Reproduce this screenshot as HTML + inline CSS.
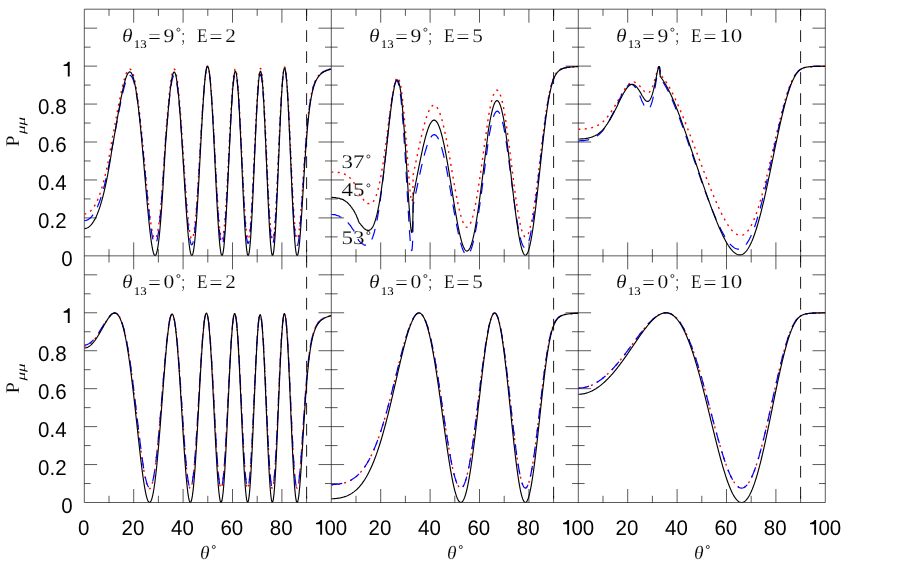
<!DOCTYPE html><html><head><meta charset="utf-8"><title>P</title><style>html,body{margin:0;padding:0;background:#fff}svg{display:block}text{font-family:"Liberation Sans",sans-serif;text-rendering:geometricPrecision}.s text{font-family:"Liberation Serif",serif;fill:#000;stroke:#fff;stroke-width:0.16px;paint-order:fill stroke}.s text.sub{stroke-width:0}.s circle{fill:none;stroke:#222;stroke-width:0.85}</style></head><body>
<svg width="900" height="564" viewBox="0 0 900 564">
<rect width="900" height="564" fill="#fff"/>
<path d="M84.30 9.20V502.50M331.30 9.20V502.50M578.30 9.20V502.50M825.30 9.20V502.50M84.30 9.20H825.30M84.30 255.85H825.30M84.30 502.50H825.30M109.00 9.20v6.7M109.00 255.85v-6.7M133.70 9.20v13.5M133.70 255.85v-13.5M158.40 9.20v6.7M158.40 255.85v-6.7M183.10 9.20v13.5M183.10 255.85v-13.5M207.80 9.20v6.7M207.80 255.85v-6.7M232.50 9.20v13.5M232.50 255.85v-13.5M257.20 9.20v6.7M257.20 255.85v-6.7M281.90 9.20v13.5M281.90 255.85v-13.5M306.60 9.20v6.7M306.60 255.85v-6.7M84.30 236.88h6.3M331.30 236.88h-6.3M84.30 217.90h12.8M331.30 217.90h-12.8M84.30 198.93h6.3M331.30 198.93h-6.3M84.30 179.96h12.8M331.30 179.96h-12.8M84.30 160.98h6.3M331.30 160.98h-6.3M84.30 142.01h12.8M331.30 142.01h-12.8M84.30 123.04h6.3M331.30 123.04h-6.3M84.30 104.07h12.8M331.30 104.07h-12.8M84.30 85.09h6.3M331.30 85.09h-6.3M84.30 66.12h12.8M331.30 66.12h-12.8M84.30 47.15h6.3M331.30 47.15h-6.3M84.30 28.17h12.8M331.30 28.17h-12.8M109.00 255.85v6.7M109.00 502.50v-6.7M133.70 255.85v13.5M133.70 502.50v-13.5M158.40 255.85v6.7M158.40 502.50v-6.7M183.10 255.85v13.5M183.10 502.50v-13.5M207.80 255.85v6.7M207.80 502.50v-6.7M232.50 255.85v13.5M232.50 502.50v-13.5M257.20 255.85v6.7M257.20 502.50v-6.7M281.90 255.85v13.5M281.90 502.50v-13.5M306.60 255.85v6.7M306.60 502.50v-6.7M84.30 483.53h6.3M331.30 483.53h-6.3M84.30 464.55h12.8M331.30 464.55h-12.8M84.30 445.58h6.3M331.30 445.58h-6.3M84.30 426.61h12.8M331.30 426.61h-12.8M84.30 407.63h6.3M331.30 407.63h-6.3M84.30 388.66h12.8M331.30 388.66h-12.8M84.30 369.69h6.3M331.30 369.69h-6.3M84.30 350.72h12.8M331.30 350.72h-12.8M84.30 331.74h6.3M331.30 331.74h-6.3M84.30 312.77h12.8M331.30 312.77h-12.8M84.30 293.80h6.3M331.30 293.80h-6.3M84.30 274.82h12.8M331.30 274.82h-12.8M356.00 9.20v6.7M356.00 255.85v-6.7M380.70 9.20v13.5M380.70 255.85v-13.5M405.40 9.20v6.7M405.40 255.85v-6.7M430.10 9.20v13.5M430.10 255.85v-13.5M454.80 9.20v6.7M454.80 255.85v-6.7M479.50 9.20v13.5M479.50 255.85v-13.5M504.20 9.20v6.7M504.20 255.85v-6.7M528.90 9.20v13.5M528.90 255.85v-13.5M553.60 9.20v6.7M553.60 255.85v-6.7M331.30 236.88h6.3M578.30 236.88h-6.3M331.30 217.90h12.8M578.30 217.90h-12.8M331.30 198.93h6.3M578.30 198.93h-6.3M331.30 179.96h12.8M578.30 179.96h-12.8M331.30 160.98h6.3M578.30 160.98h-6.3M331.30 142.01h12.8M578.30 142.01h-12.8M331.30 123.04h6.3M578.30 123.04h-6.3M331.30 104.07h12.8M578.30 104.07h-12.8M331.30 85.09h6.3M578.30 85.09h-6.3M331.30 66.12h12.8M578.30 66.12h-12.8M331.30 47.15h6.3M578.30 47.15h-6.3M331.30 28.17h12.8M578.30 28.17h-12.8M356.00 255.85v6.7M356.00 502.50v-6.7M380.70 255.85v13.5M380.70 502.50v-13.5M405.40 255.85v6.7M405.40 502.50v-6.7M430.10 255.85v13.5M430.10 502.50v-13.5M454.80 255.85v6.7M454.80 502.50v-6.7M479.50 255.85v13.5M479.50 502.50v-13.5M504.20 255.85v6.7M504.20 502.50v-6.7M528.90 255.85v13.5M528.90 502.50v-13.5M553.60 255.85v6.7M553.60 502.50v-6.7M331.30 483.53h6.3M578.30 483.53h-6.3M331.30 464.55h12.8M578.30 464.55h-12.8M331.30 445.58h6.3M578.30 445.58h-6.3M331.30 426.61h12.8M578.30 426.61h-12.8M331.30 407.63h6.3M578.30 407.63h-6.3M331.30 388.66h12.8M578.30 388.66h-12.8M331.30 369.69h6.3M578.30 369.69h-6.3M331.30 350.72h12.8M578.30 350.72h-12.8M331.30 331.74h6.3M578.30 331.74h-6.3M331.30 312.77h12.8M578.30 312.77h-12.8M331.30 293.80h6.3M578.30 293.80h-6.3M331.30 274.82h12.8M578.30 274.82h-12.8M603.00 9.20v6.7M603.00 255.85v-6.7M627.70 9.20v13.5M627.70 255.85v-13.5M652.40 9.20v6.7M652.40 255.85v-6.7M677.10 9.20v13.5M677.10 255.85v-13.5M701.80 9.20v6.7M701.80 255.85v-6.7M726.50 9.20v13.5M726.50 255.85v-13.5M751.20 9.20v6.7M751.20 255.85v-6.7M775.90 9.20v13.5M775.90 255.85v-13.5M800.60 9.20v6.7M800.60 255.85v-6.7M578.30 236.88h6.3M825.30 236.88h-6.3M578.30 217.90h12.8M825.30 217.90h-12.8M578.30 198.93h6.3M825.30 198.93h-6.3M578.30 179.96h12.8M825.30 179.96h-12.8M578.30 160.98h6.3M825.30 160.98h-6.3M578.30 142.01h12.8M825.30 142.01h-12.8M578.30 123.04h6.3M825.30 123.04h-6.3M578.30 104.07h12.8M825.30 104.07h-12.8M578.30 85.09h6.3M825.30 85.09h-6.3M578.30 66.12h12.8M825.30 66.12h-12.8M578.30 47.15h6.3M825.30 47.15h-6.3M578.30 28.17h12.8M825.30 28.17h-12.8M603.00 255.85v6.7M603.00 502.50v-6.7M627.70 255.85v13.5M627.70 502.50v-13.5M652.40 255.85v6.7M652.40 502.50v-6.7M677.10 255.85v13.5M677.10 502.50v-13.5M701.80 255.85v6.7M701.80 502.50v-6.7M726.50 255.85v13.5M726.50 502.50v-13.5M751.20 255.85v6.7M751.20 502.50v-6.7M775.90 255.85v13.5M775.90 502.50v-13.5M800.60 255.85v6.7M800.60 502.50v-6.7M578.30 483.53h6.3M825.30 483.53h-6.3M578.30 464.55h12.8M825.30 464.55h-12.8M578.30 445.58h6.3M825.30 445.58h-6.3M578.30 426.61h12.8M825.30 426.61h-12.8M578.30 407.63h6.3M825.30 407.63h-6.3M578.30 388.66h12.8M825.30 388.66h-12.8M578.30 369.69h6.3M825.30 369.69h-6.3M578.30 350.72h12.8M825.30 350.72h-12.8M578.30 331.74h6.3M825.30 331.74h-6.3M578.30 312.77h12.8M825.30 312.77h-12.8M578.30 293.80h6.3M825.30 293.80h-6.3M578.30 274.82h12.8M825.30 274.82h-12.8" fill="none" stroke="#000" stroke-width="0.65"/>
<path d="M306.60 9.20V255.85M306.60 255.85V502.50M553.60 9.20V255.85M553.60 255.85V502.50M800.60 9.20V255.85M800.60 255.85V502.50" fill="none" stroke="#000" stroke-width="0.9" stroke-dasharray="11.8 9.2"/>
<defs>
<clipPath id="c00"><rect x="84.30" y="9.20" width="247.0" height="246.65"/></clipPath>
<clipPath id="c01"><rect x="84.30" y="255.85" width="247.0" height="246.65"/></clipPath>
<clipPath id="c10"><rect x="331.30" y="9.20" width="247.0" height="246.65"/></clipPath>
<clipPath id="c11"><rect x="331.30" y="255.85" width="247.0" height="246.65"/></clipPath>
<clipPath id="c20"><rect x="578.30" y="9.20" width="247.0" height="246.65"/></clipPath>
<clipPath id="c21"><rect x="578.30" y="255.85" width="247.0" height="246.65"/></clipPath>
<filter id="gs" x="0" y="0" width="100%" height="100%" filterUnits="userSpaceOnUse" color-interpolation-filters="sRGB"><feColorMatrix type="saturate" values="0"/></filter></defs>
<g clip-path="url(#c00)" fill="none" stroke-linejoin="round">
<path d="M84.30 213.99L84.92 213.96L85.53 213.88L86.15 213.69L86.77 213.51L87.39 213.27L88.00 212.99L88.62 212.64L89.24 212.14L89.86 211.68L90.47 211.11L91.09 210.54L91.71 209.84L92.33 209.16L92.94 208.28L93.56 207.40L94.18 206.45L94.80 205.50L95.41 204.41L96.03 203.25L96.65 201.96L97.27 200.65L97.88 199.19L98.50 197.66L99.12 196.11L99.74 194.41L100.35 192.70L100.97 190.75L101.59 188.88L102.21 186.75L102.82 184.62L103.44 182.40L104.06 180.00L104.68 177.52L105.30 174.94L105.91 172.30L106.53 169.57L107.15 166.65L107.77 163.68L108.38 160.52L109.00 157.42L109.62 154.05L110.23 150.54L110.85 147.05L111.47 142.91L112.09 139.29L112.70 136.07L113.32 132.97L113.94 129.68L114.56 126.36L115.17 123.19L115.79 119.85L116.41 116.50L117.03 113.17L117.64 109.86L118.26 106.75L118.88 103.52L119.50 100.34L120.11 97.41L120.73 94.21L121.35 91.46L121.97 88.64L122.58 85.95L123.20 83.41L123.82 81.02L124.44 78.80L125.06 76.78L125.67 74.96L126.29 73.35L126.91 71.98L127.53 70.86L128.14 69.87L128.76 69.44L129.38 69.03L130.00 69.06L130.61 69.40L131.23 69.96L131.85 71.07L132.47 72.33L133.08 74.03L133.70 76.02L134.32 78.44L134.94 81.17L135.55 84.31L136.17 87.80L136.79 91.61L137.41 95.78L138.02 100.28L138.64 105.11L139.26 110.23L139.88 115.65L140.49 121.33L141.11 127.26L141.73 133.40L142.34 139.72L142.96 146.19L143.58 152.77L144.20 159.41L144.81 166.08L145.43 172.73L146.05 179.31L146.67 185.80L147.28 192.22L147.90 198.43L148.52 204.29L149.14 209.84L149.75 215.12L150.37 219.99L150.99 224.40L151.61 228.30L152.22 231.64L152.84 234.39L153.46 236.51L154.08 237.97L154.69 238.74L155.31 238.77L155.93 238.05L156.55 236.55L157.16 234.30L157.78 231.27L158.40 227.50L158.52 226.63L158.65 225.74L158.77 224.82L158.89 223.87L159.02 222.89L159.02 222.89L159.14 221.88L159.26 220.84L159.39 219.77L159.51 218.68L159.63 217.56L159.64 217.56L159.76 216.41L159.88 215.23L160.01 214.03L160.13 212.80L160.25 211.40L160.25 211.40L160.38 210.27L160.50 208.81L160.62 207.63L160.75 206.13L160.87 204.74L160.87 204.74L160.99 203.34L161.12 201.76L161.24 200.47L161.36 198.84L161.49 197.35L161.49 197.35L161.61 195.84L161.73 194.14L161.86 192.60L161.98 191.04L162.11 189.28L162.11 189.28L162.23 187.68L162.35 186.07L162.48 184.27L162.60 182.45L162.72 180.79L162.72 180.79L162.85 179.12L162.97 177.26L163.09 175.39L163.22 173.51L163.34 171.80L163.34 171.80L163.46 170.08L163.59 168.18L163.71 166.26L163.83 164.36L163.96 162.45L163.96 162.45L164.08 160.54L164.20 158.62L164.33 156.72L164.45 154.82L164.57 152.92L164.58 152.92L164.70 150.76L164.82 148.89L164.95 147.03L165.07 145.06L165.19 143.12L165.19 143.12L165.32 141.12L165.44 139.25L165.56 137.41L165.69 135.48L165.81 133.64L165.81 133.64L165.93 131.86L166.06 130.19L166.18 128.75L166.30 127.24L166.43 125.71L166.43 125.71L166.55 124.21L166.67 122.72L166.80 121.22L166.92 119.74L167.05 118.28L167.05 118.28L167.17 116.83L167.29 115.38L167.42 113.96L167.54 112.54L167.66 111.14L167.66 111.14L167.79 109.75L167.91 108.38L168.03 107.02L168.16 105.67L168.28 104.35L168.28 104.35L168.40 103.03L168.53 101.74L168.65 100.46L168.77 99.21L168.90 97.95L168.90 97.95L169.02 96.73L169.14 95.53L169.27 94.34L169.39 93.18L169.51 92.04L169.52 92.04L169.64 90.93L169.76 89.83L169.89 88.76L170.01 87.72L170.13 86.70L170.13 86.70L170.26 85.70L170.38 84.72L170.50 83.78L170.63 82.86L170.75 81.96L170.75 81.96L170.87 81.10L171.00 80.26L171.12 79.44L171.24 78.64L171.37 77.89L171.37 77.89L171.49 77.15L171.61 76.45L171.74 75.78L171.86 75.14L171.99 74.54L171.99 74.54L172.11 73.96L172.23 73.42L172.36 72.90L172.48 72.42L172.60 71.97L172.60 71.97L172.73 71.55L172.85 71.17L172.97 70.82L173.10 70.50L173.22 70.21L173.84 69.26L174.45 69.21L175.07 70.04L175.69 71.73L176.31 74.33L176.93 77.81L177.54 82.11L178.16 87.25L178.78 93.16L179.39 99.77L180.01 107.05L180.63 114.90L181.25 123.25L181.87 132.00L182.48 141.07L183.10 150.33L183.72 159.69L184.33 169.02L184.95 178.22L185.57 187.16L186.19 195.74L186.81 203.82L187.42 211.30L188.04 218.08L188.66 224.04L189.27 229.12L189.89 233.20L190.51 236.25L191.13 238.18L191.75 238.97L192.36 238.58L192.98 237.00L193.60 234.24L194.22 230.32L194.83 225.28L195.45 219.18L196.07 212.09L196.69 204.11L197.30 195.32L197.92 185.87L198.54 175.89L199.16 165.50L199.77 154.89L200.39 144.19L201.01 133.57L201.62 123.22L202.24 113.28L202.86 103.91L203.48 95.29L204.09 87.56L204.71 80.85L205.33 75.28L205.95 70.96L206.56 67.97L207.18 66.39L207.80 66.24L208.42 67.55L209.03 70.32L209.65 74.51L210.27 80.06L210.89 86.89L211.50 94.89L212.12 103.94L212.74 113.88L213.36 124.55L213.98 135.75L214.59 147.30L215.21 158.98L215.83 170.57L216.44 181.87L217.06 192.67L217.68 202.75L218.30 211.91L218.92 219.99L219.53 226.80L220.15 232.21L220.77 236.11L221.38 238.41L222.00 239.04L222.62 237.98L223.24 235.25L223.86 230.88L224.47 224.95L225.09 217.56L225.71 208.85L226.32 199.00L226.94 188.19L227.56 176.65L228.18 164.61L228.80 152.31L229.41 140.02L230.03 127.99L230.65 116.48L231.26 105.74L231.88 96.01L232.50 87.51L233.12 80.42L233.74 74.91L234.35 71.12L234.97 69.14L235.59 69.02L236.20 70.78L236.82 74.39L237.44 79.79L238.06 86.86L238.68 95.45L239.29 105.39L239.91 116.44L240.53 128.36L241.14 140.88L241.76 153.76L242.38 166.68L243.00 179.33L243.62 191.42L244.23 202.67L244.85 212.80L245.47 221.58L246.08 228.78L246.70 234.23L247.32 237.80L247.94 239.38L248.56 238.92L249.17 236.44L249.79 231.97L250.41 225.61L251.02 217.51L251.64 207.86L252.26 196.88L252.88 184.84L253.50 172.02L254.11 158.74L254.73 145.32L255.35 132.10L255.96 119.41L256.58 107.57L257.20 96.86L257.82 87.56L258.44 79.90L259.05 74.08L259.67 70.25L260.29 68.51L260.90 68.92L261.52 71.47L262.14 76.11L262.76 82.73L263.38 91.15L263.99 101.18L264.61 112.56L265.23 125.01L265.84 138.20L266.46 151.81L267.08 165.47L267.70 178.85L268.31 191.58L268.93 203.34L269.55 213.82L270.17 222.75L270.79 229.90L271.40 235.06L272.02 238.12L272.64 238.98L273.25 237.61L273.87 234.06L274.49 228.40L275.11 220.78L275.73 211.41L276.34 200.52L276.96 188.39L277.58 175.34L278.19 161.72L278.81 147.86L279.43 134.15L280.05 120.92L280.67 108.53L281.28 97.30L281.90 87.51L282.52 79.41L283.13 73.22L283.75 69.08L284.37 67.09L284.99 67.30L285.61 69.69L286.22 74.18L286.84 80.66L287.46 88.94L288.07 98.81L288.69 110.00L289.31 122.21L289.93 135.14L290.55 148.45L291.16 161.82L291.78 174.91L292.40 187.42L293.01 199.04L293.63 209.53L294.25 218.70L294.50 221.91L294.74 224.86L294.87 226.23L294.99 227.54L295.24 229.95L295.48 232.07L295.49 232.07L295.73 233.91L295.98 235.47L296.10 236.14L296.23 236.73L296.47 237.71L296.72 238.39L296.72 238.39L296.97 238.80L297.21 238.90L297.34 238.84L297.46 238.72L297.71 238.26L297.95 237.53L297.95 237.53L298.20 236.54L298.45 235.29L298.57 234.57L298.70 233.80L298.94 232.07L299.19 230.12L299.19 230.12L299.44 227.96L299.68 225.60L299.81 224.35L299.93 223.06L300.18 220.33L300.42 217.45L300.43 217.45L300.67 214.43L300.92 211.27L301.04 209.65L301.17 208.00L301.41 204.62L301.66 201.16L301.66 201.16L301.91 197.62L302.15 194.03L302.28 192.23L302.40 190.39L302.65 186.70L302.89 183.00L302.89 183.00L303.14 179.28L303.39 175.57L303.51 173.72L303.64 171.88L303.88 168.21L304.13 164.58L304.13 164.58L304.38 160.99L304.62 157.46L304.75 155.72L304.87 153.99L305.12 150.59L305.36 147.27L305.37 147.27L305.61 144.02L305.86 140.86L305.98 139.31L306.11 137.79L306.35 134.81L306.60 131.92L306.60 131.92L306.85 129.13L307.09 126.44L307.22 125.13L307.34 123.84L307.59 121.34L307.83 118.94L307.83 118.94L308.08 116.63L308.33 114.42L308.45 113.35L308.58 112.31L308.82 110.28L309.07 108.35L309.07 108.35L309.32 106.50L309.56 104.73L309.69 103.88L309.81 103.05L310.06 101.44L310.30 99.92L310.31 99.92L310.55 98.46L310.80 97.07L310.92 96.41L311.05 95.76L311.29 94.50L311.54 93.31L311.54 93.31L311.79 92.18L312.03 91.10L312.16 90.58L312.28 90.07L312.53 89.10L312.77 88.17L312.77 88.17L313.02 87.29L313.27 86.45L313.39 86.05L313.52 85.66L313.76 84.90L314.01 84.18L314.01 84.18L314.26 83.49L314.50 82.84L314.63 82.53L314.75 82.22L315.00 81.63L315.24 81.07L315.25 81.07L315.49 80.53L315.74 80.02L315.86 79.77L315.99 79.53L316.23 79.06L316.48 78.62L316.48 78.62L316.73 78.20L316.97 77.79L317.10 77.60L317.22 77.40L317.47 77.04L317.71 76.68L317.71 76.68L317.96 76.34L318.21 76.02L318.33 75.87L318.46 75.71L318.70 75.42L318.95 75.13L319.57 74.47L320.19 73.88L320.80 73.35L321.42 72.86L322.04 72.42L322.65 72.02L323.27 71.66L323.89 71.32L324.51 71.02L325.12 70.74L325.74 70.48L326.36 70.24L326.98 70.02L327.59 69.82L328.21 69.63L328.83 69.46L329.45 69.30L330.06 69.15L330.68 69.01L331.30 68.88" stroke="#ff0000" stroke-width="1.4" stroke-dasharray="2 4.5"/>
<path d="M84.30 220.63L84.92 220.60L85.53 220.52L86.15 220.35L86.77 220.16L87.39 219.93L88.00 219.64L88.62 219.29L89.24 218.75L89.86 218.29L90.47 217.73L91.09 217.15L91.71 216.47L92.33 215.77L92.94 214.87L93.56 213.99L94.18 213.05L94.80 212.09L95.41 211.02L96.03 209.87L96.65 208.54L97.27 207.24L97.88 205.81L98.50 204.24L99.12 202.70L99.74 201.03L100.35 199.33L100.97 197.38L101.59 195.51L102.21 193.37L102.82 191.28L103.44 189.10L104.06 186.70L104.68 184.29L105.30 181.71L105.91 179.12L106.53 176.47L107.15 173.59L107.77 170.73L108.38 167.64L109.00 164.65L109.62 161.39L110.23 158.04L110.85 154.80L111.47 151.16L112.09 147.90L112.70 144.62L113.32 141.52L113.94 138.16L114.56 134.78L115.17 131.61L115.79 128.20L116.41 124.79L117.03 121.40L117.64 118.01L118.26 114.90L118.88 111.60L119.50 108.35L120.11 105.42L120.73 102.07L121.35 99.32L121.97 96.42L122.58 93.65L123.20 91.02L123.82 88.53L124.44 86.23L125.06 84.10L125.67 82.19L126.29 80.47L126.91 79.00L127.53 77.78L128.14 76.56L128.76 76.13L129.38 75.49L130.00 75.41L130.61 75.63L131.23 75.93L131.85 77.05L132.47 78.07L133.08 79.64L133.70 81.38L134.32 83.68L134.94 86.16L135.55 89.20L136.17 92.58L136.79 96.17L137.41 100.10L138.02 104.53L138.64 109.15L139.26 114.21L139.88 119.46L140.49 124.99L141.11 130.78L141.73 136.81L142.34 143.03L142.96 149.43L143.58 155.95L144.20 162.57L144.81 169.24L145.43 175.91L146.05 182.55L146.67 189.09L147.28 195.55L147.90 201.85L148.52 207.83L149.14 213.52L149.75 218.95L150.37 223.97L150.99 228.55L151.61 232.63L152.22 236.15L152.84 239.07L153.46 241.35L154.08 242.95L154.69 243.85L155.31 243.98L155.93 243.32L156.55 241.84L157.16 239.55L157.78 236.43L158.40 232.53L158.52 231.62L158.65 230.69L158.77 229.73L158.89 228.74L159.02 227.71L159.02 227.71L159.14 226.65L159.26 225.56L159.39 224.44L159.51 223.29L159.63 222.11L159.64 222.11L159.76 220.90L159.88 219.67L160.01 218.40L160.13 217.11L160.25 215.61L160.25 215.61L160.38 214.44L160.50 212.89L160.62 211.67L160.75 210.06L160.87 208.60L160.87 208.60L160.99 207.13L161.12 205.43L161.24 204.11L161.36 202.37L161.49 200.79L161.49 200.79L161.61 199.21L161.73 197.40L161.86 195.78L161.98 194.14L162.11 192.28L162.11 192.28L162.23 190.60L162.35 188.92L162.48 187.01L162.60 185.09L162.72 183.36L162.72 183.36L162.85 181.62L162.97 179.67L163.09 177.72L163.22 175.76L163.34 173.98L163.34 173.98L163.46 172.21L163.59 170.25L163.71 168.27L163.83 166.31L163.96 164.36L163.96 164.36L164.08 162.41L164.20 160.47L164.33 158.55L164.45 156.64L164.57 154.75L164.58 154.75L164.70 152.64L164.82 150.81L164.95 148.99L165.07 147.12L165.19 145.30L165.19 145.30L165.32 143.48L165.44 141.77L165.56 140.12L165.69 138.54L165.81 137.09L165.81 137.09L165.93 135.83L166.06 135.30L166.18 134.55L166.30 133.04L166.43 131.52L166.43 131.52L166.55 130.02L166.67 128.54L166.80 127.04L166.92 125.57L167.05 124.12L167.05 124.12L167.17 122.67L167.29 121.24L167.42 119.82L167.54 118.42L167.66 117.02L167.66 117.02L167.79 115.64L167.91 114.28L168.03 112.93L168.16 111.59L168.28 110.27L168.28 110.27L168.40 108.97L168.53 107.68L168.65 106.42L168.77 105.17L168.90 103.91L168.90 103.91L169.02 102.70L169.14 101.51L169.27 100.31L169.39 99.16L169.51 98.03L169.52 98.03L169.64 96.93L169.76 95.83L169.89 94.77L170.01 93.74L170.13 92.73L170.13 92.73L170.26 91.74L170.38 90.76L170.50 89.83L170.63 88.92L170.75 88.03L170.75 88.03L170.87 87.17L171.00 86.34L171.12 85.54L171.24 84.73L171.37 83.99L171.37 83.99L171.49 83.24L171.61 82.55L171.74 81.90L171.86 81.27L171.99 80.67L171.99 80.67L172.11 80.10L172.23 79.57L172.36 79.06L172.48 78.59L172.60 78.15L172.60 78.15L172.73 77.74L172.85 77.37L172.97 77.03L173.10 76.72L173.22 76.44L173.84 75.51L174.45 75.51L175.07 76.39L175.69 78.11L176.31 80.77L176.93 84.31L177.54 88.63L178.16 93.83L178.78 99.80L179.39 106.45L180.01 113.78L180.63 121.68L181.25 130.05L181.87 138.85L182.48 147.95L183.10 157.23L183.72 166.61L184.33 175.94L184.95 185.15L185.57 194.09L186.19 202.62L186.81 210.67L187.42 218.10L188.04 224.81L188.66 230.70L189.27 235.66L189.89 239.64L190.51 242.55L191.13 244.33L191.75 244.94L192.36 244.36L192.98 242.58L193.60 239.60L194.22 235.44L194.83 230.15L195.45 223.78L196.07 216.41L196.69 208.13L197.30 199.06L197.92 189.30L198.54 179.01L199.16 168.32L199.77 157.40L200.39 146.40L201.01 135.49L201.62 124.85L202.24 114.64L202.86 105.02L203.48 96.17L204.09 88.23L204.71 81.33L205.33 75.60L205.95 71.15L206.56 68.07L207.18 66.42L207.80 66.24L208.42 67.57L209.03 70.37L209.65 74.64L210.27 80.31L210.89 87.29L211.50 95.48L212.12 104.74L212.74 114.93L213.36 125.87L213.98 137.38L214.59 149.24L215.21 161.26L215.83 173.22L216.44 184.88L217.06 196.05L217.68 206.50L218.30 216.04L218.92 224.47L219.53 231.64L220.15 237.39L220.77 241.61L221.38 244.20L222.00 245.10L222.62 244.29L223.24 241.76L223.86 237.56L224.47 231.76L225.09 224.48L225.71 215.84L226.32 206.02L226.94 195.21L227.56 183.63L228.18 171.50L228.80 159.11L229.41 146.69L230.03 134.51L230.65 122.84L231.26 111.91L231.88 101.99L232.50 93.28L233.12 85.98L233.74 80.27L234.35 76.28L234.97 74.10L235.59 73.81L236.20 75.40L236.82 78.87L237.44 84.14L238.06 91.10L238.68 99.60L239.29 109.45L239.91 120.42L240.53 132.26L241.14 144.58L241.76 157.44L242.38 170.34L243.00 182.99L243.62 195.11L244.23 206.39L244.85 216.56L245.47 225.39L246.08 232.65L246.70 238.17L247.32 241.80L247.94 243.45L248.56 243.06L249.17 240.65L249.79 236.24L250.41 229.95L251.02 221.91L251.64 212.32L252.26 201.40L252.88 189.42L253.50 176.66L254.11 163.44L254.73 150.10L255.35 136.95L255.96 124.36L256.58 112.65L257.20 102.06L257.82 92.89L258.44 85.36L259.05 79.68L259.67 76.00L260.29 74.41L260.90 74.98L261.52 77.69L262.14 82.49L262.76 89.25L263.38 97.81L263.99 107.97L264.61 119.46L265.23 131.99L265.84 145.25L266.46 158.89L267.08 172.57L267.70 185.92L268.31 198.60L268.93 210.30L269.55 220.69L270.17 229.43L270.79 236.35L271.40 241.26L272.02 244.02L272.64 244.56L273.25 242.84L273.87 238.92L274.49 232.89L275.11 224.90L275.73 215.14L276.34 203.88L276.96 191.40L277.58 178.02L278.19 164.09L278.81 149.98L279.43 136.04L280.05 122.64L280.67 110.13L281.28 98.83L281.90 89.03L282.52 80.98L283.13 74.89L283.75 70.91L284.37 69.13L284.99 69.60L285.61 72.29L286.22 77.13L286.84 83.97L287.46 92.64L288.07 102.91L288.69 114.50L289.31 127.11L289.93 140.42L290.55 154.09L291.16 167.78L291.78 181.15L292.40 193.88L293.01 205.68L293.63 216.26L294.25 225.33L294.50 228.59L294.74 231.57L294.87 232.96L294.99 234.28L295.24 236.70L295.48 238.83L295.49 238.83L295.73 240.67L295.98 242.21L296.10 242.87L296.23 243.45L296.47 244.38L296.72 245.01L296.72 245.01L296.97 245.33L297.21 245.39L297.34 245.31L297.46 245.16L297.71 244.64L297.95 243.84L297.95 243.84L298.20 242.77L298.45 241.44L298.57 240.68L298.70 239.86L298.94 238.04L299.19 235.99L299.19 235.99L299.44 233.71L299.68 231.24L299.81 229.93L299.93 228.57L300.18 225.73L300.42 222.72L300.43 222.72L300.67 219.56L300.92 216.27L301.04 214.57L301.17 212.85L301.41 209.33L301.66 205.72L301.66 205.72L301.91 202.04L302.15 198.28L302.28 196.37L302.40 194.48L302.65 190.67L302.89 186.84L302.89 186.84L303.14 183.01L303.39 179.18L303.51 177.27L303.64 175.36L303.88 171.58L304.13 167.83L304.13 167.83L304.38 164.12L304.62 160.48L304.75 158.68L304.87 156.90L305.12 153.39L305.36 149.95L305.37 149.95L305.61 146.60L305.86 143.34L305.98 141.74L306.11 140.17L306.35 137.09L306.60 134.11L306.60 134.11L306.85 131.23L307.09 128.45L307.22 127.09L307.34 125.77L307.59 123.19L307.83 120.71L307.83 120.71L308.08 118.33L308.33 116.04L308.45 114.94L308.58 113.86L308.82 111.77L309.07 109.77L309.07 109.77L309.32 107.86L309.56 106.03L309.69 105.15L309.81 104.29L310.06 102.64L310.30 101.06L310.31 101.06L310.55 99.55L310.80 98.12L310.92 97.43L311.05 96.76L311.29 95.46L311.54 94.23L311.54 94.23L311.79 93.06L312.03 91.94L312.16 91.41L312.28 90.89L312.53 89.88L312.77 88.92L312.77 88.92L313.02 88.01L313.27 87.14L313.39 86.73L313.52 86.32L313.76 85.54L314.01 84.79L314.01 84.79L314.26 84.08L314.50 83.41L314.63 83.08L314.75 82.77L315.00 82.16L315.24 81.57L315.25 81.57L315.49 81.02L315.74 80.49L315.86 80.23L315.99 79.99L316.23 79.50L316.48 79.05L316.48 79.05L316.73 78.61L316.97 78.19L317.10 77.99L317.22 77.79L317.47 77.41L317.71 77.04L317.71 77.04L317.96 76.69L318.21 76.36L318.33 76.20L318.46 76.04L318.70 75.73L318.95 75.44L319.57 74.76L320.19 74.15L320.80 73.59L321.42 73.09L322.04 72.64L322.65 72.22L323.27 71.84L323.89 71.50L324.51 71.18L325.12 70.89L325.74 70.63L326.36 70.38L326.98 70.16L327.59 69.95L328.21 69.75L328.83 69.57L329.45 69.41L330.06 69.25L330.68 69.11L331.30 68.97" stroke="#0000ff" stroke-width="1.2" stroke-dasharray="11 8.5"/>
<path d="M84.30 228.60L84.92 228.57L85.53 228.49L86.15 228.28L86.77 228.09L87.39 227.83L88.00 227.52L88.62 227.15L89.24 226.59L89.86 226.09L90.47 225.47L91.09 224.86L91.71 224.11L92.33 223.36L92.94 222.41L93.56 221.45L94.18 220.42L94.80 219.40L95.41 218.22L96.03 216.97L96.65 215.56L97.27 214.14L97.88 212.57L98.50 210.91L99.12 209.24L99.74 207.40L100.35 205.56L100.97 203.45L101.59 201.42L102.21 199.12L102.82 196.83L103.44 194.44L104.06 191.85L104.68 189.19L105.30 186.40L105.91 183.56L106.53 180.64L107.15 177.50L107.77 174.32L108.38 170.94L109.00 167.62L109.62 164.01L110.23 160.28L110.85 156.59L111.47 152.29L112.09 148.50L112.70 145.01L113.32 141.66L113.94 138.09L114.56 134.49L115.17 131.07L115.79 127.44L116.41 123.81L117.03 120.20L117.64 116.60L118.26 113.25L118.88 109.74L119.50 106.28L120.11 103.12L120.73 99.62L121.35 96.65L121.97 93.59L122.58 90.66L123.20 87.88L123.82 85.26L124.44 82.84L125.06 80.62L125.67 78.62L126.29 76.84L126.91 75.33L127.53 74.08L128.14 72.92L128.76 72.46L129.38 71.93L130.00 71.91L130.61 72.23L131.23 72.73L131.85 73.94L132.47 75.20L133.08 76.98L133.70 79.03L134.32 81.59L134.94 84.43L135.55 87.78L136.17 91.51L136.79 95.53L137.41 99.94L138.02 104.78L138.64 109.91L139.26 115.42L139.88 121.21L140.49 127.30L141.11 133.66L141.73 140.25L142.34 147.06L142.96 154.03L143.58 161.14L144.20 168.33L144.81 175.56L145.43 182.79L146.05 189.95L146.67 197.02L147.28 204.02L147.90 210.81L148.52 217.23L149.14 223.33L149.75 229.15L150.37 234.52L150.99 239.41L151.61 243.74L152.22 247.48L152.84 250.57L153.46 252.97L154.08 254.64L154.69 255.56L155.31 255.67L155.93 254.92L156.55 253.33L157.16 250.87L157.78 247.56L158.40 243.41L158.52 242.45L158.65 241.47L158.77 240.44L158.89 239.39L159.02 238.31L159.02 238.31L159.14 237.19L159.26 236.04L159.39 234.85L159.51 233.64L159.63 232.39L159.64 232.39L159.76 231.12L159.88 229.81L160.01 228.47L160.13 227.11L160.25 225.54L160.25 225.54L160.38 224.29L160.50 222.66L160.62 221.36L160.75 219.67L160.87 218.13L160.87 218.13L160.99 216.58L161.12 214.80L161.24 213.39L161.36 211.56L161.49 209.90L161.49 209.90L161.61 208.23L161.73 206.33L161.86 204.61L161.98 202.88L162.11 200.91L162.11 200.91L162.23 199.14L162.35 197.35L162.48 195.34L162.60 193.31L162.72 191.48L162.72 191.48L162.85 189.63L162.97 187.56L163.09 185.49L163.22 183.41L163.34 181.52L163.34 181.52L163.46 179.63L163.59 177.53L163.71 175.41L163.83 173.32L163.96 171.22L163.96 171.22L164.08 169.13L164.20 167.03L164.33 164.95L164.45 162.88L164.57 160.83L164.58 160.83L164.70 158.50L164.82 156.49L164.95 154.49L165.07 152.39L165.19 150.34L165.19 150.34L165.32 148.25L165.44 146.29L165.56 144.39L165.69 142.46L165.81 140.64L165.81 140.64L165.93 138.95L166.06 137.67L166.18 136.42L166.30 134.78L166.43 133.13L166.43 133.13L166.55 131.51L166.67 129.89L166.80 128.27L166.92 126.67L167.05 125.09L167.05 125.09L167.17 123.52L167.29 121.96L167.42 120.42L167.54 118.89L167.66 117.37L167.66 117.37L167.79 115.87L167.91 114.38L168.03 112.91L168.16 111.46L168.28 110.03L168.28 110.03L168.40 108.61L168.53 107.21L168.65 105.83L168.77 104.47L168.90 103.11L168.90 103.11L169.02 101.79L169.14 100.49L169.27 99.20L169.39 97.94L169.51 96.72L169.52 96.72L169.64 95.51L169.76 94.32L169.89 93.17L170.01 92.04L170.13 90.94L170.13 90.94L170.26 89.86L170.38 88.80L170.50 87.78L170.63 86.78L170.75 85.82L170.75 85.82L170.87 84.88L171.00 83.97L171.12 83.10L171.24 82.23L171.37 81.41L171.37 81.41L171.49 80.60L171.61 79.85L171.74 79.13L171.86 78.44L171.99 77.79L171.99 77.79L172.11 77.17L172.23 76.58L172.36 76.02L172.48 75.50L172.60 75.02L172.60 75.02L172.73 74.57L172.85 74.15L172.97 73.78L173.10 73.43L173.22 73.13L173.84 72.10L174.45 72.05L175.07 72.96L175.69 74.80L176.31 77.63L176.93 81.41L177.54 86.07L178.16 91.65L178.78 98.07L179.39 105.24L180.01 113.14L180.63 121.65L181.25 130.69L181.87 140.19L182.48 150.02L183.10 160.05L183.72 170.19L184.33 180.30L184.95 190.26L185.57 199.94L186.19 209.21L186.81 217.94L187.42 226.03L188.04 233.34L188.66 239.77L189.27 245.22L189.89 249.61L190.51 252.85L191.13 254.89L191.75 255.68L192.36 255.18L192.98 253.40L193.60 250.32L194.22 245.99L194.83 240.43L195.45 233.72L196.07 225.93L196.69 217.18L197.30 207.55L197.92 197.20L198.54 186.27L199.16 174.90L199.77 163.29L200.39 151.58L201.01 139.96L201.62 128.64L202.24 117.76L202.86 107.52L203.48 98.09L204.09 89.63L204.71 82.28L205.33 76.18L205.95 71.45L206.56 68.17L207.18 66.42L207.80 66.24L208.42 67.66L209.03 70.66L209.65 75.22L210.27 81.27L210.89 88.72L211.50 97.45L212.12 107.33L212.74 118.18L213.36 129.83L213.98 142.08L214.59 154.70L215.21 167.48L215.83 180.18L216.44 192.56L217.06 204.39L217.68 215.45L218.30 225.52L218.92 234.41L219.53 241.93L220.15 247.93L220.77 252.28L221.38 254.88L222.00 255.68L222.62 254.64L223.24 251.76L223.86 247.10L224.47 240.74L225.09 232.78L225.71 223.39L226.32 212.74L226.94 201.04L227.56 188.53L228.18 175.47L228.80 162.12L229.41 148.76L230.03 135.69L230.65 123.17L231.26 111.47L231.88 100.87L232.50 91.59L233.12 83.84L233.74 77.81L234.35 73.64L234.97 71.43L235.59 71.24L236.20 73.09L236.82 76.97L237.44 82.78L238.06 90.41L238.68 99.70L239.29 110.44L239.91 122.39L240.53 135.28L241.14 148.75L241.76 162.71L242.38 176.71L243.00 190.42L243.62 203.54L244.23 215.74L244.85 226.74L245.47 236.28L246.08 244.11L246.70 250.05L247.32 253.94L247.94 255.68L248.56 255.21L249.17 252.54L249.79 247.73L250.41 240.86L251.02 232.11L251.64 221.68L252.26 209.80L252.88 196.77L253.50 182.90L254.11 168.53L254.73 154.01L255.35 139.70L255.96 125.98L256.58 113.19L257.20 101.63L257.82 91.59L258.44 83.33L259.05 77.06L259.67 72.96L260.29 71.12L260.90 71.62L261.52 74.44L262.14 79.51L262.76 86.73L263.38 95.90L263.99 106.81L264.61 119.18L265.23 132.69L265.84 147.01L266.46 161.76L267.08 176.57L267.70 191.06L268.31 204.83L268.93 217.56L269.55 228.88L270.17 238.49L270.79 246.15L271.40 251.65L272.02 254.86L272.64 255.67L273.25 254.06L273.87 250.07L274.49 243.80L275.11 235.41L275.73 225.11L276.34 213.17L276.96 199.90L277.58 185.63L278.19 170.75L278.81 155.64L279.43 140.69L280.05 126.29L280.67 112.81L281.28 100.61L281.90 89.99L282.52 81.22L283.13 74.54L283.75 70.10L284.37 68.01L284.99 68.32L285.61 71.01L286.22 75.99L286.84 83.14L287.46 92.25L288.07 103.07L288.69 115.33L289.31 128.70L289.93 142.84L290.55 157.39L291.16 171.98L291.78 186.26L292.40 199.89L293.01 212.54L293.63 223.93L294.25 233.82L294.50 237.31L294.74 240.52L294.87 242.01L294.99 243.43L295.24 246.04L295.48 248.35L295.49 248.35L295.73 250.34L295.98 252.02L296.10 252.74L296.23 253.38L296.47 254.42L296.72 255.15L296.72 255.15L296.97 255.56L297.21 255.65L297.34 255.58L297.46 255.43L297.71 254.91L297.95 254.10L297.95 254.10L298.20 253.00L298.45 251.62L298.57 250.83L298.70 249.97L298.94 248.07L299.19 245.92L299.19 245.92L299.44 243.54L299.68 240.94L299.81 239.56L299.93 238.14L300.18 235.14L300.42 231.98L300.43 231.98L300.67 228.65L300.92 225.18L301.04 223.40L301.17 221.58L301.41 217.87L301.66 214.07L301.66 214.07L301.91 210.18L302.15 206.23L302.28 204.24L302.40 202.23L302.65 198.19L302.89 194.13L302.89 194.13L303.14 190.06L303.39 186.00L303.51 183.98L303.64 181.96L303.88 177.94L304.13 173.96L304.13 173.96L304.38 170.04L304.62 166.17L304.75 164.26L304.87 162.37L305.12 158.65L305.36 155.01L305.37 155.01L305.61 151.45L305.86 147.99L305.98 146.30L306.11 144.63L306.35 141.36L306.60 138.20L306.60 138.20L306.85 135.15L307.09 132.20L307.22 130.76L307.34 129.35L307.59 126.62L307.83 123.99L307.83 123.99L308.08 121.46L308.33 119.04L308.45 117.87L308.58 116.72L308.82 114.51L309.07 112.39L309.07 112.39L309.32 110.36L309.56 108.43L309.69 107.49L309.81 106.58L310.06 104.82L310.30 103.15L310.31 103.15L310.55 101.56L310.80 100.04L310.92 99.31L311.05 98.59L311.29 97.22L311.54 95.91L311.54 95.91L311.79 94.67L312.03 93.49L312.16 92.92L312.28 92.37L312.53 91.30L312.77 90.28L312.77 90.28L313.02 89.32L313.27 88.40L313.39 87.96L313.52 87.53L313.76 86.70L314.01 85.91L314.01 85.91L314.26 85.16L314.50 84.44L314.63 84.10L314.75 83.76L315.00 83.12L315.24 82.50L315.25 82.50L315.49 81.91L315.74 81.35L315.86 81.08L315.99 80.81L316.23 80.30L316.48 79.82L316.48 79.82L316.73 79.35L316.97 78.91L317.10 78.70L317.22 78.49L317.47 78.08L317.71 77.69L317.71 77.69L317.96 77.32L318.21 76.97L318.33 76.80L318.46 76.63L318.70 76.31L318.95 76.00L319.57 75.28L320.19 74.63L320.80 74.04L321.42 73.51L322.04 73.02L322.65 72.59L323.27 72.19L323.89 71.82L324.51 71.49L325.12 71.18L325.74 70.90L326.36 70.64L326.98 70.40L327.59 70.18L328.21 69.97L328.83 69.78L329.45 69.60L330.06 69.44L330.68 69.28L331.30 69.14" stroke="#000" stroke-width="1.15"/>
</g>
<g clip-path="url(#c10)" fill="none" stroke-linejoin="round">
<path d="M331.30 172.09L331.92 172.09L332.54 172.08L333.15 172.13L333.77 172.13L334.39 172.12L335.00 172.12L335.62 172.12L336.24 172.38L336.86 172.39L337.48 172.44L338.09 172.46L338.71 172.52L339.33 172.54L339.94 172.87L340.56 172.96L341.18 173.06L341.80 173.11L342.42 173.22L343.03 173.35L343.65 173.79L344.27 173.96L344.88 174.22L345.50 174.75L346.12 174.96L346.74 175.27L347.36 175.52L347.97 176.25L348.59 176.55L349.21 177.36L349.82 177.79L350.44 178.24L351.06 179.16L351.68 179.75L352.30 180.76L352.91 181.43L353.53 182.09L354.15 183.29L354.76 184.09L355.38 185.44L356.00 186.28L356.62 187.75L357.24 189.33L357.85 190.44L358.47 192.65L359.09 193.84L359.71 194.85L360.32 195.30L360.94 196.30L361.56 197.27L362.18 197.68L362.79 198.60L363.41 199.48L364.03 200.31L364.64 201.08L365.26 201.35L365.88 202.01L366.50 202.60L367.12 202.69L367.73 203.52L368.35 203.45L368.97 203.68L369.59 203.79L370.20 203.78L370.82 203.64L371.44 203.34L372.06 202.90L372.67 202.31L373.29 201.55L373.91 200.62L374.53 199.51L375.14 198.23L375.76 196.76L376.38 195.03L377.00 193.14L377.61 191.07L378.23 188.59L378.85 186.34L379.47 183.42L380.08 180.55L380.70 177.14L381.32 173.90L381.94 170.06L382.55 166.47L383.17 162.74L383.79 158.37L384.41 153.82L385.02 149.72L385.64 144.95L386.26 140.71L386.88 135.82L387.49 130.91L388.11 126.02L388.73 121.17L389.35 116.40L389.96 111.75L390.58 107.25L391.20 102.94L391.81 98.86L392.43 95.04L393.05 91.51L393.67 88.30L394.29 85.20L394.90 82.62L395.52 80.67L396.14 79.13L396.75 78.09L397.37 77.66L397.99 77.86L398.61 78.67L399.23 80.12L399.84 82.15L400.46 84.78L401.08 87.96L401.69 92.43L402.31 97.54L402.93 103.19L403.55 109.32L404.17 115.85L404.78 122.71L405.40 129.75L405.52 131.40L405.65 133.04L405.77 134.68L405.89 136.33L406.02 137.97L406.02 137.97L406.14 139.62L406.26 141.26L406.39 142.90L406.51 144.54L406.63 146.17L406.64 146.17L406.76 147.80L406.88 149.42L407.01 151.03L407.13 152.63L407.25 155.25L407.25 155.25L407.38 155.79L407.50 158.38L407.62 158.91L407.75 161.45L407.87 162.97L407.87 162.97L407.99 164.46L408.12 166.90L408.24 167.38L408.36 169.75L408.49 171.16L408.49 171.16L408.61 172.53L408.73 174.77L408.86 176.07L408.98 177.34L409.11 179.43L409.11 179.43L409.23 180.63L409.35 181.80L409.48 183.72L409.60 185.55L409.72 186.59L409.72 186.59L409.85 187.58L409.97 189.22L410.09 190.77L410.22 192.23L410.34 193.01L410.34 193.01L410.46 193.76L410.59 195.00L410.71 196.13L410.83 197.15L410.96 198.07L410.96 198.07L411.08 198.89L411.20 199.59L411.33 200.18L411.45 200.66L411.58 201.03L411.58 201.03L411.70 201.54L411.82 201.60L411.95 201.54L412.07 201.33L412.19 200.91L412.19 200.91L412.32 200.10L412.44 199.18L412.56 198.04L412.69 195.94L412.81 193.34L412.81 193.34L412.93 189.66L413.06 180.97L413.18 174.68L413.30 174.11L413.43 173.52L413.43 173.52L413.55 172.95L413.67 172.37L413.80 171.78L413.92 171.20L414.05 170.63L414.05 170.63L414.17 170.05L414.29 169.47L414.42 168.89L414.54 168.31L414.66 167.73L414.66 167.73L414.79 167.15L414.91 166.57L415.03 165.99L415.16 165.41L415.28 164.82L415.28 164.82L415.40 164.24L415.53 163.66L415.65 163.07L415.77 162.49L415.90 161.88L415.90 161.88L416.02 161.30L416.14 160.71L416.27 160.11L416.39 159.52L416.51 158.94L416.52 158.94L416.64 158.35L416.76 157.76L416.89 157.18L417.01 156.59L417.13 156.01L417.13 156.01L417.26 155.43L417.38 154.84L417.50 154.26L417.63 153.68L417.75 153.10L417.75 153.10L417.87 152.52L418.00 151.94L418.12 151.36L418.24 150.76L418.37 150.18L418.37 150.18L418.49 149.59L418.61 149.01L418.74 148.44L418.86 147.87L418.99 147.30L418.99 147.30L419.11 146.73L419.23 146.16L419.36 145.60L419.48 145.03L419.60 144.47L419.60 144.47L419.73 143.91L419.85 143.35L419.97 142.79L420.10 142.23L420.22 141.68L420.84 138.89L421.46 136.20L422.07 133.58L422.69 130.99L423.31 128.53L423.93 126.15L424.54 123.81L425.16 121.63L425.78 119.56L426.39 117.56L427.01 115.73L427.63 114.01L428.25 112.40L428.87 110.98L429.48 109.70L430.10 108.53L430.72 107.55L431.34 106.71L431.95 106.07L432.57 105.60L433.19 105.26L433.81 105.13L434.42 105.15L435.04 105.38L435.66 105.78L436.27 106.35L436.89 107.12L437.51 108.05L438.13 109.18L438.75 110.46L439.36 111.95L439.98 113.59L440.60 115.40L441.22 117.38L441.83 119.52L442.45 121.81L443.07 124.25L443.69 126.84L444.30 129.56L444.92 132.41L445.54 135.38L446.16 138.46L446.77 141.63L447.39 144.90L448.01 148.26L448.62 151.67L449.24 155.16L449.86 158.69L450.48 162.25L451.10 165.84L451.71 169.44L452.33 173.04L452.95 176.62L453.56 180.18L454.18 183.70L454.80 187.16L455.42 190.57L456.04 193.89L456.65 197.12L457.27 200.25L457.89 203.26L458.50 206.14L459.12 208.88L459.74 211.47L460.36 213.89L460.98 216.15L461.59 218.21L462.21 220.09L462.83 221.76L463.45 223.21L464.06 224.46L464.68 225.48L465.30 226.26L465.92 226.83L466.53 227.12L467.15 227.19L467.77 227.01L468.38 226.59L469.00 225.89L469.62 224.97L470.24 223.80L470.86 222.37L471.47 220.71L472.09 218.81L472.71 216.67L473.33 214.31L473.94 211.74L474.56 208.94L475.18 205.95L475.80 202.77L476.41 199.40L477.03 195.86L477.65 192.17L478.26 188.33L478.88 184.36L479.50 180.28L480.12 176.09L480.74 171.83L481.35 167.48L481.97 163.09L482.59 158.66L483.21 154.21L483.82 149.74L484.44 145.29L485.06 140.85L485.68 136.45L486.29 132.09L486.91 127.76L487.53 123.37L488.14 118.39L488.76 114.86L489.38 111.53L490.00 108.38L490.62 105.44L491.23 102.72L491.85 100.21L492.47 97.95L493.09 95.95L493.70 94.23L494.32 92.80L494.94 91.67L495.56 90.84L496.17 90.32L496.79 90.11L497.41 90.21L498.02 90.63L498.64 91.36L499.26 92.40L499.88 93.75L500.50 95.40L501.11 97.34L501.73 99.56L502.35 102.04L502.97 104.73L503.58 107.70L504.20 111.14L504.82 114.82L505.44 118.70L506.05 122.79L506.67 127.05L507.29 131.47L507.90 136.04L508.52 140.72L509.14 145.51L509.76 150.38L510.38 155.31L510.99 160.28L511.61 165.26L512.23 170.24L512.85 175.18L513.46 180.07L514.08 184.89L514.70 189.62L515.32 194.22L515.93 198.69L516.55 202.99L517.17 207.12L517.79 211.06L518.40 214.77L519.02 218.24L519.64 221.46L520.25 224.41L520.87 227.08L521.49 229.45L522.11 231.51L522.73 233.25L523.34 234.67L523.96 235.75L524.58 236.49L525.20 236.89L525.81 236.94L526.43 236.64L527.05 236.00L527.66 235.01L528.28 233.68L528.90 232.01L529.52 230.02L530.13 227.70L530.75 225.08L531.37 222.16L531.99 218.95L532.61 215.48L533.22 211.75L533.84 207.78L534.46 203.59L535.08 199.21L535.69 194.65L536.31 189.92L536.93 185.07L537.55 180.09L538.16 175.03L538.78 169.90L539.40 164.73L540.01 159.53L540.63 154.34L541.25 149.19L541.50 147.13L541.74 145.08L541.87 144.06L541.99 143.05L542.24 141.02L542.48 139.01L542.49 139.01L542.73 137.01L542.98 135.03L543.10 134.04L543.23 133.06L543.47 131.12L543.72 129.20L543.72 129.20L543.97 127.30L544.21 125.42L544.34 124.48L544.46 123.56L544.71 121.73L544.95 119.92L544.96 119.92L545.20 118.14L545.45 116.39L545.57 115.53L545.70 114.67L545.94 112.98L546.19 111.32L546.19 111.32L546.44 109.69L546.68 108.10L546.81 107.31L546.93 106.54L547.18 105.01L547.42 103.52L547.42 103.52L547.67 102.06L547.92 100.64L548.04 99.95L548.17 99.26L548.41 97.91L548.66 96.60L548.66 96.60L548.91 95.33L549.15 94.09L549.28 93.49L549.40 92.90L549.65 91.74L549.89 90.61L549.89 90.61L550.14 89.53L550.39 88.48L550.51 87.97L550.64 87.47L550.88 86.49L551.13 85.55L551.13 85.55L551.38 84.65L551.62 83.79L551.75 83.37L551.87 82.95L552.12 82.16L552.36 81.39L552.37 81.39L552.61 80.66L552.86 79.97L552.98 79.63L553.11 79.30L553.35 78.66L553.60 78.06L553.60 78.06L553.85 77.48L554.09 76.93L554.22 76.66L554.34 76.40L554.59 75.90L554.83 75.43L554.84 75.43L555.08 74.98L555.33 74.56L555.45 74.35L555.58 74.15L555.82 73.77L556.07 73.40L556.07 73.40L556.32 73.06L556.56 72.73L556.69 72.58L556.81 72.42L557.06 72.13L557.30 71.86L557.31 71.86L557.55 71.59L557.80 71.35L557.92 71.23L558.05 71.11L558.29 70.89L558.54 70.68L558.54 70.68L558.79 70.48L559.03 70.29L559.16 70.20L559.28 70.11L559.53 69.94L559.77 69.78L559.77 69.78L560.02 69.63L560.27 69.49L560.39 69.42L560.52 69.35L560.76 69.22L561.01 69.10L561.01 69.10L561.26 68.98L561.50 68.87L561.63 68.82L561.75 68.77L562.00 68.67L562.24 68.57L562.25 68.57L562.49 68.48L562.74 68.39L562.86 68.35L562.99 68.31L563.23 68.24L563.48 68.16L563.48 68.16L563.73 68.09L563.97 68.02L564.10 67.99L564.22 67.96L564.47 67.90L564.71 67.84L564.72 67.84L564.96 67.78L565.21 67.73L565.33 67.70L565.46 67.68L565.70 67.63L565.95 67.58L566.57 67.47L567.18 67.38L567.80 67.29L568.42 67.21L569.04 67.14L569.65 67.07L570.27 67.01L570.89 66.96L571.51 66.91L572.12 66.86L572.74 66.82L573.36 66.78L573.98 66.75L574.60 66.71L575.21 66.68L575.83 66.66L576.45 66.63L577.07 66.61L577.68 66.58L578.30 66.56" stroke="#ff0000" stroke-width="1.4" stroke-dasharray="2 4.5"/>
<path d="M331.30 214.48L331.92 214.48L332.54 214.49L333.15 214.60L333.77 214.62L334.39 214.66L335.00 214.70L335.62 214.75L336.24 215.42L336.86 215.49L337.48 215.65L338.09 215.74L338.71 215.92L339.33 216.03L339.94 216.79L340.56 217.01L341.18 217.24L341.80 217.40L342.42 217.66L343.03 217.93L343.65 218.80L344.27 219.10L344.88 219.55L345.50 220.47L346.12 220.83L346.74 221.30L347.36 221.69L347.97 222.81L348.59 223.23L349.21 224.38L349.82 224.94L350.44 225.52L351.06 226.72L351.68 227.42L352.30 228.65L352.91 229.40L353.53 230.12L354.15 231.46L354.76 232.28L355.38 233.69L356.00 234.49L356.62 235.93L357.24 237.39L357.85 238.31L358.47 240.13L359.09 240.97L359.71 241.75L360.32 242.02L360.94 242.74L361.56 243.38L362.18 243.55L362.79 244.09L363.41 244.54L364.03 244.92L364.64 245.19L365.26 245.10L365.88 245.20L366.50 245.18L367.12 244.85L367.73 244.78L368.35 244.25L368.97 243.74L369.59 243.07L370.20 242.24L370.82 241.25L371.44 240.08L372.06 238.72L372.67 237.19L373.29 235.45L373.91 233.52L374.53 231.40L375.14 228.72L375.76 226.53L376.38 223.35L377.00 220.36L377.61 217.17L378.23 213.18L378.85 210.17L379.47 205.73L380.08 201.71L380.70 196.79L381.32 192.41L381.94 187.08L382.55 182.38L383.17 177.57L383.79 171.78L384.41 165.86L385.02 160.75L385.64 154.69L386.26 149.52L386.88 143.47L387.49 137.46L388.11 131.55L388.73 125.77L389.35 120.15L389.96 114.75L390.58 109.61L391.20 104.76L391.81 100.25L392.43 96.11L393.05 92.37L393.67 89.07L394.29 86.02L394.90 83.69L395.52 82.05L396.14 80.95L396.75 80.62L397.37 81.08L397.99 82.34L398.61 84.36L399.23 87.18L399.84 90.73L400.46 94.99L401.08 99.93L401.69 106.65L402.31 114.15L402.93 122.27L403.55 130.95L404.17 140.06L404.78 149.51L405.40 159.12L405.52 161.39L405.65 163.62L405.77 165.85L405.89 168.08L406.02 170.31L406.02 170.31L406.14 172.53L406.26 174.75L406.39 176.96L406.51 179.16L406.63 181.35L406.64 181.35L406.76 183.52L406.88 185.69L407.01 187.84L407.13 189.97L407.25 193.49L407.25 193.49L407.38 194.17L407.50 197.64L407.62 198.30L407.75 201.68L407.87 203.69L407.87 203.69L407.99 205.64L408.12 208.86L408.24 209.46L408.36 212.58L408.49 214.42L408.49 214.42L408.61 216.19L408.73 219.10L408.86 220.78L408.98 222.42L409.11 225.10L409.11 225.10L409.23 226.63L409.35 228.12L409.48 230.55L409.60 232.86L409.72 234.15L409.72 234.15L409.85 235.40L409.97 237.43L410.09 239.32L410.22 241.07L410.34 242.03L410.34 242.03L410.46 242.93L410.59 244.37L410.71 245.67L410.83 246.82L410.96 247.82L410.96 247.82L411.08 248.67L411.20 249.36L411.33 249.90L411.45 250.28L411.58 250.51L411.58 250.51L411.70 250.59L411.82 250.39L411.95 250.02L412.07 249.29L412.19 248.24L412.19 248.24L412.32 246.48L412.44 244.76L412.56 242.76L412.69 239.06L412.81 234.69L412.81 234.69L412.93 228.71L413.06 214.91L413.18 205.42L413.30 204.85L413.43 204.26L413.43 204.26L413.55 203.69L413.67 203.11L413.80 202.52L413.92 201.94L414.05 201.36L414.05 201.36L414.17 200.78L414.29 200.21L414.42 199.63L414.54 199.05L414.66 198.46L414.66 198.46L414.79 197.88L414.91 197.30L415.03 196.72L415.16 196.13L415.28 195.55L415.28 195.55L415.40 194.96L415.53 194.38L415.65 193.79L415.77 193.20L415.90 192.59L415.90 192.59L416.02 192.00L416.14 191.42L416.27 190.80L416.39 190.22L416.51 189.63L416.52 189.63L416.64 189.04L416.76 188.45L416.89 187.86L417.01 187.28L417.13 186.69L417.13 186.69L417.26 186.10L417.38 185.51L417.50 184.93L417.63 184.34L417.75 183.76L417.75 183.76L417.87 183.18L418.00 182.59L418.12 182.01L418.24 181.41L418.37 180.83L418.37 180.83L418.49 180.22L418.61 179.64L418.74 179.06L418.86 178.49L418.99 177.92L418.99 177.92L419.11 177.34L419.23 176.77L419.36 176.20L419.48 175.63L419.60 175.06L419.60 175.06L419.73 174.50L419.85 173.93L419.97 173.37L420.10 172.81L420.22 172.25L420.84 169.43L421.46 166.71L422.07 164.06L422.69 161.43L423.31 158.93L423.93 156.52L424.54 154.13L425.16 151.91L425.78 149.80L426.39 147.75L427.01 145.88L427.63 144.12L428.25 142.45L428.87 140.98L429.48 139.66L430.10 138.44L430.72 137.41L431.34 136.50L431.95 135.81L432.57 135.29L433.19 134.89L433.81 134.71L434.42 134.66L435.04 134.85L435.66 135.19L436.27 135.70L436.89 136.43L437.51 137.29L438.13 138.37L438.75 139.59L439.36 141.03L439.98 142.61L440.60 144.36L441.22 146.29L441.83 148.38L442.45 150.63L443.07 153.01L443.69 155.56L444.30 158.22L444.92 161.03L445.54 163.95L446.16 166.98L446.77 170.13L447.39 173.35L448.01 176.66L448.62 180.05L449.24 183.49L449.86 186.98L450.48 190.52L451.10 194.07L451.71 197.64L452.33 201.21L452.95 204.77L453.56 208.30L454.18 211.79L454.80 215.24L455.42 218.61L456.04 221.91L456.65 225.12L457.27 228.23L457.89 231.22L458.50 234.09L459.12 236.81L459.74 239.38L460.36 241.79L460.98 244.03L461.59 246.08L462.21 247.93L462.83 249.59L463.45 251.04L464.06 252.26L464.68 253.26L465.30 254.03L465.92 254.56L466.53 254.85L467.15 254.89L467.77 254.68L468.38 254.22L469.00 253.52L469.62 252.56L470.24 251.35L470.86 249.90L471.47 248.20L472.09 246.25L472.71 244.07L473.33 241.67L473.94 239.01L474.56 236.17L475.18 233.12L475.80 229.85L476.41 226.42L477.03 222.80L477.65 219.01L478.26 215.10L478.88 211.01L479.50 206.83L480.12 202.53L480.74 198.14L481.35 193.65L481.97 189.12L482.59 184.52L483.21 179.91L483.82 175.24L484.44 170.60L485.06 165.92L485.68 161.28L486.29 156.64L486.91 151.97L487.53 147.14L488.14 141.19L488.76 137.62L489.38 134.23L490.00 131.02L490.62 127.99L491.23 125.17L491.85 122.55L492.47 120.14L493.09 118.01L493.70 116.14L494.32 114.56L494.94 113.28L495.56 112.29L496.17 111.62L496.79 111.25L497.41 111.17L498.02 111.42L498.64 111.98L499.26 112.83L499.88 113.99L500.50 115.43L501.11 117.16L501.73 119.15L502.35 121.38L502.97 123.76L503.58 126.40L504.20 129.72L504.82 133.26L505.44 137.00L506.05 140.94L506.67 145.04L507.29 149.30L507.90 153.70L508.52 158.21L509.14 162.82L509.76 167.51L510.38 172.24L510.99 177.01L511.61 181.79L512.23 186.55L512.85 191.28L513.46 195.94L514.08 200.53L514.70 205.01L515.32 209.37L515.93 213.57L516.55 217.58L517.17 221.49L517.79 225.18L518.40 228.65L519.02 231.86L519.64 234.83L520.25 237.51L520.87 239.91L521.49 242.00L522.11 243.78L522.73 245.24L523.34 246.36L523.96 247.15L524.58 247.60L525.20 247.69L525.81 247.44L526.43 246.83L527.05 245.88L527.66 244.58L528.28 242.93L528.90 240.95L529.52 238.65L530.13 236.02L530.75 233.08L531.37 229.85L531.99 226.33L532.61 222.55L533.22 218.51L533.84 214.24L534.46 209.75L535.08 205.07L535.69 200.21L536.31 195.20L536.93 190.06L537.55 184.80L538.16 179.47L538.78 174.07L539.40 168.63L540.01 163.18L540.63 157.74L541.25 152.34L541.50 150.19L541.74 148.05L541.87 146.99L541.99 145.92L542.24 143.81L542.48 141.71L542.49 141.71L542.73 139.63L542.98 137.57L543.10 136.54L543.23 135.52L543.47 133.50L543.72 131.50L543.72 131.50L543.97 129.52L544.21 127.56L544.34 126.59L544.46 125.63L544.71 123.73L544.95 121.85L544.96 121.85L545.20 120.00L545.45 118.18L545.57 117.29L545.70 116.40L545.94 114.64L546.19 112.92L546.19 112.92L546.44 111.23L546.68 109.58L546.81 108.76L546.93 107.96L547.18 106.37L547.42 104.83L547.42 104.83L547.67 103.32L547.92 101.84L548.04 101.12L548.17 100.41L548.41 99.01L548.66 97.66L548.66 97.66L548.91 96.34L549.15 95.05L549.28 94.43L549.40 93.81L549.65 92.61L549.89 91.45L549.89 91.45L550.14 90.33L550.39 89.24L550.51 88.71L550.64 88.19L550.88 87.19L551.13 86.22L551.13 86.22L551.38 85.28L551.62 84.39L551.75 83.95L551.87 83.53L552.12 82.70L552.36 81.91L552.37 81.91L552.61 81.16L552.86 80.44L552.98 80.09L553.11 79.75L553.35 79.09L553.60 78.46L553.60 78.46L553.85 77.86L554.09 77.29L554.22 77.02L554.34 76.75L554.59 76.24L554.83 75.75L554.84 75.75L555.08 75.28L555.33 74.84L555.45 74.63L555.58 74.43L555.82 74.03L556.07 73.65L556.07 73.65L556.32 73.30L556.56 72.96L556.69 72.80L556.81 72.64L557.06 72.34L557.30 72.05L557.31 72.05L557.55 71.78L557.80 71.52L557.92 71.40L558.05 71.28L558.29 71.05L558.54 70.83L558.54 70.83L558.79 70.63L559.03 70.43L559.16 70.34L559.28 70.25L559.53 70.07L559.77 69.91L559.77 69.91L560.02 69.75L560.27 69.60L560.39 69.53L560.52 69.46L560.76 69.33L561.01 69.20L561.01 69.20L561.26 69.08L561.50 68.96L561.63 68.91L561.75 68.86L562.00 68.75L562.24 68.65L562.25 68.65L562.49 68.56L562.74 68.47L562.86 68.43L562.99 68.39L563.23 68.31L563.48 68.23L563.48 68.23L563.73 68.16L563.97 68.09L564.10 68.05L564.22 68.02L564.47 67.96L564.71 67.90L564.72 67.90L564.96 67.84L565.21 67.78L565.33 67.76L565.46 67.73L565.70 67.68L565.95 67.63L566.57 67.52L567.18 67.42L567.80 67.33L568.42 67.25L569.04 67.17L569.65 67.11L570.27 67.04L570.89 66.99L571.51 66.94L572.12 66.89L572.74 66.85L573.36 66.81L573.98 66.77L574.60 66.74L575.21 66.70L575.83 66.67L576.45 66.65L577.07 66.62L577.68 66.60L578.30 66.58" stroke="#0000ff" stroke-width="1.2" stroke-dasharray="11 8.5"/>
<path d="M331.30 197.40L331.92 197.40L332.54 197.41L333.15 197.48L333.77 197.48L334.39 197.49L335.00 197.51L335.62 197.52L336.24 197.95L336.86 197.98L337.48 198.08L338.09 198.11L338.71 198.23L339.33 198.28L339.94 198.78L340.56 198.92L341.18 199.08L341.80 199.17L342.42 199.34L343.03 199.53L343.65 200.15L344.27 200.38L344.88 200.72L345.50 201.43L346.12 201.71L346.74 202.09L347.36 202.41L347.97 203.33L348.59 203.69L349.21 204.68L349.82 205.19L350.44 205.71L351.06 206.80L351.68 207.47L352.30 208.63L352.91 209.37L353.53 210.11L354.15 211.44L354.76 212.30L355.38 213.77L356.00 214.65L356.62 216.22L357.24 217.87L357.85 218.99L358.47 221.22L359.09 222.37L359.71 223.37L360.32 223.79L360.94 224.75L361.56 225.67L362.18 226.02L362.79 226.87L363.41 227.66L364.03 228.38L364.64 229.03L365.26 229.18L365.88 229.69L366.50 230.10L367.12 230.03L367.73 230.60L368.35 230.35L368.97 230.33L369.59 230.16L370.20 229.84L370.82 229.37L371.44 228.73L372.06 227.92L372.67 226.93L373.29 225.75L373.91 224.38L374.53 222.80L375.14 220.91L375.76 219.05L376.38 216.64L377.00 214.20L377.61 211.54L378.23 208.30L378.85 205.58L379.47 201.86L380.08 198.32L380.70 194.08L381.32 190.14L381.94 185.42L382.55 181.12L383.17 176.68L383.79 171.41L384.41 165.97L385.02 161.15L385.64 155.49L386.26 150.54L386.88 144.80L387.49 139.05L388.11 133.35L388.73 127.74L389.35 122.23L389.96 116.89L390.58 111.75L391.20 106.86L391.81 102.26L392.43 97.97L393.05 94.04L393.67 90.50L394.29 87.14L394.90 84.40L395.52 82.38L396.14 80.87L396.75 79.98L397.37 79.84L397.99 80.44L398.61 81.76L399.23 83.84L399.84 86.62L400.46 90.09L401.08 94.22L401.69 99.93L402.31 106.40L402.93 113.49L403.55 121.15L404.17 129.26L404.78 137.73L405.40 146.40L405.52 148.44L405.65 150.46L405.77 152.48L405.89 154.50L406.02 156.52L406.02 156.52L406.14 158.54L406.26 160.55L406.39 162.56L406.51 164.57L406.63 166.56L406.64 166.56L406.76 168.55L406.88 170.53L407.01 172.50L407.13 174.45L407.25 177.67L407.25 177.67L407.38 178.31L407.50 181.48L407.62 182.11L407.75 185.21L407.87 187.06L407.87 187.06L407.99 188.87L408.12 191.83L408.24 192.41L408.36 195.29L408.49 196.99L408.49 196.99L408.61 198.65L408.73 201.36L408.86 202.93L408.98 204.46L409.11 206.98L409.11 206.98L409.23 208.42L409.35 209.82L409.48 212.12L409.60 214.31L409.72 215.54L409.72 215.54L409.85 216.74L409.97 218.68L410.09 220.51L410.22 222.22L410.34 223.15L410.34 223.15L410.46 224.03L410.59 225.46L410.71 226.76L410.83 227.94L410.96 228.98L410.96 228.98L411.08 229.88L411.20 230.65L411.33 231.28L411.45 231.77L411.58 232.12L411.58 232.12L411.70 232.52L411.82 232.48L411.95 232.31L412.07 231.88L412.19 231.18L412.19 231.18L412.32 229.93L412.44 228.61L412.56 227.04L412.69 224.13L412.81 220.60L412.81 220.60L412.93 215.69L413.06 204.21L413.18 196.10L413.30 195.48L413.43 194.84L413.43 194.84L413.55 194.22L413.67 193.60L413.80 192.96L413.92 192.34L414.05 191.72L414.05 191.72L414.17 191.09L414.29 190.46L414.42 189.84L414.54 189.21L414.66 188.58L414.66 188.58L414.79 187.95L414.91 187.33L415.03 186.69L415.16 186.06L415.28 185.43L415.28 185.43L415.40 184.80L415.53 184.17L415.65 183.53L415.77 182.90L415.90 182.24L415.90 182.24L416.02 181.61L416.14 180.98L416.27 180.32L416.39 179.68L416.51 179.05L416.52 179.05L416.64 178.42L416.76 177.78L416.89 177.14L417.01 176.51L417.13 175.88L417.13 175.88L417.26 175.25L417.38 174.61L417.50 173.98L417.63 173.35L417.75 172.72L417.75 172.72L417.87 172.09L418.00 171.46L418.12 170.83L418.24 170.18L418.37 169.55L418.37 169.55L418.49 168.90L418.61 168.28L418.74 167.66L418.86 167.04L418.99 166.42L418.99 166.42L419.11 165.80L419.23 165.19L419.36 164.57L419.48 163.96L419.60 163.35L419.60 163.35L419.73 162.74L419.85 162.13L419.97 161.52L420.10 160.92L420.22 160.32L420.84 157.28L421.46 154.35L422.07 151.50L422.69 148.68L423.31 145.99L423.93 143.40L424.54 140.84L425.16 138.46L425.78 136.19L426.39 134.00L427.01 131.99L427.63 130.11L428.25 128.33L428.87 126.76L429.48 125.35L430.10 124.05L430.72 122.96L431.34 122.01L431.95 121.28L432.57 120.74L433.19 120.33L433.81 120.16L434.42 120.14L435.04 120.36L435.66 120.75L436.27 121.33L436.89 122.13L437.51 123.10L438.13 124.28L438.75 125.64L439.36 127.21L439.98 128.94L440.60 130.86L441.22 132.97L441.83 135.26L442.45 137.70L443.07 140.30L443.69 143.08L444.30 145.98L444.92 149.03L445.54 152.22L446.16 155.51L446.77 158.93L447.39 162.43L448.01 166.03L448.62 169.71L449.24 173.45L449.86 177.24L450.48 181.07L451.10 184.93L451.71 188.81L452.33 192.68L452.95 196.54L453.56 200.37L454.18 204.16L454.80 207.90L455.42 211.56L456.04 215.14L456.65 218.63L457.27 222.00L457.89 225.25L458.50 228.36L459.12 231.31L459.74 234.10L460.36 236.72L460.98 239.15L461.59 241.38L462.21 243.41L462.83 245.21L463.45 246.78L464.06 248.13L464.68 249.23L465.30 250.07L465.92 250.67L466.53 251.00L467.15 251.06L467.77 250.87L468.38 250.40L469.00 249.66L469.62 248.65L470.24 247.38L470.86 245.83L471.47 244.03L472.09 241.97L472.71 239.65L473.33 237.09L473.94 234.28L474.56 231.25L475.18 228.00L475.80 224.54L476.41 220.88L477.03 217.03L477.65 213.01L478.26 208.85L478.88 204.52L479.50 200.07L480.12 195.51L480.74 190.86L481.35 186.12L481.97 181.33L482.59 176.48L483.21 171.61L483.82 166.71L484.44 161.83L485.06 156.95L485.68 152.11L486.29 147.29L486.91 142.49L487.53 137.58L488.14 131.83L488.76 128.00L489.38 124.37L490.00 120.95L490.62 117.74L491.23 114.76L491.85 112.01L492.47 109.51L493.09 107.29L493.70 105.38L494.32 103.77L494.94 102.49L495.56 101.54L496.17 100.91L496.79 100.63L497.41 100.67L498.02 101.05L498.64 101.78L499.26 102.83L499.88 104.21L500.50 105.91L501.11 107.93L501.73 110.24L502.35 112.83L502.97 115.61L503.58 118.69L504.20 122.37L504.82 126.29L505.44 130.43L506.05 134.79L506.67 139.34L507.29 144.06L507.90 148.93L508.52 153.93L509.14 159.04L509.76 164.23L510.38 169.49L510.99 174.78L511.61 180.09L512.23 185.38L512.85 190.65L513.46 195.85L514.08 200.97L514.70 205.98L515.32 210.86L515.93 215.59L516.55 220.13L517.17 224.50L517.79 228.66L518.40 232.58L519.02 236.24L519.64 239.62L520.25 242.70L520.87 245.48L521.49 247.93L522.11 250.05L522.73 251.82L523.34 253.23L523.96 254.29L524.58 254.97L525.20 255.28L525.81 255.21L526.43 254.76L527.05 253.94L527.66 252.74L528.28 251.17L528.90 249.24L529.52 246.96L530.13 244.33L530.75 241.36L531.37 238.07L531.99 234.48L532.61 230.59L533.22 226.43L533.84 222.02L534.46 217.37L535.08 212.50L535.69 207.45L536.31 202.22L536.93 196.85L537.55 191.35L538.16 185.76L538.78 180.10L539.40 174.40L540.01 168.67L540.63 162.96L541.25 157.28L541.50 155.02L541.74 152.76L541.87 151.64L541.99 150.52L542.24 148.29L542.48 146.08L542.49 146.08L542.73 143.89L542.98 141.71L543.10 140.63L543.23 139.55L543.47 137.42L543.72 135.30L543.72 135.30L543.97 133.22L544.21 131.15L544.34 130.13L544.46 129.11L544.71 127.10L544.95 125.12L544.96 125.12L545.20 123.16L545.45 121.24L545.57 120.29L545.70 119.35L545.94 117.50L546.19 115.68L546.19 115.68L546.44 113.89L546.68 112.14L546.81 111.28L546.93 110.43L547.18 108.75L547.42 107.12L547.42 107.12L547.67 105.52L547.92 103.96L548.04 103.20L548.17 102.44L548.41 100.97L548.66 99.53L548.66 99.53L548.91 98.13L549.15 96.78L549.28 96.12L549.40 95.47L549.65 94.19L549.89 92.96L549.89 92.96L550.14 91.77L550.39 90.62L550.51 90.06L550.64 89.51L550.88 88.45L551.13 87.42L551.13 87.42L551.38 86.43L551.62 85.48L551.75 85.02L551.87 84.57L552.12 83.70L552.36 82.86L552.37 82.86L552.61 82.06L552.86 81.29L552.98 80.92L553.11 80.56L553.35 79.86L553.60 79.20L553.60 79.20L553.85 78.57L554.09 77.96L554.22 77.67L554.34 77.39L554.59 76.84L554.83 76.32L554.84 76.32L555.08 75.83L555.33 75.36L555.45 75.14L555.58 74.92L555.82 74.50L556.07 74.10L556.07 74.10L556.32 73.73L556.56 73.37L556.69 73.20L556.81 73.03L557.06 72.71L557.30 72.41L557.31 72.41L557.55 72.12L557.80 71.85L557.92 71.72L558.05 71.59L558.29 71.35L558.54 71.12L558.54 71.12L558.79 70.90L559.03 70.69L559.16 70.59L559.28 70.49L559.53 70.31L559.77 70.13L559.77 70.13L560.02 69.97L560.27 69.81L560.39 69.73L560.52 69.66L560.76 69.52L561.01 69.38L561.01 69.38L561.26 69.26L561.50 69.13L561.63 69.08L561.75 69.02L562.00 68.91L562.24 68.81L562.25 68.81L562.49 68.71L562.74 68.61L562.86 68.57L562.99 68.52L563.23 68.44L563.48 68.36L563.48 68.36L563.73 68.28L563.97 68.21L564.10 68.17L564.22 68.14L564.47 68.07L564.71 68.00L564.72 68.00L564.96 67.94L565.21 67.88L565.33 67.86L565.46 67.83L565.70 67.77L565.95 67.72L566.57 67.60L567.18 67.50L567.80 67.40L568.42 67.31L569.04 67.24L569.65 67.16L570.27 67.10L570.89 67.04L571.51 66.98L572.12 66.93L572.74 66.89L573.36 66.85L573.98 66.81L574.60 66.77L575.21 66.74L575.83 66.71L576.45 66.68L577.07 66.65L577.68 66.63L578.30 66.60" stroke="#000" stroke-width="1.15"/>
</g>
<g clip-path="url(#c20)" fill="none" stroke-linejoin="round">
<path d="M578.30 129.33L578.92 129.32L579.53 129.31L580.15 129.30L580.77 129.27L581.39 129.24L582.00 129.19L582.62 129.14L583.24 129.21L583.86 129.15L584.47 129.07L585.09 128.99L585.71 128.90L586.33 128.80L586.94 128.81L587.56 128.69L588.18 128.56L588.80 128.42L589.41 128.27L590.03 128.11L590.65 128.04L591.27 127.86L591.88 127.68L592.50 127.56L593.12 127.34L593.74 127.10L594.35 126.86L594.97 126.67L595.59 126.39L596.21 126.15L596.82 125.84L597.44 125.52L598.06 125.21L598.68 124.85L599.29 124.49L599.91 124.08L600.53 123.66L601.15 123.22L601.76 122.74L602.38 122.23L603.00 121.71L603.62 121.12L604.23 120.49L604.85 119.87L605.47 119.10L606.09 118.40L606.70 117.67L607.32 117.01L607.94 116.23L608.56 115.41L609.17 114.69L609.79 113.82L610.41 112.93L611.03 112.01L611.64 111.06L612.26 110.24L612.88 109.25L613.50 108.24L614.12 107.37L614.73 106.16L615.35 105.27L615.97 104.19L616.58 103.11L617.20 102.02L617.82 100.92L618.44 99.82L619.05 98.72L619.67 97.62L620.29 96.53L620.91 95.46L621.52 94.39L622.14 93.21L622.76 92.33L623.38 91.20L624.00 90.24L624.61 89.31L625.23 88.32L625.85 87.56L626.46 86.67L627.08 85.92L627.70 85.17L628.32 84.53L628.93 83.94L629.55 83.41L630.17 82.95L630.79 82.59L631.40 82.33L632.02 82.07L632.64 81.97L633.26 81.84L633.88 81.91L634.49 82.06L635.11 82.30L635.73 82.61L636.34 83.00L636.96 83.45L637.58 83.96L638.20 84.51L638.81 85.10L639.43 85.72L640.05 86.36L640.67 87.02L641.28 87.92L641.90 88.82L642.52 89.42L643.14 89.99L643.75 90.74L644.37 91.40L644.99 91.97L645.61 92.42L646.22 92.75L646.84 92.94L647.46 92.99L648.08 92.88L648.69 92.66L649.31 92.22L649.93 91.56L650.55 90.70L651.16 89.65L651.78 88.42L652.40 87.04L652.52 86.72L652.65 86.38L652.77 86.04L652.89 85.69L653.02 85.34L653.02 85.34L653.14 84.98L653.26 84.61L653.39 84.24L653.51 83.86L653.63 83.49L653.63 83.49L653.76 83.10L653.88 82.72L654.01 82.33L654.13 81.93L654.25 81.30L654.25 81.30L654.38 81.14L654.50 80.50L654.62 80.34L654.75 79.70L654.87 79.30L654.87 79.30L654.99 78.89L655.12 78.24L655.24 78.09L655.36 77.45L655.49 77.05L655.49 77.05L655.61 76.66L655.73 76.02L655.86 75.63L655.98 75.25L656.11 74.63L656.11 74.63L656.23 74.26L656.35 73.90L656.48 73.30L656.60 72.72L656.72 72.39L656.72 72.39L656.85 72.05L656.97 71.52L657.09 71.00L657.22 70.50L657.34 70.21L657.34 70.21L657.46 69.94L657.59 69.50L657.71 69.08L657.83 68.69L657.96 68.32L657.96 68.32L658.08 67.99L658.20 67.69L658.33 67.42L658.45 67.18L658.57 66.98L658.58 66.98L658.70 66.68L658.82 66.58L658.95 66.51L659.07 66.47L659.19 66.50L659.19 66.50L659.32 66.64L659.44 66.84L659.56 67.11L659.69 67.68L659.81 68.43L659.81 68.43L659.93 69.54L660.06 72.34L660.18 74.37L660.30 74.50L660.43 74.64L660.43 74.64L660.55 74.77L660.67 74.90L660.80 75.04L660.92 75.17L661.04 75.31L661.05 75.31L661.17 75.44L661.29 75.58L661.42 75.72L661.54 75.86L661.66 76.00L661.66 76.00L661.79 76.15L661.91 76.29L662.03 76.44L662.16 76.59L662.28 76.73L662.28 76.73L662.40 76.88L662.53 77.04L662.65 77.19L662.77 77.34L662.90 77.50L662.90 77.50L663.02 77.66L663.14 77.82L663.27 77.98L663.39 78.14L663.51 78.30L663.52 78.30L663.64 78.46L663.76 78.63L663.89 78.79L664.01 78.96L664.13 79.13L664.13 79.13L664.26 79.30L664.38 79.47L664.50 79.64L664.63 79.81L664.75 79.99L664.75 79.99L664.87 80.16L665.00 80.34L665.12 80.51L665.24 80.70L665.37 80.88L665.37 80.88L665.49 81.07L665.61 81.25L665.74 81.43L665.86 81.62L665.98 81.80L665.99 81.80L666.11 81.99L666.23 82.18L666.36 82.37L666.48 82.56L666.60 82.75L666.60 82.75L666.73 82.94L666.85 83.14L666.97 83.33L667.10 83.53L667.22 83.73L667.84 84.75L668.45 85.78L669.07 86.84L669.69 87.94L670.31 89.06L670.92 90.20L671.54 91.38L672.16 92.57L672.78 93.79L673.39 95.04L674.01 96.30L674.63 97.59L675.25 98.91L675.87 100.23L676.48 101.57L677.10 102.95L677.72 104.34L678.33 105.76L678.95 107.17L679.57 108.61L680.19 110.07L680.80 111.54L681.42 113.03L682.04 114.52L682.66 116.04L683.27 117.56L683.89 119.09L684.51 120.65L685.13 122.20L685.74 123.77L686.36 125.34L686.98 126.93L687.60 128.53L688.21 130.13L688.83 131.73L689.45 133.34L690.07 134.96L690.68 136.58L691.30 138.21L691.92 139.84L692.54 141.47L693.15 143.11L693.77 144.74L694.39 146.39L695.01 148.03L695.62 149.67L696.24 151.31L696.86 152.96L697.48 154.60L698.09 156.24L698.71 157.88L699.33 159.52L699.95 161.15L700.56 162.79L701.18 164.42L701.80 166.04L702.42 167.67L703.03 169.29L703.65 170.90L704.27 172.51L704.89 174.12L705.50 175.72L706.12 177.31L706.74 178.90L707.36 180.48L707.97 182.05L708.59 183.61L709.21 185.17L709.83 186.72L710.44 188.26L711.06 189.79L711.68 191.30L712.30 192.81L712.91 194.30L713.53 195.79L714.15 197.26L714.77 198.72L715.38 200.16L716.00 201.59L716.62 203.00L717.24 204.39L717.86 205.77L718.47 207.13L719.09 208.48L719.71 209.80L720.32 211.10L720.94 212.37L721.56 213.63L722.18 214.86L722.79 216.06L723.41 217.25L724.03 218.40L724.65 219.53L725.26 220.63L725.88 221.69L726.50 222.73L727.12 223.74L727.73 224.71L728.35 225.64L728.97 226.54L729.59 227.40L730.20 228.22L730.82 229.00L731.44 229.74L732.06 230.44L732.67 231.09L733.29 231.69L733.91 232.25L734.53 232.74L735.14 233.12L735.76 233.60L736.38 234.03L737.00 234.40L737.62 234.71L738.23 234.97L738.85 235.16L739.47 235.30L740.08 235.38L740.70 235.40L741.32 235.35L741.94 235.24L742.55 235.07L743.17 234.84L743.79 234.53L744.41 234.16L745.02 233.73L745.64 233.23L746.26 232.65L746.88 232.01L747.49 231.30L748.11 230.53L748.73 229.68L749.35 228.77L749.96 227.80L750.58 226.76L751.20 225.61L751.82 224.40L752.43 223.12L753.05 221.77L753.67 220.35L754.29 218.86L754.90 217.31L755.52 215.68L756.14 214.00L756.76 212.24L757.38 210.43L757.99 208.56L758.61 206.62L759.23 204.63L759.84 202.58L760.46 200.48L761.08 198.32L761.70 196.11L762.31 193.86L762.93 191.56L763.55 189.22L764.17 186.82L764.78 184.38L765.40 181.91L766.02 179.40L766.64 176.85L767.25 174.28L767.87 171.68L768.49 169.06L769.11 166.42L769.72 163.75L770.34 161.07L770.96 158.38L771.58 155.68L772.19 152.98L772.81 150.27L773.43 147.55L774.05 144.85L774.66 142.14L775.28 139.45L775.90 136.77L776.52 134.10L777.13 131.45L777.75 128.82L778.37 126.22L778.99 123.64L779.61 121.10L780.22 118.58L780.84 116.11L781.46 113.67L782.07 111.28L782.69 108.93L783.31 106.63L783.93 104.38L784.54 102.19L785.16 100.05L785.78 97.97L786.40 95.94L787.01 93.99L787.63 92.10L788.25 90.28L788.50 89.56L788.74 88.86L788.87 88.52L788.99 88.17L789.24 87.50L789.48 86.83L789.48 86.83L789.73 86.18L789.98 85.53L790.10 85.22L790.23 84.90L790.47 84.28L790.72 83.68L790.72 83.68L790.97 83.08L791.21 82.50L791.34 82.21L791.46 81.93L791.71 81.37L791.95 80.82L791.95 80.82L792.20 80.29L792.45 79.77L792.57 79.51L792.70 79.26L792.94 78.76L793.19 78.28L793.19 78.28L793.44 77.80L793.68 77.34L793.81 77.12L793.93 76.90L794.18 76.46L794.42 76.04L794.42 76.04L794.67 75.63L794.92 75.23L795.04 75.04L795.17 74.84L795.41 74.47L795.66 74.11L795.66 74.11L795.91 73.76L796.15 73.42L796.28 73.26L796.40 73.09L796.65 72.78L796.89 72.48L796.89 72.48L797.14 72.18L797.39 71.90L797.51 71.77L797.64 71.63L797.88 71.37L798.13 71.12L798.13 71.12L798.38 70.88L798.62 70.65L798.75 70.54L798.87 70.44L799.12 70.23L799.36 70.03L799.37 70.03L799.61 69.84L799.86 69.65L799.98 69.56L800.11 69.48L800.35 69.31L800.60 69.16L800.60 69.16L800.85 69.01L801.09 68.86L801.22 68.80L801.34 68.73L801.59 68.60L801.83 68.48L801.83 68.48L802.08 68.36L802.33 68.25L802.45 68.20L802.58 68.15L802.82 68.05L803.07 67.96L803.07 67.96L803.32 67.87L803.56 67.79L803.69 67.75L803.81 67.71L804.06 67.64L804.30 67.57L804.30 67.57L804.55 67.50L804.80 67.44L804.92 67.41L805.05 67.38L805.29 67.32L805.54 67.27L805.54 67.27L805.79 67.22L806.03 67.17L806.16 67.15L806.28 67.12L806.53 67.08L806.77 67.04L806.77 67.04L807.02 67.00L807.27 66.97L807.39 66.95L807.52 66.93L807.76 66.90L808.01 66.87L808.01 66.87L808.26 66.84L808.50 66.81L808.63 66.80L808.75 66.78L809.00 66.76L809.24 66.73L809.24 66.73L809.49 66.71L809.74 66.69L809.86 66.68L809.99 66.67L810.23 66.65L810.48 66.63L810.48 66.63L810.73 66.61L810.97 66.60L811.10 66.59L811.22 66.58L811.47 66.56L811.71 66.55L811.71 66.55L811.96 66.54L812.21 66.52L812.33 66.52L812.46 66.51L812.70 66.50L812.95 66.49L813.57 66.46L814.18 66.43L814.80 66.41L815.42 66.39L816.04 66.37L816.65 66.36L817.27 66.34L817.89 66.33L818.51 66.32L819.12 66.31L819.74 66.30L820.36 66.29L820.98 66.28L821.59 66.27L822.21 66.26L822.83 66.25L823.45 66.25L824.06 66.24L824.68 66.24L825.30 66.23" stroke="#ff0000" stroke-width="1.4" stroke-dasharray="2 4.5"/>
<path d="M578.30 140.80L578.92 140.79L579.53 140.78L580.15 140.76L580.77 140.72L581.39 140.68L582.00 140.63L582.62 140.57L583.24 140.66L583.86 140.58L584.47 140.48L585.09 140.38L585.71 140.27L586.33 140.15L586.94 140.14L587.56 139.99L588.18 139.83L588.80 139.66L589.41 139.47L590.03 139.27L590.65 139.16L591.27 138.92L591.88 138.68L592.50 138.49L593.12 138.21L593.74 137.90L594.35 137.58L594.97 137.29L595.59 136.93L596.21 136.57L596.82 136.16L597.44 135.72L598.06 135.27L598.68 134.77L599.29 134.24L599.91 133.69L600.53 133.11L601.15 132.46L601.76 131.81L602.38 131.05L603.00 130.35L603.62 129.49L604.23 128.56L604.85 127.70L605.47 126.52L606.09 125.55L606.70 124.55L607.32 123.71L607.94 122.65L608.56 121.55L609.17 120.63L609.79 119.48L610.41 118.29L611.03 117.07L611.64 115.83L612.26 114.81L612.88 113.52L613.50 112.21L614.12 111.15L614.73 109.55L615.35 108.47L615.97 107.12L616.58 105.76L617.20 104.41L617.82 103.06L618.44 101.72L619.05 100.40L619.67 99.09L620.29 97.80L620.91 96.55L621.52 95.33L622.14 93.96L622.76 93.00L623.38 91.75L624.00 90.71L624.61 89.74L625.23 88.73L625.85 87.97L626.46 87.14L627.08 86.45L627.70 85.84L628.32 85.32L628.93 84.95L629.55 84.61L630.17 84.36L630.79 84.33L631.40 84.45L632.02 84.49L632.64 84.85L633.26 85.07L633.88 85.65L634.49 86.35L635.11 87.16L635.73 88.07L636.34 89.08L636.96 90.17L637.58 91.33L638.20 92.54L638.81 93.79L639.43 95.07L640.05 96.36L640.67 97.66L641.28 99.36L641.90 101.02L642.52 102.18L643.14 103.27L643.75 104.65L644.37 105.88L644.99 106.95L645.61 107.82L646.22 108.49L646.84 108.93L647.46 109.14L648.08 109.11L648.69 108.89L649.31 108.32L649.93 107.40L650.55 106.15L651.16 104.60L651.78 102.76L652.40 100.67L652.52 100.16L652.65 99.65L652.77 99.12L652.89 98.58L653.02 98.04L653.02 98.04L653.14 97.48L653.26 96.91L653.39 96.34L653.51 95.75L653.63 95.16L653.63 95.16L653.76 94.56L653.88 93.96L654.01 93.35L654.13 92.73L654.25 91.72L654.25 91.72L654.38 91.49L654.50 90.46L654.62 90.23L654.75 89.19L654.87 88.55L654.87 88.55L654.99 87.91L655.12 86.86L655.24 86.64L655.36 85.59L655.49 84.95L655.49 84.95L655.61 84.32L655.73 83.28L655.86 82.65L655.98 82.04L656.11 81.02L656.11 81.02L656.23 80.41L656.35 79.82L656.48 78.84L656.60 77.87L656.72 77.31L656.72 77.31L656.85 76.76L656.97 75.86L657.09 74.98L657.22 74.13L657.34 73.65L657.34 73.65L657.46 73.18L657.59 72.41L657.71 71.68L657.83 70.99L657.96 70.35L657.96 70.35L658.08 69.75L658.20 69.19L658.33 68.69L658.45 68.23L658.57 67.83L658.58 67.83L658.70 67.21L658.82 66.96L658.95 66.77L659.07 66.59L659.19 66.52L659.19 66.52L659.32 66.60L659.44 66.80L659.56 67.12L659.69 67.87L659.81 68.92L659.81 68.92L659.93 70.55L660.06 74.81L660.18 77.98L660.30 78.14L660.43 78.31L660.43 78.31L660.55 78.48L660.67 78.64L660.80 78.82L660.92 78.98L661.04 79.15L661.05 79.15L661.17 79.32L661.29 79.49L661.42 79.67L661.54 79.84L661.66 80.02L661.66 80.02L661.79 80.20L661.91 80.38L662.03 80.56L662.16 80.74L662.28 80.92L662.28 80.92L662.40 81.10L662.53 81.29L662.65 81.48L662.77 81.67L662.90 81.87L662.90 81.87L663.02 82.06L663.14 82.25L663.27 82.45L663.39 82.65L663.51 82.84L663.52 82.84L663.64 83.04L663.76 83.24L663.89 83.45L664.01 83.65L664.13 83.85L664.13 83.85L664.26 84.06L664.38 84.26L664.50 84.47L664.63 84.68L664.75 84.89L664.75 84.89L664.87 85.10L665.00 85.32L665.12 85.53L665.24 85.75L665.37 85.97L665.37 85.97L665.49 86.20L665.61 86.42L665.74 86.64L665.86 86.86L665.98 87.08L665.99 87.08L666.11 87.31L666.23 87.53L666.36 87.76L666.48 87.99L666.60 88.22L666.60 88.22L666.73 88.45L666.85 88.68L666.97 88.91L667.10 89.15L667.22 89.38L667.84 90.60L668.45 91.83L669.07 93.09L669.69 94.40L670.31 95.71L670.92 97.05L671.54 98.44L672.16 99.83L672.78 101.25L673.39 102.72L674.01 104.18L674.63 105.67L675.25 107.21L675.87 108.74L676.48 110.29L677.10 111.88L677.72 113.47L678.33 115.10L678.95 116.72L679.57 118.36L680.19 120.04L680.80 121.71L681.42 123.42L682.04 125.11L682.66 126.83L683.27 128.56L683.89 130.29L684.51 132.05L685.13 133.80L685.74 135.58L686.36 137.34L686.98 139.13L687.60 140.92L688.21 142.70L688.83 144.50L689.45 146.29L690.07 148.11L690.68 149.89L691.30 151.71L691.92 153.51L692.54 155.31L693.15 157.13L693.77 158.92L694.39 160.73L695.01 162.54L695.62 164.32L696.24 166.12L696.86 167.92L697.48 169.70L698.09 171.48L698.71 173.26L699.33 175.04L699.95 176.80L700.56 178.56L701.18 180.30L701.80 182.05L702.42 183.78L703.03 185.51L703.65 187.23L704.27 188.94L704.89 190.63L705.50 192.32L706.12 194.00L706.74 195.66L707.36 197.31L707.97 198.95L708.59 200.58L709.21 202.20L709.83 203.79L710.44 205.38L711.06 206.95L711.68 208.50L712.30 210.04L712.91 211.57L713.53 213.07L714.15 214.55L714.77 216.02L715.38 217.47L716.00 218.89L716.62 220.30L717.24 221.69L717.86 223.05L718.47 224.39L719.09 225.70L719.71 226.99L720.32 228.25L720.94 229.49L721.56 230.70L722.18 231.88L722.79 233.03L723.41 234.15L724.03 235.24L724.65 236.30L725.26 237.32L725.88 238.31L726.50 239.26L727.12 240.17L727.73 241.05L728.35 241.89L728.97 242.69L729.59 243.45L730.20 244.16L730.82 244.83L731.44 245.46L732.06 246.04L732.67 246.58L733.29 247.06L733.91 247.50L734.53 247.90L735.14 248.25L735.76 248.54L736.38 248.77L737.00 248.95L737.62 249.07L738.23 249.13L738.85 249.13L739.47 249.07L740.08 248.95L740.70 248.77L741.32 248.53L741.94 248.22L742.55 247.84L743.17 247.40L743.79 246.90L744.41 246.32L745.02 245.68L745.64 244.97L746.26 244.19L746.88 243.34L747.49 242.42L748.11 241.44L748.73 240.38L749.35 239.26L749.96 238.08L750.58 236.83L751.20 235.48L751.82 234.06L752.43 232.57L753.05 231.01L753.67 229.38L754.29 227.69L754.90 225.93L755.52 224.10L756.14 222.21L756.76 220.26L757.38 218.25L757.99 216.18L758.61 214.05L759.23 211.86L759.84 209.62L760.46 207.32L761.08 204.98L761.70 202.59L762.31 200.15L762.93 197.66L763.55 195.15L764.17 192.57L764.78 189.96L765.40 187.31L766.02 184.63L766.64 181.91L767.25 179.18L767.87 176.41L768.49 173.63L769.11 170.83L769.72 168.01L770.34 165.17L770.96 162.33L771.58 159.48L772.19 156.63L772.81 153.78L773.43 150.92L774.05 148.08L774.66 145.24L775.28 142.41L775.90 139.60L776.52 136.81L777.13 134.03L777.75 131.28L778.37 128.56L778.99 125.87L779.61 123.21L780.22 120.59L780.84 118.01L781.46 115.47L782.07 112.98L782.69 110.53L783.31 108.14L783.93 105.80L784.54 103.51L785.16 101.29L785.78 99.12L786.40 97.03L787.01 94.99L787.63 93.03L788.25 91.14L788.50 90.40L788.74 89.67L788.87 89.31L788.99 88.96L789.24 88.26L789.48 87.56L789.48 87.56L789.73 86.89L789.98 86.22L790.10 85.89L790.23 85.57L790.47 84.92L790.72 84.29L790.72 84.29L790.97 83.68L791.21 83.07L791.34 82.78L791.46 82.48L791.71 81.90L791.95 81.34L791.95 81.34L792.20 80.78L792.45 80.24L792.57 79.98L792.70 79.71L792.94 79.20L793.19 78.70L793.19 78.70L793.44 78.21L793.68 77.73L793.81 77.50L793.93 77.27L794.18 76.82L794.42 76.38L794.42 76.38L794.67 75.96L794.92 75.54L795.04 75.34L795.17 75.15L795.41 74.76L795.66 74.38L795.66 74.38L795.91 74.02L796.15 73.67L796.28 73.50L796.40 73.33L796.65 73.01L796.89 72.69L796.89 72.69L797.14 72.39L797.39 72.10L797.51 71.96L797.64 71.82L797.88 71.55L798.13 71.29L798.13 71.29L798.38 71.05L798.62 70.81L798.75 70.70L798.87 70.58L799.12 70.37L799.36 70.16L799.37 70.16L799.61 69.96L799.86 69.77L799.98 69.68L800.11 69.59L800.35 69.42L800.60 69.26L800.60 69.26L800.85 69.11L801.09 68.96L801.22 68.89L801.34 68.82L801.59 68.69L801.83 68.56L801.83 68.56L802.08 68.44L802.33 68.33L802.45 68.27L802.58 68.22L802.82 68.12L803.07 68.02L803.07 68.02L803.32 67.93L803.56 67.85L803.69 67.80L803.81 67.76L804.06 67.69L804.30 67.61L804.30 67.61L804.55 67.55L804.80 67.48L804.92 67.45L805.05 67.42L805.29 67.36L805.54 67.31L805.54 67.31L805.79 67.25L806.03 67.20L806.16 67.18L806.28 67.16L806.53 67.11L806.77 67.07L806.77 67.07L807.02 67.03L807.27 66.99L807.39 66.98L807.52 66.96L807.76 66.92L808.01 66.89L808.01 66.89L808.26 66.86L808.50 66.83L808.63 66.82L808.75 66.81L809.00 66.78L809.24 66.76L809.24 66.76L809.49 66.73L809.74 66.71L809.86 66.70L809.99 66.69L810.23 66.67L810.48 66.65L810.48 66.65L810.73 66.63L810.97 66.61L811.10 66.60L811.22 66.60L811.47 66.58L811.71 66.57L811.71 66.57L811.96 66.55L812.21 66.54L812.33 66.53L812.46 66.52L812.70 66.51L812.95 66.50L813.57 66.47L814.18 66.45L814.80 66.42L815.42 66.40L816.04 66.38L816.65 66.37L817.27 66.35L817.89 66.34L818.51 66.32L819.12 66.31L819.74 66.30L820.36 66.29L820.98 66.28L821.59 66.27L822.21 66.27L822.83 66.26L823.45 66.25L824.06 66.25L824.68 66.24L825.30 66.23" stroke="#0000ff" stroke-width="1.2" stroke-dasharray="11 8.5"/>
<path d="M578.30 139.00L578.92 138.99L579.53 138.98L580.15 138.96L580.77 138.93L581.39 138.89L582.00 138.84L582.62 138.78L583.24 138.86L583.86 138.78L584.47 138.70L585.09 138.60L585.71 138.49L586.33 138.37L586.94 138.37L587.56 138.23L588.18 138.08L588.80 137.92L589.41 137.74L590.03 137.55L590.65 137.46L591.27 137.24L591.88 137.01L592.50 136.86L593.12 136.59L593.74 136.31L594.35 136.02L594.97 135.77L595.59 135.44L596.21 135.13L596.82 134.76L597.44 134.36L598.06 133.97L598.68 133.52L599.29 133.07L599.91 132.57L600.53 132.06L601.15 131.49L601.76 130.91L602.38 130.26L603.00 129.63L603.62 128.89L604.23 128.09L604.85 127.33L605.47 126.34L606.09 125.48L606.70 124.59L607.32 123.80L607.94 122.85L608.56 121.86L609.17 121.00L609.79 119.95L610.41 118.87L611.03 117.76L611.64 116.62L612.26 115.66L612.88 114.48L613.50 113.27L614.12 112.26L614.73 110.80L615.35 109.76L615.97 108.50L616.58 107.22L617.20 105.94L617.82 104.66L618.44 103.37L619.05 102.10L619.67 100.83L620.29 99.58L620.91 98.35L621.52 97.14L622.14 95.78L622.76 94.80L623.38 93.53L624.00 92.47L624.61 91.44L625.23 90.37L625.85 89.54L626.46 88.61L627.08 87.81L627.70 87.06L628.32 86.41L628.93 85.85L629.55 85.35L630.17 84.93L630.79 84.66L631.40 84.52L632.02 84.35L632.64 84.42L633.26 84.41L633.88 84.68L634.49 85.05L635.11 85.52L635.73 86.08L636.34 86.74L636.96 87.47L637.58 88.27L638.20 89.12L638.81 90.00L639.43 90.93L640.05 91.87L640.67 92.82L641.28 94.11L641.90 95.37L642.52 96.24L643.14 97.05L643.75 98.11L644.37 99.05L644.99 99.86L645.61 100.51L646.22 101.00L646.84 101.31L647.46 101.43L648.08 101.35L648.69 101.12L649.31 100.60L649.93 99.79L650.55 98.72L651.16 97.39L651.78 95.84L652.40 94.07L652.52 93.65L652.65 93.22L652.77 92.78L652.89 92.33L653.02 91.87L653.02 91.87L653.14 91.41L653.26 90.94L653.39 90.46L653.51 89.97L653.63 89.48L653.63 89.48L653.76 88.98L653.88 88.48L654.01 87.97L654.13 87.46L654.25 86.63L654.25 86.63L654.38 86.43L654.50 85.59L654.62 85.39L654.75 84.54L654.87 84.02L654.87 84.02L654.99 83.49L655.12 82.63L655.24 82.44L655.36 81.58L655.49 81.06L655.49 81.06L655.61 80.54L655.73 79.69L655.86 79.18L655.98 78.68L656.11 77.85L656.11 77.85L656.23 77.36L656.35 76.88L656.48 76.08L656.60 75.31L656.72 74.86L656.72 74.86L656.85 74.41L656.97 73.68L657.09 72.98L657.22 72.30L657.34 71.92L657.34 71.92L657.46 71.55L657.59 70.94L657.71 70.36L657.83 69.82L657.96 69.32L657.96 69.32L658.08 68.85L658.20 68.42L658.33 68.04L658.45 67.69L658.57 67.40L658.58 67.40L658.70 66.94L658.82 66.77L658.95 66.65L659.07 66.54L659.19 66.53L659.19 66.53L659.32 66.66L659.44 66.87L659.56 67.18L659.69 67.86L659.81 68.79L659.81 68.79L659.93 70.19L660.06 73.77L660.18 76.42L660.30 76.57L660.43 76.73L660.43 76.73L660.55 76.88L660.67 77.04L660.80 77.20L660.92 77.36L661.04 77.52L661.05 77.52L661.17 77.68L661.29 77.84L661.42 78.01L661.54 78.17L661.66 78.34L661.66 78.34L661.79 78.51L661.91 78.68L662.03 78.85L662.16 79.02L662.28 79.20L662.28 79.20L662.40 79.37L662.53 79.55L662.65 79.73L662.77 79.91L662.90 80.09L662.90 80.09L663.02 80.28L663.14 80.46L663.27 80.65L663.39 80.84L663.51 81.03L663.52 81.03L663.64 81.22L663.76 81.41L663.89 81.60L664.01 81.80L664.13 81.99L664.13 81.99L664.26 82.19L664.38 82.39L664.50 82.59L664.63 82.79L664.75 82.99L664.75 82.99L664.87 83.20L665.00 83.40L665.12 83.61L665.24 83.82L665.37 84.03L665.37 84.03L665.49 84.25L665.61 84.46L665.74 84.67L665.86 84.89L665.98 85.10L665.99 85.10L666.11 85.32L666.23 85.54L666.36 85.76L666.48 85.98L666.60 86.20L666.60 86.20L666.73 86.42L666.85 86.65L666.97 86.87L667.10 87.10L667.22 87.33L667.84 88.51L668.45 89.71L669.07 90.93L669.69 92.21L670.31 93.49L670.92 94.80L671.54 96.17L672.16 97.53L672.78 98.93L673.39 100.37L674.01 101.81L674.63 103.29L675.25 104.80L675.87 106.31L676.48 107.85L677.10 109.43L677.72 111.01L678.33 112.63L678.95 114.25L679.57 115.88L680.19 117.55L680.80 119.23L681.42 120.93L682.04 122.62L682.66 124.35L683.27 126.08L683.89 127.82L684.51 129.59L685.13 131.35L685.74 133.14L686.36 134.91L686.98 136.72L687.60 138.52L688.21 140.33L688.83 142.15L689.45 143.97L690.07 145.81L690.68 147.63L691.30 149.47L691.92 151.31L692.54 153.15L693.15 155.00L693.77 156.84L694.39 158.69L695.01 160.54L695.62 162.37L696.24 164.22L696.86 166.07L697.48 167.91L698.09 169.74L698.71 171.58L699.33 173.42L699.95 175.24L700.56 177.07L701.18 178.88L701.80 180.70L702.42 182.51L703.03 184.31L703.65 186.11L704.27 187.90L704.89 189.68L705.50 191.45L706.12 193.21L706.74 194.97L707.36 196.71L707.97 198.45L708.59 200.17L709.21 201.89L709.83 203.59L710.44 205.28L711.06 206.96L711.68 208.62L712.30 210.27L712.91 211.90L713.53 213.52L714.15 215.12L714.77 216.71L715.38 218.28L716.00 219.83L716.62 221.36L717.24 222.87L717.86 224.36L718.47 225.83L719.09 227.27L719.71 228.69L720.32 230.09L720.94 231.45L721.56 232.80L722.18 234.12L722.79 235.40L723.41 236.66L724.03 237.88L724.65 239.08L725.26 240.24L725.88 241.36L726.50 242.45L727.12 243.50L727.73 244.51L728.35 245.49L728.97 246.42L729.59 247.31L730.20 248.15L730.82 248.95L731.44 249.71L732.06 250.41L732.67 251.07L733.29 251.68L733.91 252.23L734.53 252.72L735.14 253.11L735.76 253.55L736.38 253.93L737.00 254.25L737.62 254.51L738.23 254.71L738.85 254.84L739.47 254.91L740.08 254.91L740.70 254.84L741.32 254.71L741.94 254.51L742.55 254.24L743.17 253.90L743.79 253.49L744.41 253.00L745.02 252.44L745.64 251.81L746.26 251.10L746.88 250.32L747.49 249.47L748.11 248.54L748.73 247.54L749.35 246.46L749.96 245.32L750.58 244.11L751.20 242.78L751.82 241.38L752.43 239.91L753.05 238.36L753.67 236.74L754.29 235.04L754.90 233.27L755.52 231.43L756.14 229.52L756.76 227.54L757.38 225.50L757.99 223.39L758.61 221.21L759.23 218.97L759.84 216.68L760.46 214.32L761.08 211.91L761.70 209.44L762.31 206.93L762.93 204.36L763.55 201.76L764.17 199.09L764.78 196.38L765.40 193.63L766.02 190.84L766.64 188.02L767.25 185.17L767.87 182.29L768.49 179.38L769.11 176.45L769.72 173.51L770.34 170.55L770.96 167.57L771.58 164.59L772.19 161.60L772.81 158.61L773.43 155.61L774.05 152.63L774.66 149.65L775.28 146.68L775.90 143.72L776.52 140.78L777.13 137.86L777.75 134.97L778.37 132.11L778.99 129.27L779.61 126.47L780.22 123.71L780.84 120.99L781.46 118.31L782.07 115.68L782.69 113.10L783.31 110.57L783.93 108.10L784.54 105.69L785.16 103.34L785.78 101.05L786.40 98.83L787.01 96.68L787.63 94.61L788.25 92.61L788.50 91.83L788.74 91.06L788.87 90.68L788.99 90.30L789.24 89.56L789.48 88.83L789.48 88.83L789.73 88.11L789.98 87.40L790.10 87.06L790.23 86.71L790.47 86.03L790.72 85.37L790.72 85.37L790.97 84.72L791.21 84.08L791.34 83.76L791.46 83.45L791.71 82.84L791.95 82.24L791.95 82.24L792.20 81.65L792.45 81.08L792.57 80.80L792.70 80.52L792.94 79.98L793.19 79.44L793.19 79.44L793.44 78.93L793.68 78.42L793.81 78.18L793.93 77.93L794.18 77.46L794.42 76.99L794.42 76.99L794.67 76.54L794.92 76.11L795.04 75.89L795.17 75.68L795.41 75.27L795.66 74.88L795.66 74.88L795.91 74.49L796.15 74.12L796.28 73.94L796.40 73.76L796.65 73.42L796.89 73.09L796.89 73.09L797.14 72.77L797.39 72.46L797.51 72.31L797.64 72.16L797.88 71.88L798.13 71.60L798.13 71.60L798.38 71.34L798.62 71.09L798.75 70.97L798.87 70.85L799.12 70.62L799.36 70.40L799.37 70.40L799.61 70.19L799.86 69.99L799.98 69.90L800.11 69.80L800.35 69.62L800.60 69.45L800.60 69.45L800.85 69.28L801.09 69.13L801.22 69.05L801.34 68.98L801.59 68.84L801.83 68.71L801.83 68.71L802.08 68.58L802.33 68.46L802.45 68.40L802.58 68.35L802.82 68.24L803.07 68.14L803.07 68.14L803.32 68.04L803.56 67.95L803.69 67.91L803.81 67.86L804.06 67.78L804.30 67.70L804.30 67.70L804.55 67.63L804.80 67.56L804.92 67.53L805.05 67.50L805.29 67.43L805.54 67.38L805.54 67.38L805.79 67.32L806.03 67.27L806.16 67.24L806.28 67.22L806.53 67.17L806.77 67.13L806.77 67.13L807.02 67.09L807.27 67.05L807.39 67.03L807.52 67.01L807.76 66.97L808.01 66.94L808.01 66.94L808.26 66.91L808.50 66.88L808.63 66.86L808.75 66.85L809.00 66.82L809.24 66.79L809.24 66.79L809.49 66.77L809.74 66.74L809.86 66.73L809.99 66.72L810.23 66.70L810.48 66.68L810.48 66.68L810.73 66.66L810.97 66.64L811.10 66.63L811.22 66.62L811.47 66.61L811.71 66.59L811.71 66.59L811.96 66.58L812.21 66.56L812.33 66.55L812.46 66.55L812.70 66.53L812.95 66.52L813.57 66.49L814.18 66.46L814.80 66.44L815.42 66.42L816.04 66.40L816.65 66.38L817.27 66.36L817.89 66.35L818.51 66.34L819.12 66.32L819.74 66.31L820.36 66.30L820.98 66.29L821.59 66.28L822.21 66.27L822.83 66.27L823.45 66.26L824.06 66.25L824.68 66.25L825.30 66.24" stroke="#000" stroke-width="1.15"/>
</g>
<g clip-path="url(#c01)" fill="none" stroke-linejoin="round">
<path d="M84.30 345.98L84.92 345.96L85.53 345.89L86.15 345.76L86.77 345.59L87.39 345.37L88.00 345.10L88.62 344.78L89.24 344.38L89.86 343.97L90.47 343.51L91.09 343.01L91.71 342.46L92.33 341.87L92.94 341.21L93.56 340.54L94.18 339.82L94.80 339.08L95.41 338.29L96.03 337.47L96.65 336.59L97.27 335.71L97.88 334.80L98.50 333.84L99.12 332.89L99.74 331.92L100.35 330.93L100.97 329.89L101.59 328.88L102.21 327.83L102.82 326.81L103.44 325.79L104.06 324.75L104.68 323.74L105.30 322.72L105.91 321.75L106.53 320.81L107.15 319.86L107.77 318.97L108.38 318.10L109.00 317.30L109.62 316.52L110.23 315.79L110.85 315.16L111.47 314.54L112.09 314.05L112.70 313.66L113.32 313.38L113.94 313.17L114.56 313.07L115.17 313.11L115.79 313.24L116.41 313.50L117.03 313.89L117.64 314.42L118.26 315.12L118.88 315.94L119.50 316.93L120.11 318.09L120.73 319.40L121.35 320.91L121.97 322.58L122.58 324.44L123.20 326.48L123.82 328.72L124.44 331.14L125.06 333.76L125.67 336.58L126.29 339.59L126.91 342.79L127.53 346.19L128.14 349.78L128.76 353.54L129.38 357.51L130.00 361.64L130.61 365.93L131.23 370.40L131.85 374.98L132.47 379.74L133.08 384.61L133.70 389.61L134.32 394.68L134.94 399.86L135.55 405.08L136.17 410.34L136.79 415.65L137.41 420.96L138.02 426.24L138.64 431.48L139.26 436.65L139.88 441.73L140.49 446.70L141.11 451.52L141.73 456.17L142.34 460.61L142.96 464.83L143.58 468.79L144.20 472.46L144.81 475.83L145.43 478.85L146.05 481.52L146.67 483.80L147.28 485.66L147.90 487.10L148.52 488.09L149.14 488.61L149.75 488.64L150.37 488.18L150.99 487.21L151.61 485.73L152.22 483.75L152.84 481.24L153.46 478.24L154.08 474.73L154.69 470.73L155.31 466.26L155.93 461.34L156.55 455.99L157.16 450.25L157.78 444.14L158.40 437.69L158.52 436.37L158.65 435.04L158.77 433.69L158.89 432.34L159.02 430.97L159.02 430.97L159.14 429.59L159.26 428.21L159.39 426.81L159.51 425.41L159.63 424.00L159.64 424.00L159.76 422.58L159.88 421.15L160.01 419.71L160.13 418.27L160.25 416.84L160.25 416.84L160.38 415.37L160.50 413.92L160.62 412.44L160.75 410.99L160.87 409.51L160.87 409.51L160.99 408.03L161.12 406.57L161.24 405.06L161.36 403.59L161.49 402.09L161.49 402.09L161.61 400.60L161.73 399.12L161.86 397.62L161.98 396.12L162.11 394.64L162.11 394.64L162.23 393.14L162.35 391.64L162.48 390.16L162.60 388.69L162.72 387.19L162.72 387.19L162.85 385.69L162.97 384.22L163.09 382.75L163.22 381.28L163.34 379.80L163.34 379.80L163.46 378.33L163.59 376.87L163.71 375.42L163.83 373.97L163.96 372.53L163.96 372.53L164.08 371.10L164.20 369.67L164.33 368.25L164.45 366.83L164.57 365.42L164.58 365.42L164.70 364.03L164.82 362.64L164.95 361.25L165.07 359.88L165.19 358.51L165.19 358.51L165.32 357.16L165.44 355.81L165.56 354.46L165.69 353.12L165.81 351.78L165.81 351.78L165.93 350.44L166.06 349.04L166.18 347.69L166.30 346.44L166.43 345.21L166.43 345.21L166.55 344.00L166.67 342.80L166.80 341.62L166.92 340.46L167.05 339.32L167.05 339.32L167.17 338.20L167.29 337.10L167.42 336.03L167.54 334.97L167.66 333.93L167.66 333.93L167.79 332.92L167.91 331.93L168.03 330.96L168.16 330.02L168.28 329.10L168.28 329.10L168.40 328.20L168.53 327.33L168.65 326.48L168.77 325.66L168.90 324.87L168.90 324.87L169.02 324.10L169.14 323.36L169.27 322.65L169.39 321.96L169.51 321.30L169.52 321.30L169.64 320.67L169.76 320.07L169.89 319.49L170.01 318.95L170.13 318.44L170.13 318.44L170.26 317.95L170.38 317.50L170.50 317.07L170.63 316.68L170.75 316.31L170.75 316.31L170.87 315.98L171.00 315.68L171.12 315.41L171.24 315.18L171.37 314.97L171.37 314.97L171.49 314.80L171.61 314.66L171.74 314.55L171.86 314.48L171.99 314.44L171.99 314.44L172.11 314.43L172.23 314.45L172.36 314.51L172.48 314.60L172.60 314.73L172.60 314.73L172.73 314.89L172.85 315.08L172.97 315.30L173.10 315.56L173.22 315.86L173.84 317.83L174.45 320.64L175.07 324.27L175.69 328.71L176.31 333.92L176.93 339.85L177.54 346.47L178.16 353.70L178.78 361.49L179.39 369.75L180.01 378.40L180.63 387.36L181.25 396.52L181.87 405.79L182.48 415.05L183.10 424.21L183.72 433.15L184.33 441.76L184.95 449.93L185.57 457.57L186.19 464.55L186.81 470.80L187.42 476.22L188.04 480.72L188.66 484.25L189.27 486.73L189.89 488.12L190.51 488.39L191.13 487.52L191.75 485.50L192.36 482.34L192.98 478.07L193.60 472.74L194.22 466.40L194.83 459.12L195.45 451.00L196.07 442.14L196.69 432.65L197.30 422.67L197.92 412.32L198.54 401.77L199.16 391.16L199.77 380.64L200.39 370.38L201.01 360.54L201.62 351.27L202.24 342.71L202.86 335.01L203.48 328.31L204.09 322.71L204.71 318.31L205.33 315.21L205.95 313.47L206.56 313.12L207.18 314.19L207.80 316.69L208.42 320.57L209.03 325.80L209.65 332.30L210.27 339.97L210.89 348.70L211.50 358.34L212.12 368.74L212.74 379.73L213.36 391.12L213.98 402.72L214.59 414.31L215.21 425.70L215.83 436.67L216.44 447.03L217.06 456.58L217.68 465.14L218.30 472.54L218.92 478.63L219.53 483.29L220.15 486.42L220.77 487.94L221.38 487.82L222.00 486.03L222.62 482.60L223.24 477.59L223.86 471.07L224.47 463.16L225.09 454.00L225.71 443.77L226.32 432.66L226.94 420.88L227.56 408.67L228.18 396.26L228.80 383.92L229.41 371.89L230.03 360.42L230.65 349.76L231.26 340.12L231.88 331.72L232.50 324.75L233.12 319.36L233.74 315.67L234.35 313.78L234.97 313.75L235.59 315.58L236.20 319.24L236.82 324.69L237.44 331.79L238.06 340.42L238.68 350.40L239.29 361.51L239.91 373.52L240.53 386.17L241.14 399.21L241.76 412.26L242.38 425.08L243.00 437.40L243.62 448.92L244.23 459.38L244.85 468.54L245.47 476.18L246.08 482.11L246.70 486.19L247.32 488.32L247.94 488.43L248.56 486.51L249.17 482.60L249.79 476.78L250.41 469.17L251.02 459.96L251.64 449.35L252.26 437.59L252.88 424.95L253.50 411.75L254.11 398.28L254.73 384.88L255.35 371.88L255.96 359.59L256.58 348.32L257.20 338.31L257.82 329.85L258.44 323.15L259.05 318.38L259.67 315.67L260.29 315.08L260.90 316.64L261.52 320.33L262.14 326.05L262.76 333.68L263.38 343.01L263.99 353.84L264.61 365.88L265.23 378.84L265.84 392.39L266.46 406.19L267.08 419.89L267.70 433.14L268.31 445.61L268.93 456.97L269.55 466.93L270.17 475.23L270.79 481.66L271.40 486.04L272.02 488.27L272.64 488.27L273.25 486.06L273.87 481.67L274.49 475.21L275.11 466.87L275.73 456.83L276.34 445.37L276.96 432.77L277.58 419.36L278.19 405.49L278.81 391.51L279.43 377.77L280.05 364.64L280.67 352.44L281.28 341.50L281.90 332.08L282.52 324.42L283.13 318.72L283.75 315.12L284.37 313.69L284.99 314.47L285.61 317.43L286.22 322.47L286.84 329.47L287.46 338.23L288.07 348.52L288.69 360.07L289.31 372.59L289.93 385.75L290.55 399.23L291.16 412.70L291.78 425.82L292.40 438.29L293.01 449.82L293.63 460.15L294.25 469.07L294.50 472.21L294.74 475.07L294.87 476.41L294.99 477.67L295.24 479.99L295.48 482.02L295.49 482.02L295.73 483.77L295.98 485.22L296.10 485.84L296.23 486.38L296.47 487.25L296.72 487.83L296.72 487.83L296.97 488.12L297.21 488.12L297.34 488.01L297.46 487.84L297.71 487.28L297.95 486.46L297.95 486.46L298.20 485.37L298.45 484.03L298.57 483.27L298.70 482.44L298.94 480.63L299.19 478.59L299.19 478.59L299.44 476.34L299.68 473.89L299.81 472.60L299.93 471.26L300.18 468.46L300.42 465.50L300.43 465.50L300.67 462.39L300.92 459.16L301.04 457.50L301.17 455.82L301.41 452.37L301.66 448.84L301.66 448.84L301.91 445.24L302.15 441.58L302.28 439.73L302.40 437.87L302.65 434.14L302.89 430.39L302.89 430.39L303.14 426.63L303.39 422.89L303.51 421.02L303.64 419.15L303.88 415.45L304.13 411.79L304.13 411.79L304.38 408.17L304.62 404.61L304.75 402.85L304.87 401.11L305.12 397.69L305.36 394.34L305.37 394.34L305.61 391.07L305.86 387.89L305.98 386.33L306.11 384.79L306.35 381.79L306.60 378.89L306.60 378.89L306.85 376.08L307.09 373.37L307.22 372.05L307.34 370.76L307.59 368.25L307.83 365.83L307.83 365.83L308.08 363.51L308.33 361.29L308.45 360.22L308.58 359.16L308.82 357.13L309.07 355.18L309.07 355.18L309.32 353.32L309.56 351.55L309.69 350.69L309.81 349.86L310.06 348.24L310.30 346.71L310.31 346.71L310.55 345.25L310.80 343.85L310.92 343.18L311.05 342.53L311.29 341.27L311.54 340.07L311.54 340.07L311.79 338.93L312.03 337.85L312.16 337.33L312.28 336.82L312.53 335.84L312.77 334.91L312.77 334.91L313.02 334.03L313.27 333.19L313.39 332.78L313.52 332.39L313.76 331.63L314.01 330.90L314.01 330.90L314.26 330.21L314.50 329.56L314.63 329.24L314.75 328.93L315.00 328.34L315.24 327.77L315.25 327.77L315.49 327.24L315.74 326.72L315.86 326.47L315.99 326.23L316.23 325.76L316.48 325.32L316.48 325.32L316.73 324.89L316.97 324.49L317.10 324.29L317.22 324.10L317.47 323.73L317.71 323.37L317.71 323.37L317.96 323.03L318.21 322.71L318.33 322.55L318.46 322.40L318.70 322.10L318.95 321.82L319.57 321.16L320.19 320.56L320.80 320.02L321.42 319.54L322.04 319.09L322.65 318.69L323.27 318.33L323.89 317.99L324.51 317.69L325.12 317.40L325.74 317.15L326.36 316.91L326.98 316.69L327.59 316.48L328.21 316.30L328.83 316.12L329.45 315.96L330.06 315.81L330.68 315.67L331.30 315.54" stroke="#ff0000" stroke-width="1.4" stroke-dasharray="2 4.5"/>
<path d="M84.30 345.01L84.92 344.98L85.53 344.91L86.15 344.78L86.77 344.61L87.39 344.39L88.00 344.12L88.62 343.81L89.24 343.43L89.86 343.02L90.47 342.56L91.09 342.06L91.71 341.52L92.33 340.93L92.94 340.29L93.56 339.62L94.18 338.92L94.80 338.18L95.41 337.40L96.03 336.59L96.65 335.73L97.27 334.86L97.88 333.96L98.50 333.03L99.12 332.08L99.74 331.12L100.35 330.15L100.97 329.14L101.59 328.15L102.21 327.13L102.82 326.12L103.44 325.12L104.06 324.11L104.68 323.12L105.30 322.13L105.91 321.18L106.53 320.26L107.15 319.35L107.77 318.48L108.38 317.65L109.00 316.87L109.62 316.14L110.23 315.45L110.85 314.85L111.47 314.29L112.09 313.83L112.70 313.46L113.32 313.20L113.94 313.02L114.56 312.94L115.17 312.99L115.79 313.14L116.41 313.42L117.03 313.83L117.64 314.38L118.26 315.08L118.88 315.92L119.50 316.92L120.11 318.09L120.73 319.40L121.35 320.91L121.97 322.58L122.58 324.44L123.20 326.47L123.82 328.70L124.44 331.11L125.06 333.72L125.67 336.52L126.29 339.50L126.91 342.68L127.53 346.05L128.14 349.61L128.76 353.35L129.38 357.27L130.00 361.35L130.61 365.61L131.23 370.02L131.85 374.58L132.47 379.28L133.08 384.09L133.70 389.03L134.32 394.06L134.94 399.17L135.55 404.34L136.17 409.56L136.79 414.81L137.41 420.06L138.02 425.29L138.64 430.48L139.26 435.61L139.88 440.65L140.49 445.57L141.11 450.36L141.73 454.98L142.34 459.40L142.96 463.60L143.58 467.55L144.20 471.22L144.81 474.59L145.43 477.63L146.05 480.32L146.67 482.62L147.28 484.53L147.90 486.01L148.52 487.05L149.14 487.62L149.75 487.72L150.37 487.33L150.99 486.44L151.61 485.04L152.22 483.13L152.84 480.71L153.46 477.78L154.08 474.35L154.69 470.43L155.31 466.04L155.93 461.18L156.55 455.89L157.16 450.19L157.78 444.11L158.40 437.69L158.52 436.37L158.65 435.04L158.77 433.69L158.89 432.34L159.02 430.97L159.02 430.97L159.14 429.59L159.26 428.21L159.39 426.81L159.51 425.40L159.63 423.99L159.64 423.99L159.76 422.56L159.88 421.13L160.01 419.69L160.13 418.24L160.25 416.80L160.25 416.80L160.38 415.33L160.50 413.87L160.62 412.38L160.75 410.92L160.87 409.43L160.87 409.43L160.99 407.94L161.12 406.46L161.24 404.95L161.36 403.46L161.49 401.96L161.49 401.96L161.61 400.45L161.73 398.95L161.86 397.44L161.98 395.93L162.11 394.43L162.11 394.43L162.23 392.91L162.35 391.40L162.48 389.90L162.60 388.40L162.72 386.89L162.72 386.89L162.85 385.38L162.97 383.88L163.09 382.39L163.22 380.90L163.34 379.40L163.34 379.40L163.46 377.91L163.59 376.44L163.71 374.96L163.83 373.49L163.96 372.03L163.96 372.03L164.08 370.58L164.20 369.13L164.33 367.68L164.45 366.25L164.57 364.82L164.58 364.82L164.70 363.41L164.82 362.00L164.95 360.60L165.07 359.21L165.19 357.83L165.19 357.83L165.32 356.45L165.44 355.09L165.56 353.74L165.69 352.40L165.81 351.06L165.81 351.06L165.93 349.73L166.06 348.36L166.18 347.04L166.30 345.79L166.43 344.56L166.43 344.56L166.55 343.34L166.67 342.14L166.80 340.96L166.92 339.80L167.05 338.66L167.05 338.66L167.17 337.54L167.29 336.44L167.42 335.36L167.54 334.30L167.66 333.26L167.66 333.26L167.79 332.25L167.91 331.25L168.03 330.28L168.16 329.34L168.28 328.42L168.28 328.42L168.40 327.52L168.53 326.65L168.65 325.80L168.77 324.98L168.90 324.18L168.90 324.18L169.02 323.41L169.14 322.67L169.27 321.95L169.39 321.27L169.51 320.61L169.52 320.61L169.64 319.97L169.76 319.37L169.89 318.80L170.01 318.25L170.13 317.73L170.13 317.73L170.26 317.25L170.38 316.79L170.50 316.37L170.63 315.97L170.75 315.61L170.75 315.61L170.87 315.28L171.00 314.97L171.12 314.70L171.24 314.47L171.37 314.26L171.37 314.26L171.49 314.09L171.61 313.95L171.74 313.84L171.86 313.76L171.99 313.72L171.99 313.72L172.11 313.71L172.23 313.74L172.36 313.79L172.48 313.88L172.60 314.01L172.60 314.01L172.73 314.17L172.85 314.36L172.97 314.58L173.10 314.84L173.22 315.13L173.84 317.10L174.45 319.91L175.07 323.54L175.69 327.98L176.31 333.19L176.93 339.12L177.54 345.74L178.16 352.98L178.78 360.77L179.39 369.03L180.01 377.69L180.63 386.65L181.25 395.82L181.87 405.09L182.48 414.37L183.10 423.53L183.72 432.48L184.33 441.10L184.95 449.28L185.57 456.92L186.19 463.92L186.81 470.18L187.42 475.61L188.04 480.13L188.66 483.66L189.27 486.16L189.89 487.57L190.51 487.85L191.13 486.99L191.75 484.99L192.36 481.85L192.98 477.60L193.60 472.28L194.22 465.95L194.83 458.69L195.45 450.59L196.07 441.74L196.69 432.27L197.30 422.30L197.92 411.98L198.54 401.44L199.16 390.84L199.77 380.35L200.39 370.10L201.01 360.28L201.62 351.02L202.24 342.48L202.86 334.80L203.48 328.11L204.09 322.52L204.71 318.14L205.33 315.06L205.95 313.32L206.56 312.99L207.18 314.08L207.80 316.58L208.42 320.48L209.03 325.72L209.65 332.23L210.27 339.91L210.89 348.65L211.50 358.30L212.12 368.71L212.74 379.71L213.36 391.10L213.98 402.70L214.59 414.30L215.21 425.69L215.83 436.67L216.44 447.03L217.06 456.58L217.68 465.14L218.30 472.54L218.92 478.63L219.53 483.29L220.15 486.41L220.77 487.93L221.38 487.80L222.00 486.01L222.62 482.57L223.24 477.55L223.86 471.02L224.47 463.10L225.09 453.93L225.71 443.69L226.32 432.57L226.94 420.78L227.56 408.55L228.18 396.13L228.80 383.78L229.41 371.73L230.03 360.24L230.65 349.56L231.26 339.91L231.88 331.49L232.50 324.50L233.12 319.08L233.74 315.38L234.35 313.47L234.97 313.41L235.59 315.21L236.20 318.86L236.82 324.27L237.44 331.35L238.06 339.95L238.68 349.90L239.29 360.98L239.91 372.95L240.53 385.56L241.14 398.53L241.76 411.56L242.38 424.37L243.00 436.67L243.62 448.17L244.23 458.62L244.85 467.76L245.47 475.38L246.08 481.30L246.70 485.36L247.32 487.47L247.94 487.56L248.56 485.63L249.17 481.71L249.79 475.87L250.41 468.26L251.02 459.04L251.64 448.42L252.26 436.65L252.88 424.00L253.50 410.79L254.11 397.31L254.73 383.91L255.35 370.89L255.96 358.60L256.58 347.31L257.20 337.32L257.82 328.86L258.44 322.16L259.05 317.40L259.67 314.69L260.29 314.11L260.90 315.68L261.52 319.38L262.14 325.11L262.76 332.74L263.38 342.09L263.99 352.92L264.61 364.97L265.23 377.94L265.84 391.50L266.46 405.32L267.08 419.03L267.70 432.30L268.31 444.78L268.93 456.15L269.55 466.12L270.17 474.44L270.79 480.88L271.40 485.28L272.02 487.53L272.64 487.55L273.25 485.35L273.87 480.98L274.49 474.54L275.11 466.21L275.73 456.19L276.34 444.75L276.96 432.17L277.58 418.78L278.19 404.92L278.81 390.96L279.43 377.24L280.05 364.13L280.67 351.95L281.28 341.02L281.90 331.62L282.52 323.98L283.13 318.30L283.75 314.71L284.37 313.30L284.99 314.10L285.61 317.07L286.22 322.13L286.84 329.14L287.46 337.92L288.07 348.23L288.69 359.79L289.31 372.33L289.93 385.50L290.55 399.00L291.16 412.48L291.78 425.61L292.40 438.09L293.01 449.64L293.63 459.98L294.25 468.92L294.50 472.05L294.74 474.92L294.87 476.26L294.99 477.52L295.24 479.85L295.48 481.88L295.49 481.88L295.73 483.63L295.98 485.09L296.10 485.71L296.23 486.26L296.47 487.13L296.72 487.72L296.72 487.72L296.97 488.01L297.21 488.01L297.34 487.91L297.46 487.74L297.71 487.18L297.95 486.36L297.95 486.36L298.20 485.28L298.45 483.94L298.57 483.18L298.70 482.36L298.94 480.54L299.19 478.51L299.19 478.51L299.44 476.26L299.68 473.82L299.81 472.53L299.93 471.19L300.18 468.39L300.42 465.43L300.43 465.43L300.67 462.33L300.92 459.10L301.04 457.45L301.17 455.76L301.41 452.32L301.66 448.79L301.66 448.79L301.91 445.19L302.15 441.53L302.28 439.68L302.40 437.83L302.65 434.10L302.89 430.35L302.89 430.35L303.14 426.59L303.39 422.85L303.51 420.98L303.64 419.12L303.88 415.42L304.13 411.76L304.13 411.76L304.38 408.14L304.62 404.58L304.75 402.83L304.87 401.09L305.12 397.66L305.36 394.31L305.37 394.31L305.61 391.04L305.86 387.86L305.98 386.31L306.11 384.77L306.35 381.77L306.60 378.87L306.60 378.87L306.85 376.06L307.09 373.35L307.22 372.03L307.34 370.74L307.59 368.23L307.83 365.82L307.83 365.82L308.08 363.50L308.33 361.28L308.45 360.20L308.58 359.15L308.82 357.11L309.07 355.17L309.07 355.17L309.32 353.31L309.56 351.54L309.69 350.68L309.81 349.85L310.06 348.24L310.30 346.70L310.31 346.70L310.55 345.24L310.80 343.85L310.92 343.18L311.05 342.52L311.29 341.26L311.54 340.07L311.54 340.07L311.79 338.93L312.03 337.84L312.16 337.32L312.28 336.81L312.53 335.84L312.77 334.91L312.77 334.91L313.02 334.02L313.27 333.18L313.39 332.78L313.52 332.38L313.76 331.62L314.01 330.90L314.01 330.90L314.26 330.21L314.50 329.55L314.63 329.24L314.75 328.93L315.00 328.34L315.24 327.77L315.25 327.77L315.49 327.23L315.74 326.72L315.86 326.47L315.99 326.23L316.23 325.76L316.48 325.32L316.48 325.32L316.73 324.89L316.97 324.48L317.10 324.29L317.22 324.10L317.47 323.72L317.71 323.37L317.71 323.37L317.96 323.03L318.21 322.71L318.33 322.55L318.46 322.40L318.70 322.10L318.95 321.82L319.57 321.15L320.19 320.56L320.80 320.02L321.42 319.53L322.04 319.09L322.65 318.69L323.27 318.32L323.89 317.99L324.51 317.68L325.12 317.40L325.74 317.14L326.36 316.91L326.98 316.69L327.59 316.48L328.21 316.30L328.83 316.12L329.45 315.96L330.06 315.81L330.68 315.67L331.30 315.54" stroke="#0000ff" stroke-width="1.2" stroke-dasharray="11 8.5"/>
<path d="M84.30 348.04L84.92 348.01L85.53 347.93L86.15 347.80L86.77 347.61L87.39 347.37L88.00 347.08L88.62 346.74L89.24 346.32L89.86 345.88L90.47 345.38L91.09 344.84L91.71 344.25L92.33 343.62L92.94 342.91L93.56 342.19L94.18 341.42L94.80 340.62L95.41 339.77L96.03 338.89L96.65 337.96L97.27 337.01L97.88 336.04L98.50 335.01L99.12 333.99L99.74 332.94L100.35 331.88L100.97 330.78L101.59 329.70L102.21 328.58L102.82 327.49L103.44 326.40L104.06 325.29L104.68 324.22L105.30 323.14L105.91 322.10L106.53 321.09L107.15 320.09L107.77 319.15L108.38 318.22L109.00 317.38L109.62 316.56L110.23 315.81L110.85 315.14L111.47 314.51L112.09 314.01L112.70 313.60L113.32 313.31L113.94 313.10L114.56 313.01L115.17 313.06L115.79 313.21L116.41 313.51L117.03 313.94L117.64 314.53L118.26 315.28L118.88 316.19L119.50 317.26L120.11 318.53L120.73 319.95L121.35 321.58L121.97 323.39L122.58 325.40L123.20 327.60L123.82 330.02L124.44 332.63L125.06 335.46L125.67 338.49L126.29 341.74L126.91 345.19L127.53 348.84L128.14 352.71L128.76 356.76L129.38 361.02L130.00 365.46L130.61 370.08L131.23 374.88L131.85 379.82L132.47 384.93L133.08 390.16L133.70 395.53L134.32 400.99L134.94 406.54L135.55 412.16L136.17 417.82L136.79 423.53L137.41 429.23L138.02 434.91L138.64 440.55L139.26 446.11L139.88 451.59L140.49 456.94L141.11 462.13L141.73 467.14L142.34 471.93L142.96 476.48L143.58 480.76L144.20 484.74L144.81 488.38L145.43 491.67L146.05 494.56L146.67 497.05L147.28 499.10L147.90 500.68L148.52 501.78L149.14 502.38L149.75 502.46L150.37 502.01L150.99 501.02L151.61 499.48L152.22 497.38L152.84 494.73L153.46 491.53L154.08 487.78L154.69 483.51L155.31 478.72L155.93 473.45L156.55 467.70L157.16 461.51L157.78 454.92L158.40 447.96L158.52 446.53L158.65 445.09L158.77 443.63L158.89 442.17L159.02 440.69L159.02 440.69L159.14 439.20L159.26 437.70L159.39 436.19L159.51 434.67L159.63 433.14L159.64 433.14L159.76 431.60L159.88 430.05L160.01 428.49L160.13 426.93L160.25 425.37L160.25 425.37L160.38 423.77L160.50 422.21L160.62 420.60L160.75 419.01L160.87 417.41L160.87 417.41L160.99 415.80L161.12 414.21L161.24 412.57L161.36 410.97L161.49 409.34L161.49 409.34L161.61 407.72L161.73 406.11L161.86 404.47L161.98 402.84L162.11 401.23L162.11 401.23L162.23 399.59L162.35 397.96L162.48 396.35L162.60 394.73L162.72 393.10L162.72 393.10L162.85 391.47L162.97 389.86L163.09 388.26L163.22 386.65L163.34 385.04L163.34 385.04L163.46 383.43L163.59 381.84L163.71 380.26L163.83 378.68L163.96 377.10L163.96 377.10L164.08 375.53L164.20 373.97L164.33 372.42L164.45 370.87L164.57 369.34L164.58 369.34L164.70 367.82L164.82 366.30L164.95 364.79L165.07 363.29L165.19 361.80L165.19 361.80L165.32 360.32L165.44 358.85L165.56 357.39L165.69 355.94L165.81 354.49L165.81 354.49L165.93 353.05L166.06 351.55L166.18 350.11L166.30 348.76L166.43 347.43L166.43 347.43L166.55 346.11L166.67 344.81L166.80 343.54L166.92 342.28L167.05 341.05L167.05 341.05L167.17 339.84L167.29 338.65L167.42 337.48L167.54 336.33L167.66 335.21L167.66 335.21L167.79 334.11L167.91 333.04L168.03 331.99L168.16 330.97L168.28 329.97L168.28 329.97L168.40 329.00L168.53 328.05L168.65 327.14L168.77 326.25L168.90 325.39L168.90 325.39L169.02 324.56L169.14 323.75L169.27 322.98L169.39 322.24L169.51 321.52L169.52 321.52L169.64 320.84L169.76 320.19L169.89 319.57L170.01 318.98L170.13 318.42L170.13 318.42L170.26 317.89L170.38 317.40L170.50 316.94L170.63 316.51L170.75 316.12L170.75 316.12L170.87 315.76L171.00 315.43L171.12 315.14L171.24 314.89L171.37 314.66L171.37 314.66L171.49 314.48L171.61 314.33L171.74 314.21L171.86 314.13L171.99 314.08L171.99 314.08L172.11 314.07L172.23 314.10L172.36 314.16L172.48 314.26L172.60 314.39L172.60 314.39L172.73 314.56L172.85 314.77L172.97 315.01L173.10 315.29L173.22 315.61L173.84 317.74L174.45 320.78L175.07 324.72L175.69 329.52L176.31 335.15L176.93 341.58L177.54 348.74L178.16 356.57L178.78 364.99L179.39 373.94L180.01 383.31L180.63 393.00L181.25 402.92L181.87 412.96L182.48 422.99L183.10 432.90L183.72 442.58L184.33 451.91L184.95 460.76L185.57 469.03L186.19 476.60L186.81 483.37L187.42 489.24L188.04 494.12L188.66 497.94L189.27 500.64L189.89 502.16L190.51 502.46L191.13 501.52L191.75 499.35L192.36 495.94L192.98 491.34L193.60 485.57L194.22 478.72L194.83 470.86L195.45 462.08L196.07 452.50L196.69 442.24L197.30 431.45L197.92 420.27L198.54 408.86L199.16 397.39L199.77 386.02L200.39 374.93L201.01 364.29L201.62 354.26L202.24 345.01L202.86 336.70L203.48 329.45L204.09 323.40L204.71 318.65L205.33 315.31L205.95 313.43L206.56 313.06L207.18 314.23L207.80 316.94L208.42 321.15L209.03 326.82L209.65 333.86L210.27 342.17L210.89 351.62L211.50 362.06L212.12 373.32L212.74 385.22L213.36 397.55L213.98 410.10L214.59 422.65L215.21 434.98L215.83 446.86L216.44 458.07L217.06 468.41L217.68 477.67L218.30 485.68L218.92 492.27L219.53 497.31L220.15 500.70L220.77 502.34L221.38 502.20L222.00 500.26L222.62 496.55L223.24 491.11L223.86 484.05L224.47 475.48L225.09 465.57L225.71 454.49L226.32 442.45L226.94 429.70L227.56 416.47L228.18 403.04L228.80 389.67L229.41 376.64L230.03 364.22L230.65 352.66L231.26 342.22L231.88 333.12L232.50 325.56L233.12 319.71L233.74 315.71L234.35 313.65L234.97 313.59L235.59 315.56L236.20 319.51L236.82 325.38L237.44 333.05L238.06 342.37L238.68 353.15L239.29 365.15L239.91 378.12L240.53 391.79L241.14 405.85L241.76 419.96L242.38 433.82L243.00 447.14L243.62 459.60L244.23 470.91L244.85 480.81L245.47 489.06L246.08 495.47L246.70 499.88L247.32 502.17L247.94 502.27L248.56 500.19L249.17 495.95L249.79 489.64L250.41 481.40L251.02 471.43L251.64 459.94L252.26 447.20L252.88 433.52L253.50 419.22L254.11 404.64L254.73 390.14L255.35 376.06L255.96 362.75L256.58 350.55L257.20 339.72L257.82 330.57L258.44 323.32L259.05 318.16L259.67 315.23L260.29 314.60L260.90 316.30L261.52 320.29L262.14 326.49L262.76 334.75L263.38 344.86L263.99 356.58L264.61 369.62L265.23 383.65L265.84 398.32L266.46 413.27L267.08 428.10L267.70 442.45L268.31 455.96L268.93 468.26L269.55 479.05L270.17 488.04L270.79 495.01L271.40 499.77L272.02 502.19L272.64 502.20L273.25 499.81L273.87 495.08L274.49 488.11L275.11 479.08L275.73 468.24L276.34 455.84L276.96 442.22L277.58 427.73L278.19 412.72L278.81 397.60L279.43 382.75L280.05 368.55L280.67 355.36L281.28 343.53L281.90 333.35L282.52 325.08L283.13 318.92L283.75 315.03L284.37 313.50L284.99 314.35L285.61 317.56L286.22 323.04L286.84 330.62L287.46 340.11L288.07 351.26L288.69 363.77L289.31 377.33L289.93 391.58L290.55 406.18L291.16 420.76L291.78 434.97L292.40 448.47L293.01 460.96L293.63 472.15L294.25 481.82L294.50 485.21L294.74 488.32L294.87 489.76L294.99 491.13L295.24 493.64L295.48 495.84L295.49 495.84L295.73 497.74L295.98 499.31L296.10 499.98L296.23 500.57L296.47 501.52L296.72 502.15L296.72 502.15L296.97 502.46L297.21 502.46L297.34 502.35L297.46 502.16L297.71 501.56L297.95 500.67L297.95 500.67L298.20 499.50L298.45 498.05L298.57 497.22L298.70 496.34L298.94 494.37L299.19 492.17L299.19 492.17L299.44 489.73L299.68 487.09L299.81 485.69L299.93 484.24L300.18 481.21L300.42 478.01L300.43 478.01L300.67 474.65L300.92 471.16L301.04 469.36L301.17 467.54L301.41 463.81L301.66 459.99L301.66 459.99L301.91 456.10L302.15 452.14L302.28 450.14L302.40 448.13L302.65 444.09L302.89 440.03L302.89 440.03L303.14 435.97L303.39 431.91L303.51 429.89L303.64 427.88L303.88 423.87L304.13 419.91L304.13 419.91L304.38 415.99L304.62 412.14L304.75 410.24L304.87 408.36L305.12 404.65L305.36 401.03L305.37 401.03L305.61 397.49L305.86 394.05L305.98 392.36L306.11 390.70L306.35 387.45L306.60 384.31L306.60 384.31L306.85 381.27L307.09 378.34L307.22 376.91L307.34 375.52L307.59 372.80L307.83 370.18L307.83 370.18L308.08 367.68L308.33 365.27L308.45 364.11L308.58 362.97L308.82 360.77L309.07 358.66L309.07 358.66L309.32 356.65L309.56 354.73L309.69 353.80L309.81 352.90L310.06 351.15L310.30 349.49L310.31 349.49L310.55 347.91L310.80 346.40L310.92 345.68L311.05 344.97L311.29 343.61L311.54 342.31L311.54 342.31L311.79 341.08L312.03 339.91L312.16 339.34L312.28 338.79L312.53 337.74L312.77 336.73L312.77 336.73L313.02 335.77L313.27 334.86L313.39 334.42L313.52 334.00L313.76 333.17L314.01 332.39L314.01 332.39L314.26 331.64L314.50 330.94L314.63 330.59L314.75 330.26L315.00 329.62L315.24 329.01L315.25 329.01L315.49 328.42L315.74 327.87L315.86 327.60L315.99 327.34L316.23 326.83L316.48 326.35L316.48 326.35L316.73 325.89L316.97 325.45L317.10 325.24L317.22 325.03L317.47 324.63L317.71 324.24L317.71 324.24L317.96 323.88L318.21 323.53L318.33 323.36L318.46 323.19L318.70 322.87L318.95 322.56L319.57 321.85L320.19 321.20L320.80 320.62L321.42 320.09L322.04 319.61L322.65 319.18L323.27 318.78L323.89 318.42L324.51 318.09L325.12 317.78L325.74 317.50L326.36 317.25L326.98 317.01L327.59 316.79L328.21 316.59L328.83 316.40L329.45 316.22L330.06 316.06L330.68 315.91L331.30 315.76" stroke="#000" stroke-width="1.15"/>
</g>
<g clip-path="url(#c11)" fill="none" stroke-linejoin="round">
<path d="M331.30 484.72L331.92 484.71L332.54 484.70L333.15 484.68L333.77 484.66L334.39 484.63L335.00 484.59L335.62 484.54L336.24 484.48L336.86 484.42L337.48 484.35L338.09 484.27L338.71 484.18L339.33 484.08L339.94 483.97L340.56 483.86L341.18 483.73L341.80 483.60L342.42 483.45L343.03 483.30L343.65 483.13L344.27 482.95L344.88 482.76L345.50 482.55L346.12 482.34L346.74 482.11L347.36 481.87L347.97 481.61L348.59 481.34L349.21 481.05L349.82 480.75L350.44 480.43L351.06 480.09L351.68 479.73L352.30 479.36L352.91 478.97L353.53 478.56L354.15 478.12L354.76 477.67L355.38 477.20L356.00 476.70L356.62 476.18L357.24 475.64L357.85 475.07L358.47 474.47L359.09 473.86L359.71 473.21L360.32 472.55L360.94 471.85L361.56 471.12L362.18 470.37L362.79 469.58L363.41 468.77L364.03 467.92L364.64 467.05L365.26 466.14L365.88 465.19L366.50 464.22L367.12 463.21L367.73 462.17L368.35 461.09L368.97 459.97L369.59 458.82L370.20 457.63L370.82 456.41L371.44 455.15L372.06 453.85L372.67 452.51L373.29 451.13L373.91 449.72L374.53 448.26L375.14 446.77L375.76 445.23L376.38 443.66L377.00 442.05L377.61 440.39L378.23 438.70L378.85 436.97L379.47 435.20L380.08 433.39L380.70 431.54L381.32 429.65L381.94 427.72L382.55 425.76L383.17 423.75L383.79 421.72L384.41 419.64L385.02 417.53L385.64 415.39L386.26 413.21L386.88 411.00L387.49 408.76L388.11 406.48L388.73 404.18L389.35 401.85L389.96 399.50L390.58 397.12L391.20 394.72L391.81 392.30L392.43 389.86L393.05 387.40L393.67 384.93L394.29 382.45L394.90 379.95L395.52 377.46L396.14 374.96L396.75 372.45L397.37 369.95L397.99 367.46L398.61 364.97L399.23 362.50L399.84 360.04L400.46 357.60L401.08 355.19L401.69 352.80L402.31 350.44L402.93 348.12L403.55 345.84L404.17 343.61L404.78 341.42L405.40 339.28L405.52 338.86L405.65 338.45L405.77 338.03L405.89 337.62L406.02 337.21L406.02 337.21L406.14 336.80L406.26 336.39L406.39 335.99L406.51 335.59L406.63 335.19L406.64 335.19L406.76 334.79L406.88 334.40L407.01 334.01L407.13 333.62L407.25 333.24L407.25 333.24L407.38 332.86L407.50 332.48L407.62 332.10L407.75 331.73L407.87 331.36L407.87 331.36L407.99 330.99L408.12 330.63L408.24 330.26L408.36 329.91L408.49 329.55L408.49 329.55L408.61 329.20L408.73 328.85L408.86 328.50L408.98 328.16L409.11 327.82L409.11 327.82L409.23 327.48L409.35 327.15L409.48 326.82L409.60 326.50L409.72 326.17L409.72 326.17L409.85 325.85L409.97 325.53L410.09 325.22L410.22 324.91L410.34 324.61L410.34 324.61L410.46 324.30L410.59 324.00L410.71 323.71L410.83 323.41L410.96 323.13L410.96 323.13L411.08 322.84L411.20 322.56L411.33 322.28L411.45 322.01L411.58 321.73L411.58 321.73L411.70 321.47L411.82 321.20L411.95 320.94L412.07 320.69L412.19 320.43L412.19 320.43L412.32 320.18L412.44 319.94L412.56 319.69L412.69 319.45L412.81 319.21L412.81 319.21L412.93 318.98L413.06 318.73L413.18 318.50L413.30 318.28L413.43 318.06L413.43 318.06L413.55 317.85L413.67 317.64L413.80 317.43L413.92 317.23L414.05 317.03L414.05 317.03L414.17 316.84L414.29 316.65L414.42 316.47L414.54 316.29L414.66 316.12L414.66 316.12L414.79 315.95L414.91 315.78L415.03 315.62L415.16 315.47L415.28 315.31L415.28 315.31L415.40 315.17L415.53 315.02L415.65 314.89L415.77 314.75L415.90 314.62L415.90 314.62L416.02 314.50L416.14 314.38L416.27 314.27L416.39 314.16L416.51 314.05L416.52 314.05L416.64 313.95L416.76 313.86L416.89 313.77L417.01 313.68L417.13 313.60L417.13 313.60L417.26 313.53L417.38 313.46L417.50 313.39L417.63 313.33L417.75 313.28L417.75 313.28L417.87 313.23L418.00 313.18L418.12 313.15L418.24 313.11L418.37 313.08L418.37 313.08L418.49 313.06L418.61 313.04L418.74 313.03L418.86 313.02L418.99 313.02L418.99 313.02L419.11 313.02L419.23 313.03L419.36 313.04L419.48 313.06L419.60 313.08L419.60 313.08L419.73 313.11L419.85 313.15L419.97 313.19L420.10 313.23L420.22 313.28L420.84 313.62L421.46 314.10L422.07 314.72L422.69 315.48L423.31 316.39L423.93 317.43L424.54 318.63L425.16 319.97L425.78 321.45L426.39 323.08L427.01 324.86L427.63 326.78L428.25 328.84L428.87 331.04L429.48 333.38L430.10 335.85L430.72 338.46L431.34 341.20L431.95 344.07L432.57 347.06L433.19 350.16L433.81 353.39L434.42 356.72L435.04 360.15L435.66 363.69L436.27 367.31L436.89 371.02L437.51 374.82L438.13 378.68L438.75 382.60L439.36 386.59L439.98 390.62L440.60 394.69L441.22 398.79L441.83 402.91L442.45 407.05L443.07 411.19L443.69 415.33L444.30 419.44L444.92 423.53L445.54 427.59L446.16 431.60L446.77 435.55L447.39 439.43L448.01 443.24L448.62 446.96L449.24 450.57L449.86 454.08L450.48 457.47L451.10 460.73L451.71 463.86L452.33 466.83L452.95 469.64L453.56 472.28L454.18 474.75L454.80 477.03L455.42 479.12L456.04 481.01L456.65 482.69L457.27 484.15L457.89 485.39L458.50 486.40L459.12 487.18L459.74 487.72L460.36 488.02L460.98 488.08L461.59 487.89L462.21 487.44L462.83 486.75L463.45 485.81L464.06 484.61L464.68 483.17L465.30 481.47L465.92 479.54L466.53 477.36L467.15 474.94L467.77 472.30L468.38 469.43L469.00 466.33L469.62 463.03L470.24 459.53L470.86 455.83L471.47 451.95L472.09 447.90L472.71 443.68L473.33 439.32L473.94 434.82L474.56 430.20L475.18 425.47L475.80 420.65L476.41 415.75L477.03 410.79L477.65 405.78L478.26 400.74L478.88 395.69L479.50 390.64L480.12 385.62L480.74 380.63L481.35 375.70L481.97 370.84L482.59 366.07L483.21 361.41L483.82 356.87L484.44 352.48L485.06 348.24L485.68 344.18L486.29 340.31L486.91 336.65L487.53 333.21L488.14 330.01L488.76 327.04L489.38 324.32L490.00 321.88L490.62 319.72L491.23 317.84L491.85 316.27L492.47 315.00L493.09 314.05L493.70 313.41L494.32 313.10L494.94 313.11L495.56 313.45L496.17 314.11L496.79 315.11L497.41 316.42L498.02 318.06L498.64 320.01L499.26 322.28L499.88 324.85L500.50 327.71L501.11 330.86L501.73 334.28L502.35 337.96L502.97 341.90L503.58 346.07L504.20 350.45L504.82 355.03L505.44 359.81L506.05 364.74L506.67 369.83L507.29 375.04L507.90 380.36L508.52 385.77L509.14 391.25L509.76 396.77L510.38 402.30L510.99 407.84L511.61 413.36L512.23 418.83L512.85 424.23L513.46 429.54L514.08 434.73L514.70 439.80L515.32 444.70L515.93 449.44L516.55 453.97L517.17 458.29L517.79 462.38L518.40 466.22L519.02 469.79L519.64 473.08L520.25 476.08L520.87 478.76L521.49 481.13L522.11 483.16L522.73 484.86L523.34 486.20L523.96 487.20L524.58 487.84L525.20 488.13L525.81 488.05L526.43 487.61L527.05 486.82L527.66 485.68L528.28 484.18L528.90 482.35L529.52 480.18L530.13 477.69L530.75 474.89L531.37 471.79L531.99 468.41L532.61 464.76L533.22 460.86L533.84 456.72L534.46 452.38L535.08 447.83L535.69 443.11L536.31 438.24L536.93 433.24L537.55 428.13L538.16 422.94L538.78 417.69L539.40 412.40L540.01 407.09L540.63 401.80L541.25 396.54L541.50 394.45L541.74 392.37L541.87 391.33L541.99 390.30L542.24 388.24L542.48 386.20L542.49 386.20L542.73 384.18L542.98 382.17L543.10 381.18L543.23 380.19L543.47 378.22L543.72 376.27L543.72 376.27L543.97 374.35L544.21 372.44L544.34 371.50L544.46 370.57L544.71 368.72L544.95 366.89L544.96 366.89L545.20 365.10L545.45 363.33L545.57 362.46L545.70 361.60L545.94 359.89L546.19 358.22L546.19 358.22L546.44 356.58L546.68 354.97L546.81 354.18L546.93 353.40L547.18 351.86L547.42 350.36L547.42 350.36L547.67 348.89L547.92 347.46L548.04 346.76L548.17 346.07L548.41 344.71L548.66 343.39L548.66 343.39L548.91 342.11L549.15 340.87L549.28 340.26L549.40 339.66L549.65 338.49L549.89 337.37L549.89 337.37L550.14 336.27L550.39 335.22L550.51 334.71L550.64 334.20L550.88 333.23L551.13 332.28L551.13 332.28L551.38 331.38L551.62 330.51L551.75 330.09L551.87 329.67L552.12 328.87L552.36 328.10L552.37 328.10L552.61 327.37L552.86 326.67L552.98 326.33L553.11 326.00L553.35 325.36L553.60 324.75L553.60 324.75L553.85 324.17L554.09 323.62L554.22 323.35L554.34 323.09L554.59 322.59L554.83 322.12L554.84 322.12L555.08 321.67L555.33 321.24L555.45 321.03L555.58 320.83L555.82 320.45L556.07 320.08L556.07 320.08L556.32 319.74L556.56 319.41L556.69 319.25L556.81 319.10L557.06 318.81L557.30 318.53L557.31 318.53L557.55 318.26L557.80 318.02L557.92 317.90L558.05 317.78L558.29 317.56L558.54 317.35L558.54 317.35L558.79 317.15L559.03 316.96L559.16 316.87L559.28 316.78L559.53 316.61L559.77 316.45L559.77 316.45L560.02 316.29L560.27 316.15L560.39 316.08L560.52 316.01L560.76 315.88L561.01 315.76L561.01 315.76L561.26 315.64L561.50 315.53L561.63 315.48L561.75 315.43L562.00 315.33L562.24 315.23L562.25 315.23L562.49 315.14L562.74 315.05L562.86 315.01L562.99 314.97L563.23 314.89L563.48 314.82L563.48 314.82L563.73 314.75L563.97 314.68L564.10 314.65L564.22 314.62L564.47 314.55L564.71 314.50L564.72 314.50L564.96 314.44L565.21 314.39L565.33 314.36L565.46 314.33L565.70 314.29L565.95 314.24L566.57 314.13L567.18 314.03L567.80 313.94L568.42 313.86L569.04 313.79L569.65 313.73L570.27 313.67L570.89 313.61L571.51 313.56L572.12 313.52L572.74 313.47L573.36 313.44L573.98 313.40L574.60 313.37L575.21 313.34L575.83 313.31L576.45 313.28L577.07 313.26L577.68 313.24L578.30 313.21" stroke="#ff0000" stroke-width="1.4" stroke-dasharray="2 4.5"/>
<path d="M331.30 484.55L331.92 484.55L332.54 484.54L333.15 484.52L333.77 484.49L334.39 484.46L335.00 484.42L335.62 484.37L336.24 484.32L336.86 484.26L337.48 484.18L338.09 484.10L338.71 484.02L339.33 483.92L339.94 483.82L340.56 483.70L341.18 483.58L341.80 483.44L342.42 483.30L343.03 483.14L343.65 482.98L344.27 482.80L344.88 482.61L345.50 482.41L346.12 482.20L346.74 481.97L347.36 481.73L347.97 481.47L348.59 481.20L349.21 480.92L349.82 480.62L350.44 480.30L351.06 479.97L351.68 479.62L352.30 479.25L352.91 478.86L353.53 478.45L354.15 478.02L354.76 477.58L355.38 477.11L356.00 476.61L356.62 476.10L357.24 475.56L357.85 475.00L358.47 474.42L359.09 473.81L359.71 473.17L360.32 472.50L360.94 471.81L361.56 471.09L362.18 470.34L362.79 469.56L363.41 468.75L364.03 467.90L364.64 467.03L365.26 466.12L365.88 465.18L366.50 464.21L367.12 463.20L367.73 462.16L368.35 461.08L368.97 459.97L369.59 458.82L370.20 457.63L370.82 456.41L371.44 455.15L372.06 453.85L372.67 452.51L373.29 451.13L373.91 449.71L374.53 448.25L375.14 446.75L375.76 445.21L376.38 443.64L377.00 442.02L377.61 440.36L378.23 438.66L378.85 436.92L379.47 435.14L380.08 433.33L380.70 431.47L381.32 429.57L381.94 427.64L382.55 425.66L383.17 423.65L383.79 421.60L384.41 419.52L385.02 417.40L385.64 415.25L386.26 413.06L386.88 410.84L387.49 408.60L388.11 406.32L388.73 404.01L389.35 401.68L389.96 399.32L390.58 396.93L391.20 394.53L391.81 392.11L392.43 389.67L393.05 387.21L393.67 384.75L394.29 382.27L394.90 379.78L395.52 377.29L396.14 374.79L396.75 372.30L397.37 369.81L397.99 367.32L398.61 364.85L399.23 362.39L399.84 359.94L400.46 357.52L401.08 355.11L401.69 352.74L402.31 350.39L402.93 348.09L403.55 345.82L404.17 343.59L404.78 341.41L405.40 339.28L405.52 338.86L405.65 338.44L405.77 338.03L405.89 337.62L406.02 337.21L406.02 337.21L406.14 336.80L406.26 336.39L406.39 335.99L406.51 335.59L406.63 335.19L406.64 335.19L406.76 334.79L406.88 334.40L407.01 334.01L407.13 333.62L407.25 333.24L407.25 333.24L407.38 332.85L407.50 332.48L407.62 332.10L407.75 331.72L407.87 331.35L407.87 331.35L407.99 330.98L408.12 330.62L408.24 330.25L408.36 329.89L408.49 329.54L408.49 329.54L408.61 329.18L408.73 328.83L408.86 328.48L408.98 328.14L409.11 327.80L409.11 327.80L409.23 327.46L409.35 327.12L409.48 326.79L409.60 326.46L409.72 326.14L409.72 326.14L409.85 325.81L409.97 325.50L410.09 325.18L410.22 324.87L410.34 324.56L410.34 324.56L410.46 324.25L410.59 323.95L410.71 323.65L410.83 323.36L410.96 323.06L410.96 323.06L411.08 322.78L411.20 322.49L411.33 322.21L411.45 321.93L411.58 321.66L411.58 321.66L411.70 321.39L411.82 321.12L411.95 320.86L412.07 320.60L412.19 320.34L412.19 320.34L412.32 320.09L412.44 319.84L412.56 319.59L412.69 319.35L412.81 319.11L412.81 319.11L412.93 318.88L413.06 318.64L413.18 318.41L413.30 318.18L413.43 317.97L413.43 317.97L413.55 317.75L413.67 317.54L413.80 317.34L413.92 317.14L414.05 316.94L414.05 316.94L414.17 316.75L414.29 316.56L414.42 316.38L414.54 316.20L414.66 316.02L414.66 316.02L414.79 315.85L414.91 315.69L415.03 315.52L415.16 315.37L415.28 315.21L415.28 315.21L415.40 315.07L415.53 314.92L415.65 314.79L415.77 314.65L415.90 314.52L415.90 314.52L416.02 314.40L416.14 314.28L416.27 314.17L416.39 314.06L416.51 313.95L416.52 313.95L416.64 313.85L416.76 313.76L416.89 313.67L417.01 313.58L417.13 313.50L417.13 313.50L417.26 313.43L417.38 313.36L417.50 313.29L417.63 313.23L417.75 313.17L417.75 313.17L417.87 313.12L418.00 313.08L418.12 313.04L418.24 313.01L418.37 312.98L418.37 312.98L418.49 312.95L418.61 312.93L418.74 312.92L418.86 312.91L418.99 312.91L418.99 312.91L419.11 312.91L419.23 312.92L419.36 312.93L419.48 312.95L419.60 312.97L419.60 312.97L419.73 313.00L419.85 313.04L419.97 313.08L420.10 313.12L420.22 313.17L420.84 313.51L421.46 313.99L422.07 314.61L422.69 315.37L423.31 316.27L423.93 317.32L424.54 318.52L425.16 319.86L425.78 321.34L426.39 322.97L427.01 324.75L427.63 326.66L428.25 328.73L428.87 330.93L429.48 333.27L430.10 335.74L430.72 338.35L431.34 341.09L431.95 343.96L432.57 346.95L433.19 350.06L433.81 353.28L434.42 356.62L435.04 360.05L435.66 363.59L436.27 367.22L436.89 370.93L437.51 374.72L438.13 378.59L438.75 382.52L439.36 386.50L439.98 390.54L440.60 394.61L441.22 398.71L441.83 402.84L442.45 406.98L443.07 411.12L443.69 415.26L444.30 419.38L444.92 423.47L445.54 427.53L446.16 431.54L446.77 435.49L447.39 439.38L448.01 443.19L448.62 446.91L449.24 450.53L449.86 454.04L450.48 457.44L451.10 460.70L451.71 463.82L452.33 466.80L452.95 469.61L453.56 472.26L454.18 474.73L454.80 477.01L455.42 479.10L456.04 480.99L456.65 482.67L457.27 484.14L457.89 485.38L458.50 486.39L459.12 487.17L459.74 487.72L460.36 488.02L460.98 488.07L461.59 487.88L462.21 487.44L462.83 486.75L463.45 485.81L464.06 484.61L464.68 483.17L465.30 481.47L465.92 479.54L466.53 477.36L467.15 474.94L467.77 472.30L468.38 469.42L469.00 466.33L469.62 463.03L470.24 459.53L470.86 455.83L471.47 451.94L472.09 447.89L472.71 443.67L473.33 439.31L473.94 434.81L474.56 430.19L475.18 425.46L475.80 420.63L476.41 415.73L477.03 410.77L477.65 405.76L478.26 400.72L478.88 395.66L479.50 390.61L480.12 385.58L480.74 380.59L481.35 375.65L481.97 370.79L482.59 366.02L483.21 361.35L483.82 356.82L484.44 352.42L485.06 348.18L485.68 344.11L486.29 340.24L486.91 336.57L487.53 333.12L488.14 329.91L488.76 326.94L489.38 324.22L490.00 321.77L490.62 319.61L491.23 317.73L491.85 316.16L492.47 314.89L493.09 313.93L493.70 313.29L494.32 312.97L494.94 312.98L495.56 313.32L496.17 313.98L496.79 314.97L497.41 316.28L498.02 317.92L498.64 319.87L499.26 322.14L499.88 324.70L500.50 327.56L501.11 330.71L501.73 334.13L502.35 337.81L502.97 341.75L503.58 345.91L504.20 350.30L504.82 354.88L505.44 359.65L506.05 364.59L506.67 369.68L507.29 374.89L507.90 380.22L508.52 385.63L509.14 391.10L509.76 396.62L510.38 402.16L510.99 407.70L511.61 413.22L512.23 418.69L512.85 424.09L513.46 429.40L514.08 434.60L514.70 439.66L515.32 444.57L515.93 449.31L516.55 453.85L517.17 458.17L517.79 462.26L518.40 466.10L519.02 469.68L519.64 472.97L520.25 475.96L520.87 478.65L521.49 481.02L522.11 483.06L522.73 484.75L523.34 486.11L523.96 487.11L524.58 487.75L525.20 488.04L525.81 487.96L526.43 487.53L527.05 486.74L527.66 485.60L528.28 484.11L528.90 482.27L529.52 480.11L530.13 477.62L530.75 474.83L531.37 471.73L531.99 468.35L532.61 464.70L533.22 460.81L533.84 456.67L534.46 452.33L535.08 447.78L535.69 443.07L536.31 438.20L536.93 433.20L537.55 428.10L538.16 422.91L538.78 417.65L539.40 412.37L540.01 407.06L540.63 401.77L541.25 396.51L541.50 394.42L541.74 392.34L541.87 391.31L541.99 390.28L542.24 388.22L542.48 386.18L542.49 386.18L542.73 384.16L542.98 382.15L543.10 381.16L543.23 380.17L543.47 378.20L543.72 376.25L543.72 376.25L543.97 374.33L544.21 372.43L544.34 371.49L544.46 370.55L544.71 368.70L544.95 366.88L544.96 366.88L545.20 365.08L545.45 363.32L545.57 362.45L545.70 361.58L545.94 359.88L546.19 358.21L546.19 358.21L546.44 356.57L546.68 354.96L546.81 354.17L546.93 353.39L547.18 351.85L547.42 350.35L547.42 350.35L547.67 348.88L547.92 347.45L548.04 346.75L548.17 346.06L548.41 344.70L548.66 343.38L548.66 343.38L548.91 342.10L549.15 340.86L549.28 340.25L549.40 339.65L549.65 338.49L549.89 337.36L549.89 337.36L550.14 336.27L550.39 335.21L550.51 334.70L550.64 334.20L550.88 333.22L551.13 332.28L551.13 332.28L551.38 331.37L551.62 330.50L551.75 330.08L551.87 329.67L552.12 328.87L552.36 328.10L552.37 328.10L552.61 327.37L552.86 326.67L552.98 326.33L553.11 326.00L553.35 325.36L553.60 324.75L553.60 324.75L553.85 324.17L554.09 323.62L554.22 323.35L554.34 323.09L554.59 322.59L554.83 322.11L554.84 322.11L555.08 321.66L555.33 321.24L555.45 321.03L555.58 320.83L555.82 320.45L556.07 320.08L556.07 320.08L556.32 319.73L556.56 319.41L556.69 319.25L556.81 319.10L557.06 318.80L557.30 318.53L557.31 318.53L557.55 318.26L557.80 318.01L557.92 317.89L558.05 317.78L558.29 317.56L558.54 317.34L558.54 317.34L558.79 317.14L559.03 316.95L559.16 316.86L559.28 316.78L559.53 316.61L559.77 316.45L559.77 316.45L560.02 316.29L560.27 316.15L560.39 316.08L560.52 316.01L560.76 315.88L561.01 315.76L561.01 315.76L561.26 315.64L561.50 315.53L561.63 315.48L561.75 315.43L562.00 315.32L562.24 315.23L562.25 315.23L562.49 315.14L562.74 315.05L562.86 315.01L562.99 314.97L563.23 314.89L563.48 314.82L563.48 314.82L563.73 314.75L563.97 314.68L564.10 314.65L564.22 314.62L564.47 314.55L564.71 314.50L564.72 314.50L564.96 314.44L565.21 314.39L565.33 314.36L565.46 314.33L565.70 314.29L565.95 314.24L566.57 314.13L567.18 314.03L567.80 313.94L568.42 313.86L569.04 313.79L569.65 313.73L570.27 313.67L570.89 313.61L571.51 313.56L572.12 313.52L572.74 313.47L573.36 313.44L573.98 313.40L574.60 313.37L575.21 313.34L575.83 313.31L576.45 313.28L577.07 313.26L577.68 313.24L578.30 313.21" stroke="#0000ff" stroke-width="1.2" stroke-dasharray="11 8.5"/>
<path d="M331.30 498.74L331.92 498.74L332.54 498.72L333.15 498.70L333.77 498.68L334.39 498.64L335.00 498.60L335.62 498.55L336.24 498.49L336.86 498.42L337.48 498.34L338.09 498.26L338.71 498.16L339.33 498.06L339.94 497.94L340.56 497.82L341.18 497.68L341.80 497.54L342.42 497.38L343.03 497.21L343.65 497.03L344.27 496.84L344.88 496.63L345.50 496.42L346.12 496.18L346.74 495.94L347.36 495.68L347.97 495.40L348.59 495.11L349.21 494.80L349.82 494.47L350.44 494.13L351.06 493.76L351.68 493.38L352.30 492.98L352.91 492.56L353.53 492.12L354.15 491.65L354.76 491.16L355.38 490.65L356.00 490.12L356.62 489.56L357.24 488.98L357.85 488.37L358.47 487.73L359.09 487.07L359.71 486.37L360.32 485.65L360.94 484.90L361.56 484.12L362.18 483.30L362.79 482.46L363.41 481.58L364.03 480.67L364.64 479.72L365.26 478.74L365.88 477.72L366.50 476.67L367.12 475.57L367.73 474.45L368.35 473.28L368.97 472.07L369.59 470.83L370.20 469.54L370.82 468.22L371.44 466.85L372.06 465.45L372.67 464.00L373.29 462.50L373.91 460.97L374.53 459.39L375.14 457.78L375.76 456.11L376.38 454.41L377.00 452.66L377.61 450.86L378.23 449.03L378.85 447.15L379.47 445.23L380.08 443.26L380.70 441.26L381.32 439.21L381.94 437.12L382.55 434.98L383.17 432.81L383.79 430.60L384.41 428.35L385.02 426.06L385.64 423.73L386.26 421.37L386.88 418.97L387.49 416.54L388.11 414.07L388.73 411.58L389.35 409.06L389.96 406.50L390.58 403.93L391.20 401.33L391.81 398.71L392.43 396.07L393.05 393.41L393.67 390.74L394.29 388.05L394.90 385.36L395.52 382.66L396.14 379.96L396.75 377.25L397.37 374.55L397.99 371.86L398.61 369.18L399.23 366.51L399.84 363.86L400.46 361.23L401.08 358.62L401.69 356.05L402.31 353.51L402.93 351.00L403.55 348.54L404.17 346.13L404.78 343.77L405.40 341.46L405.52 341.01L405.65 340.55L405.77 340.11L405.89 339.66L406.02 339.21L406.02 339.21L406.14 338.77L406.26 338.33L406.39 337.90L406.51 337.46L406.63 337.03L406.64 337.03L406.76 336.60L406.88 336.18L407.01 335.76L407.13 335.34L407.25 334.92L407.25 334.92L407.38 334.51L407.50 334.10L407.62 333.69L407.75 333.28L407.87 332.88L407.87 332.88L407.99 332.48L408.12 332.09L408.24 331.69L408.36 331.31L408.49 330.92L408.49 330.92L408.61 330.54L408.73 330.16L408.86 329.78L408.98 329.41L409.11 329.04L409.11 329.04L409.23 328.68L409.35 328.31L409.48 327.96L409.60 327.60L409.72 327.25L409.72 327.25L409.85 326.90L409.97 326.56L410.09 326.22L410.22 325.88L410.34 325.55L410.34 325.55L410.46 325.21L410.59 324.89L410.71 324.57L410.83 324.25L410.96 323.93L410.96 323.93L411.08 323.62L411.20 323.32L411.33 323.01L411.45 322.71L411.58 322.42L411.58 322.42L411.70 322.13L411.82 321.84L411.95 321.56L412.07 321.28L412.19 321.00L412.19 321.00L412.32 320.73L412.44 320.46L412.56 320.19L412.69 319.93L412.81 319.67L412.81 319.67L412.93 319.42L413.06 319.16L413.18 318.91L413.30 318.67L413.43 318.43L413.43 318.43L413.55 318.20L413.67 317.97L413.80 317.75L413.92 317.53L414.05 317.32L414.05 317.32L414.17 317.11L414.29 316.91L414.42 316.71L414.54 316.52L414.66 316.33L414.66 316.33L414.79 316.14L414.91 315.96L415.03 315.79L415.16 315.62L415.28 315.45L415.28 315.45L415.40 315.29L415.53 315.14L415.65 314.99L415.77 314.85L415.90 314.71L415.90 314.71L416.02 314.57L416.14 314.44L416.27 314.32L416.39 314.20L416.51 314.09L416.52 314.09L416.64 313.98L416.76 313.88L416.89 313.78L417.01 313.69L417.13 313.60L417.13 313.60L417.26 313.52L417.38 313.44L417.50 313.37L417.63 313.31L417.75 313.25L417.75 313.25L417.87 313.20L418.00 313.15L418.12 313.10L418.24 313.07L418.37 313.04L418.37 313.04L418.49 313.01L418.61 312.99L418.74 312.97L418.86 312.97L418.99 312.96L418.99 312.96L419.11 312.96L419.23 312.97L419.36 312.99L419.48 313.01L419.60 313.03L419.60 313.03L419.73 313.07L419.85 313.10L419.97 313.15L420.10 313.20L420.22 313.25L420.84 313.62L421.46 314.13L422.07 314.80L422.69 315.63L423.31 316.61L423.93 317.74L424.54 319.03L425.16 320.48L425.78 322.09L426.39 323.85L427.01 325.78L427.63 327.85L428.25 330.08L428.87 332.46L429.48 334.99L430.10 337.67L430.72 340.50L431.34 343.46L431.95 346.57L432.57 349.80L433.19 353.17L433.81 356.66L434.42 360.26L435.04 363.98L435.66 367.81L436.27 371.73L436.89 375.75L437.51 379.85L438.13 384.04L438.75 388.29L439.36 392.60L439.98 396.96L440.60 401.37L441.22 405.81L441.83 410.27L442.45 414.75L443.07 419.24L443.69 423.71L444.30 428.17L444.92 432.60L445.54 436.99L446.16 441.33L446.77 445.61L447.39 449.81L448.01 453.93L448.62 457.96L449.24 461.87L449.86 465.67L450.48 469.35L451.10 472.88L451.71 476.25L452.33 479.47L452.95 482.52L453.56 485.38L454.18 488.05L454.80 490.53L455.42 492.79L456.04 494.83L456.65 496.65L457.27 498.23L457.89 499.58L458.50 500.67L459.12 501.52L459.74 502.10L460.36 502.43L460.98 502.49L461.59 502.28L462.21 501.80L462.83 501.05L463.45 500.03L464.06 498.74L464.68 497.18L465.30 495.35L465.92 493.25L466.53 490.89L467.15 488.28L467.77 485.41L468.38 482.31L469.00 478.96L469.62 475.39L470.24 471.59L470.86 467.59L471.47 463.39L472.09 459.00L472.71 454.44L473.33 449.72L473.94 444.85L474.56 439.85L475.18 434.73L475.80 429.51L476.41 424.21L477.03 418.83L477.65 413.41L478.26 407.96L478.88 402.49L479.50 397.02L480.12 391.58L480.74 386.18L481.35 380.84L481.97 375.58L482.59 370.42L483.21 365.37L483.82 360.46L484.44 355.70L485.06 351.11L485.68 346.72L486.29 342.53L486.91 338.56L487.53 334.83L488.14 331.36L488.76 328.14L489.38 325.20L490.00 322.56L490.62 320.21L491.23 318.18L491.85 316.48L492.47 315.11L493.09 314.07L493.70 313.38L494.32 313.04L494.94 313.05L495.56 313.41L496.17 314.13L496.79 315.20L497.41 316.63L498.02 318.40L498.64 320.51L499.26 322.96L499.88 325.74L500.50 328.84L501.11 332.24L501.73 335.94L502.35 339.93L502.97 344.19L503.58 348.70L504.20 353.44L504.82 358.40L505.44 363.57L506.05 368.91L506.67 374.42L507.29 380.06L507.90 385.82L508.52 391.67L509.14 397.60L509.76 403.57L510.38 409.57L510.99 415.56L511.61 421.53L512.23 427.45L512.85 433.29L513.46 439.04L514.08 444.67L514.70 450.15L515.32 455.46L515.93 460.58L516.55 465.50L517.17 470.17L517.79 474.60L518.40 478.76L519.02 482.62L519.64 486.18L520.25 489.43L520.87 492.33L521.49 494.89L522.11 497.10L522.73 498.94L523.34 500.40L523.96 501.48L524.58 502.18L525.20 502.48L525.81 502.40L526.43 501.93L527.05 501.08L527.66 499.84L528.28 498.22L528.90 496.24L529.52 493.90L530.13 491.20L530.75 488.18L531.37 484.83L531.99 481.17L532.61 477.22L533.22 473.00L533.84 468.53L534.46 463.82L535.08 458.90L535.69 453.80L536.31 448.53L536.93 443.12L537.55 437.59L538.16 431.98L538.78 426.29L539.40 420.57L540.01 414.83L540.63 409.10L541.25 403.41L541.50 401.15L541.74 398.90L541.87 397.78L541.99 396.66L542.24 394.43L542.48 392.23L542.49 392.23L542.73 390.04L542.98 387.87L543.10 386.79L543.23 385.72L543.47 383.59L543.72 381.48L543.72 381.48L543.97 379.40L544.21 377.34L544.34 376.32L544.46 375.31L544.71 373.31L544.95 371.33L544.96 371.33L545.20 369.39L545.45 367.48L545.57 366.54L545.70 365.60L545.94 363.76L546.19 361.95L546.19 361.95L546.44 360.17L546.68 358.43L546.81 357.58L546.93 356.73L547.18 355.07L547.42 353.44L547.42 353.44L547.67 351.85L547.92 350.30L548.04 349.55L548.17 348.80L548.41 347.33L548.66 345.90L548.66 345.90L548.91 344.52L549.15 343.17L549.28 342.51L549.40 341.87L549.65 340.60L549.89 339.38L549.89 339.38L550.14 338.20L550.39 337.06L550.51 336.51L550.64 335.96L550.88 334.90L551.13 333.88L551.13 333.88L551.38 332.90L551.62 331.96L551.75 331.51L551.87 331.06L552.12 330.19L552.36 329.36L552.37 329.36L552.61 328.57L552.86 327.81L552.98 327.44L553.11 327.09L553.35 326.39L553.60 325.73L553.60 325.73L553.85 325.11L554.09 324.51L554.22 324.22L554.34 323.94L554.59 323.40L554.83 322.88L554.84 322.88L555.08 322.40L555.33 321.93L555.45 321.71L555.58 321.49L555.82 321.08L556.07 320.68L556.07 320.68L556.32 320.31L556.56 319.95L556.69 319.78L556.81 319.62L557.06 319.30L557.30 319.00L557.31 319.00L557.55 318.72L557.80 318.45L557.92 318.32L558.05 318.19L558.29 317.95L558.54 317.72L558.54 317.72L558.79 317.50L559.03 317.30L559.16 317.20L559.28 317.11L559.53 316.92L559.77 316.75L559.77 316.75L560.02 316.58L560.27 316.43L560.39 316.35L560.52 316.28L560.76 316.14L561.01 316.00L561.01 316.00L561.26 315.88L561.50 315.76L561.63 315.70L561.75 315.64L562.00 315.54L562.24 315.43L562.25 315.43L562.49 315.33L562.74 315.24L562.86 315.20L562.99 315.15L563.23 315.07L563.48 314.99L563.48 314.99L563.73 314.91L563.97 314.84L564.10 314.80L564.22 314.77L564.47 314.70L564.71 314.64L564.72 314.64L564.96 314.58L565.21 314.52L565.33 314.49L565.46 314.46L565.70 314.41L565.95 314.36L566.57 314.24L567.18 314.14L567.80 314.04L568.42 313.95L569.04 313.88L569.65 313.80L570.27 313.74L570.89 313.68L571.51 313.63L572.12 313.58L572.74 313.53L573.36 313.49L573.98 313.45L574.60 313.42L575.21 313.38L575.83 313.35L576.45 313.32L577.07 313.30L577.68 313.27L578.30 313.25" stroke="#000" stroke-width="1.15"/>
</g>
<g clip-path="url(#c21)" fill="none" stroke-linejoin="round">
<path d="M578.30 388.10L578.92 388.09L579.53 388.07L580.15 388.04L580.77 387.99L581.39 387.94L582.00 387.87L582.62 387.78L583.24 387.69L583.86 387.58L584.47 387.46L585.09 387.33L585.71 387.18L586.33 387.02L586.94 386.85L587.56 386.66L588.18 386.47L588.80 386.26L589.41 386.04L590.03 385.80L590.65 385.55L591.27 385.29L591.88 385.02L592.50 384.74L593.12 384.44L593.74 384.13L594.35 383.81L594.97 383.47L595.59 383.13L596.21 382.77L596.82 382.40L597.44 382.01L598.06 381.62L598.68 381.21L599.29 380.79L599.91 380.36L600.53 379.92L601.15 379.46L601.76 378.99L602.38 378.51L603.00 378.02L603.62 377.52L604.23 377.01L604.85 376.48L605.47 375.95L606.09 375.40L606.70 374.84L607.32 374.28L607.94 373.70L608.56 373.11L609.17 372.51L609.79 371.90L610.41 371.28L611.03 370.65L611.64 370.01L612.26 369.36L612.88 368.70L613.50 368.03L614.12 367.36L614.73 366.67L615.35 365.97L615.97 365.27L616.58 364.56L617.20 363.84L617.82 363.11L618.44 362.37L619.05 361.63L619.67 360.88L620.29 360.12L620.91 359.35L621.52 358.58L622.14 357.80L622.76 357.02L623.38 356.23L624.00 355.43L624.61 354.63L625.23 353.83L625.85 353.02L626.46 352.21L627.08 351.39L627.70 350.57L628.32 349.74L628.93 348.92L629.55 348.09L630.17 347.25L630.79 346.42L631.40 345.58L632.02 344.75L632.64 343.91L633.26 343.07L633.88 342.23L634.49 341.40L635.11 340.56L635.73 339.73L636.34 338.89L636.96 338.06L637.58 337.23L638.20 336.41L638.81 335.58L639.43 334.77L640.05 333.95L640.67 333.15L641.28 332.34L641.90 331.55L642.52 330.76L643.14 329.98L643.75 329.21L644.37 328.44L644.99 327.69L645.61 326.94L646.22 326.21L646.84 325.49L647.46 324.78L648.08 324.08L648.69 323.40L649.31 322.73L649.93 322.08L650.55 321.44L651.16 320.83L651.78 320.22L652.40 319.64L652.52 319.53L652.65 319.42L652.77 319.30L652.89 319.19L653.02 319.08L653.02 319.08L653.14 318.97L653.26 318.86L653.39 318.75L653.51 318.64L653.63 318.54L653.63 318.54L653.76 318.43L653.88 318.33L654.01 318.22L654.13 318.12L654.25 318.02L654.25 318.02L654.38 317.92L654.50 317.81L654.62 317.71L654.75 317.62L654.87 317.52L654.87 317.52L654.99 317.42L655.12 317.32L655.24 317.23L655.36 317.13L655.49 317.04L655.49 317.04L655.61 316.95L655.73 316.86L655.86 316.77L655.98 316.68L656.11 316.59L656.11 316.59L656.23 316.50L656.35 316.41L656.48 316.33L656.60 316.24L656.72 316.16L656.72 316.16L656.85 316.07L656.97 315.99L657.09 315.91L657.22 315.83L657.34 315.75L657.34 315.75L657.46 315.67L657.59 315.60L657.71 315.52L657.83 315.45L657.96 315.37L657.96 315.37L658.08 315.30L658.20 315.23L658.33 315.15L658.45 315.08L658.57 315.01L658.58 315.01L658.70 314.95L658.82 314.88L658.95 314.81L659.07 314.75L659.19 314.68L659.19 314.68L659.32 314.62L659.44 314.56L659.56 314.50L659.69 314.43L659.81 314.37L659.81 314.37L659.93 314.32L660.06 314.25L660.18 314.20L660.30 314.14L660.43 314.08L660.43 314.08L660.55 314.03L660.67 313.98L660.80 313.93L660.92 313.88L661.04 313.83L661.05 313.83L661.17 313.78L661.29 313.73L661.42 313.69L661.54 313.64L661.66 313.60L661.66 313.60L661.79 313.55L661.91 313.51L662.03 313.47L662.16 313.43L662.28 313.40L662.28 313.40L662.40 313.36L662.53 313.32L662.65 313.29L662.77 313.26L662.90 313.22L662.90 313.22L663.02 313.19L663.14 313.16L663.27 313.14L663.39 313.11L663.51 313.08L663.52 313.08L663.64 313.06L663.76 313.03L663.89 313.01L664.01 312.99L664.13 312.97L664.13 312.97L664.26 312.95L664.38 312.94L664.50 312.92L664.63 312.90L664.75 312.89L664.75 312.89L664.87 312.88L665.00 312.87L665.12 312.86L665.24 312.85L665.37 312.84L665.37 312.84L665.49 312.84L665.61 312.83L665.74 312.83L665.86 312.83L665.98 312.83L665.99 312.83L666.11 312.83L666.23 312.83L666.36 312.84L666.48 312.84L666.60 312.85L666.60 312.85L666.73 312.85L666.85 312.86L666.97 312.87L667.10 312.89L667.22 312.90L667.84 312.99L668.45 313.11L669.07 313.26L669.69 313.46L670.31 313.69L670.92 313.95L671.54 314.26L672.16 314.60L672.78 314.98L673.39 315.40L674.01 315.86L674.63 316.36L675.25 316.90L675.87 317.48L676.48 318.11L677.10 318.77L677.72 319.47L678.33 320.22L678.95 321.01L679.57 321.84L680.19 322.71L680.80 323.62L681.42 324.58L682.04 325.58L682.66 326.62L683.27 327.71L683.89 328.84L684.51 330.01L685.13 331.22L685.74 332.47L686.36 333.77L686.98 335.11L687.60 336.49L688.21 337.91L688.83 339.37L689.45 340.87L690.07 342.42L690.68 344.00L691.30 345.62L691.92 347.28L692.54 348.98L693.15 350.72L693.77 352.49L694.39 354.30L695.01 356.14L695.62 358.02L696.24 359.93L696.86 361.87L697.48 363.85L698.09 365.85L698.71 367.89L699.33 369.95L699.95 372.04L700.56 374.16L701.18 376.30L701.80 378.47L702.42 380.66L703.03 382.87L703.65 385.09L704.27 387.34L704.89 389.61L705.50 391.89L706.12 394.18L706.74 396.48L707.36 398.80L707.97 401.13L708.59 403.46L709.21 405.80L709.83 408.14L710.44 410.48L711.06 412.83L711.68 415.17L712.30 417.51L712.91 419.84L713.53 422.17L714.15 424.48L714.77 426.79L715.38 429.08L716.00 431.36L716.62 433.62L717.24 435.87L717.86 438.09L718.47 440.28L719.09 442.46L719.71 444.60L720.32 446.72L720.94 448.81L721.56 450.86L722.18 452.88L722.79 454.86L723.41 456.80L724.03 458.70L724.65 460.55L725.26 462.37L725.88 464.13L726.50 465.85L727.12 467.51L727.73 469.12L728.35 470.68L728.97 472.18L729.59 473.63L730.20 475.01L730.82 476.34L731.44 477.60L732.06 478.79L732.67 479.92L733.29 480.99L733.91 481.98L734.53 482.90L735.14 483.76L735.76 484.53L736.38 485.24L737.00 485.87L737.62 486.42L738.23 486.90L738.85 487.30L739.47 487.62L740.08 487.86L740.70 488.02L741.32 488.10L741.94 488.09L742.55 488.01L743.17 487.84L743.79 487.59L744.41 487.26L745.02 486.85L745.64 486.35L746.26 485.77L746.88 485.10L747.49 484.36L748.11 483.53L748.73 482.62L749.35 481.64L749.96 480.57L750.58 479.42L751.20 478.19L751.82 476.88L752.43 475.50L753.05 474.04L753.67 472.51L754.29 470.90L754.90 469.23L755.52 467.48L756.14 465.66L756.76 463.78L757.38 461.83L757.99 459.81L758.61 457.74L759.23 455.61L759.84 453.41L760.46 451.17L761.08 448.87L761.70 446.51L762.31 444.11L762.93 441.67L763.55 439.18L764.17 436.65L764.78 434.08L765.40 431.47L766.02 428.83L766.64 426.16L767.25 423.47L767.87 420.75L768.49 418.01L769.11 415.24L769.72 412.47L770.34 409.68L770.96 406.88L771.58 404.08L772.19 401.27L772.81 398.46L773.43 395.65L774.05 392.85L774.66 390.06L775.28 387.28L775.90 384.52L776.52 381.78L777.13 379.05L777.75 376.36L778.37 373.69L778.99 371.05L779.61 368.44L780.22 365.87L780.84 363.34L781.46 360.86L782.07 358.42L782.69 356.03L783.31 353.68L783.93 351.40L784.54 349.16L785.16 346.99L785.78 344.88L786.40 342.83L787.01 340.85L787.63 338.93L788.25 337.08L788.50 336.36L788.74 335.66L788.87 335.31L788.99 334.96L789.24 334.28L789.48 333.60L789.48 333.60L789.73 332.94L789.98 332.29L790.10 331.97L790.23 331.66L790.47 331.03L790.72 330.42L790.72 330.42L790.97 329.82L791.21 329.23L791.34 328.95L791.46 328.66L791.71 328.10L791.95 327.55L791.95 327.55L792.20 327.01L792.45 326.48L792.57 326.22L792.70 325.97L792.94 325.47L793.19 324.98L793.19 324.98L793.44 324.51L793.68 324.04L793.81 323.82L793.93 323.59L794.18 323.16L794.42 322.73L794.42 322.73L794.67 322.32L794.92 321.92L795.04 321.72L795.17 321.53L795.41 321.16L795.66 320.79L795.66 320.79L795.91 320.44L796.15 320.10L796.28 319.93L796.40 319.77L796.65 319.46L796.89 319.15L796.89 319.15L797.14 318.86L797.39 318.57L797.51 318.44L797.64 318.30L797.88 318.04L798.13 317.79L798.13 317.79L798.38 317.55L798.62 317.32L798.75 317.21L798.87 317.10L799.12 316.89L799.36 316.69L799.37 316.69L799.61 316.50L799.86 316.32L799.98 316.23L800.11 316.14L800.35 315.98L800.60 315.82L800.60 315.82L800.85 315.67L801.09 315.52L801.22 315.46L801.34 315.39L801.59 315.26L801.83 315.14L801.83 315.14L802.08 315.02L802.33 314.91L802.45 314.86L802.58 314.81L802.82 314.71L803.07 314.62L803.07 314.62L803.32 314.53L803.56 314.45L803.69 314.41L803.81 314.37L804.06 314.29L804.30 314.22L804.30 314.22L804.55 314.15L804.80 314.09L804.92 314.06L805.05 314.03L805.29 313.97L805.54 313.92L805.54 313.92L805.79 313.87L806.03 313.82L806.16 313.80L806.28 313.78L806.53 313.73L806.77 313.69L806.77 313.69L807.02 313.65L807.27 313.62L807.39 313.60L807.52 313.58L807.76 313.55L808.01 313.52L808.01 313.52L808.26 313.49L808.50 313.46L808.63 313.45L808.75 313.44L809.00 313.41L809.24 313.39L809.24 313.39L809.49 313.36L809.74 313.34L809.86 313.33L809.99 313.32L810.23 313.30L810.48 313.28L810.48 313.28L810.73 313.27L810.97 313.25L811.10 313.24L811.22 313.23L811.47 313.22L811.71 313.20L811.71 313.20L811.96 313.19L812.21 313.17L812.33 313.17L812.46 313.16L812.70 313.15L812.95 313.14L813.57 313.11L814.18 313.09L814.80 313.06L815.42 313.04L816.04 313.03L816.65 313.01L817.27 312.99L817.89 312.98L818.51 312.97L819.12 312.96L819.74 312.95L820.36 312.94L820.98 312.93L821.59 312.92L822.21 312.91L822.83 312.90L823.45 312.90L824.06 312.89L824.68 312.89L825.30 312.88" stroke="#ff0000" stroke-width="1.4" stroke-dasharray="2 4.5"/>
<path d="M578.30 388.05L578.92 388.05L579.53 388.03L580.15 388.00L580.77 387.95L581.39 387.89L582.00 387.82L582.62 387.74L583.24 387.65L583.86 387.54L584.47 387.42L585.09 387.28L585.71 387.14L586.33 386.98L586.94 386.81L587.56 386.62L588.18 386.43L588.80 386.22L589.41 386.00L590.03 385.76L590.65 385.51L591.27 385.26L591.88 384.98L592.50 384.70L593.12 384.40L593.74 384.09L594.35 383.77L594.97 383.44L595.59 383.09L596.21 382.73L596.82 382.36L597.44 381.98L598.06 381.59L598.68 381.18L599.29 380.76L599.91 380.33L600.53 379.89L601.15 379.43L601.76 378.97L602.38 378.49L603.00 378.00L603.62 377.50L604.23 376.99L604.85 376.47L605.47 375.93L606.09 375.39L606.70 374.83L607.32 374.26L607.94 373.69L608.56 373.10L609.17 372.50L609.79 371.89L610.41 371.27L611.03 370.64L611.64 370.01L612.26 369.36L612.88 368.70L613.50 368.03L614.12 367.35L614.73 366.67L615.35 365.97L615.97 365.27L616.58 364.56L617.20 363.84L617.82 363.11L618.44 362.37L619.05 361.63L619.67 360.87L620.29 360.12L620.91 359.35L621.52 358.58L622.14 357.80L622.76 357.01L623.38 356.22L624.00 355.43L624.61 354.63L625.23 353.82L625.85 353.01L626.46 352.19L627.08 351.37L627.70 350.55L628.32 349.73L628.93 348.90L629.55 348.06L630.17 347.23L630.79 346.39L631.40 345.56L632.02 344.72L632.64 343.88L633.26 343.04L633.88 342.20L634.49 341.36L635.11 340.52L635.73 339.68L636.34 338.85L636.96 338.02L637.58 337.19L638.20 336.36L638.81 335.54L639.43 334.72L640.05 333.91L640.67 333.10L641.28 332.30L641.90 331.50L642.52 330.72L643.14 329.94L643.75 329.17L644.37 328.41L644.99 327.65L645.61 326.91L646.22 326.18L646.84 325.46L647.46 324.76L648.08 324.06L648.69 323.38L649.31 322.72L649.93 322.07L650.55 321.44L651.16 320.82L651.78 320.22L652.40 319.64L652.52 319.53L652.65 319.41L652.77 319.30L652.89 319.19L653.02 319.08L653.02 319.08L653.14 318.97L653.26 318.86L653.39 318.75L653.51 318.64L653.63 318.54L653.63 318.54L653.76 318.43L653.88 318.33L654.01 318.22L654.13 318.12L654.25 318.02L654.25 318.02L654.38 317.92L654.50 317.81L654.62 317.71L654.75 317.62L654.87 317.52L654.87 317.52L654.99 317.42L655.12 317.32L655.24 317.23L655.36 317.13L655.49 317.04L655.49 317.04L655.61 316.95L655.73 316.85L655.86 316.76L655.98 316.67L656.11 316.58L656.11 316.58L656.23 316.49L656.35 316.41L656.48 316.32L656.60 316.24L656.72 316.15L656.72 316.15L656.85 316.07L656.97 315.98L657.09 315.90L657.22 315.82L657.34 315.74L657.34 315.74L657.46 315.66L657.59 315.58L657.71 315.51L657.83 315.43L657.96 315.36L657.96 315.36L658.08 315.28L658.20 315.21L658.33 315.14L658.45 315.07L658.57 315.00L658.58 315.00L658.70 314.93L658.82 314.86L658.95 314.79L659.07 314.73L659.19 314.66L659.19 314.66L659.32 314.60L659.44 314.54L659.56 314.47L659.69 314.41L659.81 314.35L659.81 314.35L659.93 314.29L660.06 314.23L660.18 314.17L660.30 314.12L660.43 314.06L660.43 314.06L660.55 314.01L660.67 313.96L660.80 313.90L660.92 313.85L661.04 313.80L661.05 313.80L661.17 313.76L661.29 313.71L661.42 313.66L661.54 313.62L661.66 313.57L661.66 313.57L661.79 313.53L661.91 313.49L662.03 313.45L662.16 313.41L662.28 313.37L662.28 313.37L662.40 313.34L662.53 313.30L662.65 313.27L662.77 313.23L662.90 313.20L662.90 313.20L663.02 313.17L663.14 313.14L663.27 313.11L663.39 313.08L663.51 313.06L663.52 313.06L663.64 313.03L663.76 313.01L663.89 312.99L664.01 312.97L664.13 312.95L664.13 312.95L664.26 312.93L664.38 312.91L664.50 312.89L664.63 312.88L664.75 312.87L664.75 312.87L664.87 312.85L665.00 312.84L665.12 312.83L665.24 312.83L665.37 312.82L665.37 312.82L665.49 312.81L665.61 312.81L665.74 312.81L665.86 312.80L665.98 312.80L665.99 312.80L666.11 312.80L666.23 312.81L666.36 312.81L666.48 312.81L666.60 312.82L666.60 312.82L666.73 312.83L666.85 312.84L666.97 312.85L667.10 312.86L667.22 312.87L667.84 312.96L668.45 313.08L669.07 313.24L669.69 313.43L670.31 313.66L670.92 313.93L671.54 314.23L672.16 314.57L672.78 314.96L673.39 315.38L674.01 315.84L674.63 316.34L675.25 316.88L675.87 317.46L676.48 318.08L677.10 318.74L677.72 319.45L678.33 320.19L678.95 320.98L679.57 321.81L680.19 322.68L680.80 323.60L681.42 324.56L682.04 325.56L682.66 326.60L683.27 327.68L683.89 328.81L684.51 329.98L685.13 331.20L685.74 332.45L686.36 333.75L686.98 335.09L687.60 336.47L688.21 337.89L688.83 339.35L689.45 340.86L690.07 342.40L690.68 343.98L691.30 345.60L691.92 347.27L692.54 348.96L693.15 350.70L693.77 352.47L694.39 354.28L695.01 356.13L695.62 358.00L696.24 359.92L696.86 361.86L697.48 363.84L698.09 365.84L698.71 367.88L699.33 369.94L699.95 372.03L700.56 374.15L701.18 376.29L701.80 378.46L702.42 380.65L703.03 382.86L703.65 385.09L704.27 387.34L704.89 389.60L705.50 391.88L706.12 394.18L706.74 396.48L707.36 398.80L707.97 401.12L708.59 403.46L709.21 405.80L709.83 408.14L710.44 410.48L711.06 412.83L711.68 415.17L712.30 417.51L712.91 419.84L713.53 422.17L714.15 424.48L714.77 426.79L715.38 429.08L716.00 431.36L716.62 433.62L717.24 435.86L717.86 438.09L718.47 440.28L719.09 442.46L719.71 444.60L720.32 446.72L720.94 448.80L721.56 450.86L722.18 452.87L722.79 454.85L723.41 456.79L724.03 458.69L724.65 460.55L725.26 462.36L725.88 464.12L726.50 465.84L727.12 467.50L727.73 469.11L728.35 470.67L728.97 472.17L729.59 473.62L730.20 475.00L730.82 476.32L731.44 477.58L732.06 478.78L732.67 479.91L733.29 480.97L733.91 481.96L734.53 482.88L735.14 483.73L735.76 484.51L736.38 485.21L737.00 485.84L737.62 486.40L738.23 486.87L738.85 487.27L739.47 487.59L740.08 487.83L740.70 487.99L741.32 488.07L741.94 488.06L742.55 487.98L743.17 487.81L743.79 487.56L744.41 487.23L745.02 486.81L745.64 486.31L746.26 485.73L746.88 485.07L747.49 484.32L748.11 483.50L748.73 482.59L749.35 481.60L749.96 480.53L750.58 479.38L751.20 478.15L751.82 476.85L752.43 475.46L753.05 474.00L753.67 472.47L754.29 470.87L754.90 469.19L755.52 467.44L756.14 465.62L756.76 463.74L757.38 461.79L757.99 459.78L758.61 457.71L759.23 455.57L759.84 453.38L760.46 451.13L761.08 448.83L761.70 446.48L762.31 444.08L762.93 441.64L763.55 439.15L764.17 436.62L764.78 434.05L765.40 431.44L766.02 428.80L766.64 426.14L767.25 423.44L767.87 420.72L768.49 417.98L769.11 415.22L769.72 412.44L770.34 409.65L770.96 406.86L771.58 404.05L772.19 401.24L772.81 398.44L773.43 395.63L774.05 392.83L774.66 390.04L775.28 387.26L775.90 384.50L776.52 381.76L777.13 379.04L777.75 376.34L778.37 373.67L778.99 371.03L779.61 368.43L780.22 365.86L780.84 363.33L781.46 360.85L782.07 358.41L782.69 356.01L783.31 353.67L783.93 351.39L784.54 349.15L785.16 346.98L785.78 344.87L786.40 342.82L787.01 340.84L787.63 338.92L788.25 337.08L788.50 336.36L788.74 335.65L788.87 335.30L788.99 334.95L789.24 334.27L789.48 333.60L789.48 333.60L789.73 332.94L789.98 332.29L790.10 331.97L790.23 331.65L790.47 331.03L790.72 330.42L790.72 330.42L790.97 329.82L791.21 329.23L791.34 328.94L791.46 328.65L791.71 328.09L791.95 327.54L791.95 327.54L792.20 327.00L792.45 326.48L792.57 326.22L792.70 325.97L792.94 325.47L793.19 324.98L793.19 324.98L793.44 324.50L793.68 324.04L793.81 323.82L793.93 323.59L794.18 323.15L794.42 322.73L794.42 322.73L794.67 322.32L794.92 321.92L795.04 321.72L795.17 321.53L795.41 321.15L795.66 320.79L795.66 320.79L795.91 320.44L796.15 320.10L796.28 319.93L796.40 319.77L796.65 319.45L796.89 319.15L796.89 319.15L797.14 318.86L797.39 318.57L797.51 318.44L797.64 318.30L797.88 318.04L798.13 317.79L798.13 317.79L798.38 317.55L798.62 317.32L798.75 317.21L798.87 317.10L799.12 316.89L799.36 316.69L799.37 316.69L799.61 316.50L799.86 316.32L799.98 316.23L800.11 316.14L800.35 315.98L800.60 315.82L800.60 315.82L800.85 315.67L801.09 315.52L801.22 315.46L801.34 315.39L801.59 315.26L801.83 315.14L801.83 315.14L802.08 315.02L802.33 314.91L802.45 314.86L802.58 314.81L802.82 314.71L803.07 314.62L803.07 314.62L803.32 314.53L803.56 314.44L803.69 314.40L803.81 314.37L804.06 314.29L804.30 314.22L804.30 314.22L804.55 314.15L804.80 314.09L804.92 314.06L805.05 314.03L805.29 313.97L805.54 313.92L805.54 313.92L805.79 313.87L806.03 313.82L806.16 313.80L806.28 313.78L806.53 313.73L806.77 313.69L806.77 313.69L807.02 313.65L807.27 313.62L807.39 313.60L807.52 313.58L807.76 313.55L808.01 313.52L808.01 313.52L808.26 313.49L808.50 313.46L808.63 313.45L808.75 313.44L809.00 313.41L809.24 313.39L809.24 313.39L809.49 313.36L809.74 313.34L809.86 313.33L809.99 313.32L810.23 313.30L810.48 313.28L810.48 313.28L810.73 313.27L810.97 313.25L811.10 313.24L811.22 313.23L811.47 313.22L811.71 313.20L811.71 313.20L811.96 313.19L812.21 313.17L812.33 313.17L812.46 313.16L812.70 313.15L812.95 313.14L813.57 313.11L814.18 313.09L814.80 313.06L815.42 313.04L816.04 313.03L816.65 313.01L817.27 312.99L817.89 312.98L818.51 312.97L819.12 312.96L819.74 312.95L820.36 312.94L820.98 312.93L821.59 312.92L822.21 312.91L822.83 312.90L823.45 312.90L824.06 312.89L824.68 312.89L825.30 312.88" stroke="#0000ff" stroke-width="1.2" stroke-dasharray="11 8.5"/>
<path d="M578.30 394.26L578.92 394.25L579.53 394.23L580.15 394.20L580.77 394.15L581.39 394.09L582.00 394.01L582.62 393.92L583.24 393.82L583.86 393.70L584.47 393.57L585.09 393.43L585.71 393.27L586.33 393.10L586.94 392.91L587.56 392.71L588.18 392.50L588.80 392.27L589.41 392.03L590.03 391.78L590.65 391.51L591.27 391.23L591.88 390.94L592.50 390.63L593.12 390.31L593.74 389.97L594.35 389.62L594.97 389.26L595.59 388.89L596.21 388.50L596.82 388.10L597.44 387.68L598.06 387.26L598.68 386.82L599.29 386.36L599.91 385.90L600.53 385.42L601.15 384.93L601.76 384.42L602.38 383.90L603.00 383.37L603.62 382.83L604.23 382.28L604.85 381.71L605.47 381.13L606.09 380.54L606.70 379.94L607.32 379.33L607.94 378.70L608.56 378.06L609.17 377.42L609.79 376.76L610.41 376.09L611.03 375.41L611.64 374.71L612.26 374.01L612.88 373.30L613.50 372.58L614.12 371.84L614.73 371.10L615.35 370.35L615.97 369.59L616.58 368.81L617.20 368.03L617.82 367.25L618.44 366.45L619.05 365.64L619.67 364.83L620.29 364.01L620.91 363.18L621.52 362.35L622.14 361.50L622.76 360.65L623.38 359.80L624.00 358.94L624.61 358.07L625.23 357.20L625.85 356.32L626.46 355.44L627.08 354.55L627.70 353.66L628.32 352.77L628.93 351.87L629.55 350.97L630.17 350.07L630.79 349.17L631.40 348.26L632.02 347.36L632.64 346.45L633.26 345.54L633.88 344.63L634.49 343.72L635.11 342.82L635.73 341.91L636.34 341.01L636.96 340.11L637.58 339.21L638.20 338.32L638.81 337.43L639.43 336.54L640.05 335.66L640.67 334.79L641.28 333.92L641.90 333.06L642.52 332.21L643.14 331.37L643.75 330.53L644.37 329.71L644.99 328.89L645.61 328.09L646.22 327.30L646.84 326.52L647.46 325.75L648.08 325.00L648.69 324.26L649.31 323.54L649.93 322.84L650.55 322.15L651.16 321.48L651.78 320.84L652.40 320.21L652.52 320.08L652.65 319.96L652.77 319.84L652.89 319.72L653.02 319.60L653.02 319.60L653.14 319.48L653.26 319.36L653.39 319.24L653.51 319.13L653.63 319.01L653.63 319.01L653.76 318.90L653.88 318.78L654.01 318.67L654.13 318.56L654.25 318.45L654.25 318.45L654.38 318.34L654.50 318.23L654.62 318.12L654.75 318.01L654.87 317.91L654.87 317.91L654.99 317.80L655.12 317.70L655.24 317.59L655.36 317.49L655.49 317.39L655.49 317.39L655.61 317.29L655.73 317.19L655.86 317.09L655.98 316.99L656.11 316.90L656.11 316.90L656.23 316.80L656.35 316.71L656.48 316.62L656.60 316.52L656.72 316.43L656.72 316.43L656.85 316.34L656.97 316.25L657.09 316.16L657.22 316.08L657.34 315.99L657.34 315.99L657.46 315.90L657.59 315.82L657.71 315.74L657.83 315.66L657.96 315.58L657.96 315.58L658.08 315.50L658.20 315.42L658.33 315.34L658.45 315.26L658.57 315.19L658.58 315.19L658.70 315.11L658.82 315.04L658.95 314.97L659.07 314.90L659.19 314.83L659.19 314.83L659.32 314.76L659.44 314.69L659.56 314.62L659.69 314.56L659.81 314.49L659.81 314.49L659.93 314.43L660.06 314.36L660.18 314.30L660.30 314.24L660.43 314.18L660.43 314.18L660.55 314.12L660.67 314.06L660.80 314.01L660.92 313.95L661.04 313.90L661.05 313.90L661.17 313.85L661.29 313.79L661.42 313.74L661.54 313.70L661.66 313.65L661.66 313.65L661.79 313.60L661.91 313.56L662.03 313.51L662.16 313.47L662.28 313.43L662.28 313.43L662.40 313.39L662.53 313.35L662.65 313.32L662.77 313.28L662.90 313.24L662.90 313.24L663.02 313.21L663.14 313.18L663.27 313.15L663.39 313.12L663.51 313.09L663.52 313.09L663.64 313.06L663.76 313.04L663.89 313.01L664.01 312.99L664.13 312.97L664.13 312.97L664.26 312.95L664.38 312.93L664.50 312.91L664.63 312.90L664.75 312.88L664.75 312.88L664.87 312.87L665.00 312.86L665.12 312.85L665.24 312.84L665.37 312.83L665.37 312.83L665.49 312.83L665.61 312.82L665.74 312.82L665.86 312.82L665.98 312.82L665.99 312.82L666.11 312.82L666.23 312.82L666.36 312.82L666.48 312.83L666.60 312.84L666.60 312.84L666.73 312.84L666.85 312.85L666.97 312.86L667.10 312.88L667.22 312.89L667.84 312.99L668.45 313.12L669.07 313.29L669.69 313.50L670.31 313.74L670.92 314.03L671.54 314.36L672.16 314.73L672.78 315.15L673.39 315.60L674.01 316.10L674.63 316.64L675.25 317.22L675.87 317.85L676.48 318.53L677.10 319.24L677.72 320.00L678.33 320.81L678.95 321.66L679.57 322.56L680.19 323.51L680.80 324.50L681.42 325.53L682.04 326.62L682.66 327.74L683.27 328.92L683.89 330.14L684.51 331.41L685.13 332.72L685.74 334.08L686.36 335.48L686.98 336.93L687.60 338.42L688.21 339.96L688.83 341.55L689.45 343.17L690.07 344.84L690.68 346.56L691.30 348.31L691.92 350.11L692.54 351.95L693.15 353.83L693.77 355.74L694.39 357.70L695.01 359.70L695.62 361.73L696.24 363.80L696.86 365.90L697.48 368.04L698.09 370.21L698.71 372.41L699.33 374.65L699.95 376.91L700.56 379.20L701.18 381.52L701.80 383.87L702.42 386.23L703.03 388.63L703.65 391.04L704.27 393.47L704.89 395.92L705.50 398.39L706.12 400.87L706.74 403.37L707.36 405.87L707.97 408.39L708.59 410.91L709.21 413.44L709.83 415.98L710.44 418.52L711.06 421.05L711.68 423.59L712.30 426.12L712.91 428.64L713.53 431.16L714.15 433.67L714.77 436.17L715.38 438.65L716.00 441.11L716.62 443.56L717.24 445.99L717.86 448.39L718.47 450.77L719.09 453.12L719.71 455.44L720.32 457.73L720.94 459.99L721.56 462.21L722.18 464.39L722.79 466.54L723.41 468.64L724.03 470.69L724.65 472.70L725.26 474.66L725.88 476.57L726.50 478.43L727.12 480.23L727.73 481.97L728.35 483.66L728.97 485.28L729.59 486.85L730.20 488.34L730.82 489.78L731.44 491.14L732.06 492.43L732.67 493.66L733.29 494.80L733.91 495.88L734.53 496.88L735.14 497.80L735.76 498.64L736.38 499.40L737.00 500.08L737.62 500.68L738.23 501.20L738.85 501.63L739.47 501.97L740.08 502.23L740.70 502.41L741.32 502.49L741.94 502.49L742.55 502.40L743.17 502.21L743.79 501.94L744.41 501.58L745.02 501.14L745.64 500.60L746.26 499.97L746.88 499.25L747.49 498.44L748.11 497.55L748.73 496.57L749.35 495.49L749.96 494.34L750.58 493.09L751.20 491.76L751.82 490.35L752.43 488.85L753.05 487.28L753.67 485.62L754.29 483.88L754.90 482.06L755.52 480.17L756.14 478.21L756.76 476.17L757.38 474.06L757.99 471.88L758.61 469.64L759.23 467.33L759.84 464.95L760.46 462.52L761.08 460.03L761.70 457.49L762.31 454.89L762.93 452.24L763.55 449.55L764.17 446.81L764.78 444.03L765.40 441.21L766.02 438.36L766.64 435.47L767.25 432.55L767.87 429.61L768.49 426.64L769.11 423.65L769.72 420.65L770.34 417.63L770.96 414.60L771.58 411.57L772.19 408.53L772.81 405.49L773.43 402.45L774.05 399.42L774.66 396.40L775.28 393.40L775.90 390.41L776.52 387.44L777.13 384.49L777.75 381.57L778.37 378.68L778.99 375.83L779.61 373.01L780.22 370.23L780.84 367.49L781.46 364.80L782.07 362.16L782.69 359.57L783.31 357.04L783.93 354.56L784.54 352.15L785.16 349.80L785.78 347.51L786.40 345.30L787.01 343.15L787.63 341.08L788.25 339.08L788.50 338.30L788.74 337.53L788.87 337.16L788.99 336.78L789.24 336.04L789.48 335.31L789.48 335.31L789.73 334.60L789.98 333.90L790.10 333.55L790.23 333.21L790.47 332.53L790.72 331.87L790.72 331.87L790.97 331.22L791.21 330.58L791.34 330.27L791.46 329.96L791.71 329.35L791.95 328.76L791.95 328.76L792.20 328.18L792.45 327.61L792.57 327.33L792.70 327.05L792.94 326.51L793.19 325.98L793.19 325.98L793.44 325.47L793.68 324.97L793.81 324.72L793.93 324.48L794.18 324.01L794.42 323.55L794.42 323.55L794.67 323.10L794.92 322.67L795.04 322.46L795.17 322.25L795.41 321.84L795.66 321.45L795.66 321.45L795.91 321.07L796.15 320.70L796.28 320.52L796.40 320.35L796.65 320.00L796.89 319.67L796.89 319.67L797.14 319.36L797.39 319.05L797.51 318.90L797.64 318.76L797.88 318.47L798.13 318.20L798.13 318.20L798.38 317.94L798.62 317.70L798.75 317.58L798.87 317.46L799.12 317.23L799.36 317.01L799.37 317.01L799.61 316.81L799.86 316.61L799.98 316.51L800.11 316.42L800.35 316.24L800.60 316.07L800.60 316.07L800.85 315.91L801.09 315.75L801.22 315.68L801.34 315.60L801.59 315.46L801.83 315.33L801.83 315.33L802.08 315.21L802.33 315.09L802.45 315.03L802.58 314.98L802.82 314.87L803.07 314.77L803.07 314.77L803.32 314.67L803.56 314.58L803.69 314.54L803.81 314.50L804.06 314.42L804.30 314.34L804.30 314.34L804.55 314.27L804.80 314.20L804.92 314.17L805.05 314.13L805.29 314.07L805.54 314.02L805.54 314.02L805.79 313.96L806.03 313.91L806.16 313.88L806.28 313.86L806.53 313.81L806.77 313.77L806.77 313.77L807.02 313.73L807.27 313.69L807.39 313.67L807.52 313.65L807.76 313.62L808.01 313.58L808.01 313.58L808.26 313.55L808.50 313.52L808.63 313.50L808.75 313.49L809.00 313.46L809.24 313.44L809.24 313.44L809.49 313.41L809.74 313.39L809.86 313.38L809.99 313.37L810.23 313.35L810.48 313.33L810.48 313.33L810.73 313.31L810.97 313.29L811.10 313.28L811.22 313.27L811.47 313.25L811.71 313.24L811.71 313.24L811.96 313.22L812.21 313.21L812.33 313.20L812.46 313.19L812.70 313.18L812.95 313.17L813.57 313.14L814.18 313.11L814.80 313.09L815.42 313.07L816.04 313.05L816.65 313.03L817.27 313.01L817.89 313.00L818.51 312.98L819.12 312.97L819.74 312.96L820.36 312.95L820.98 312.94L821.59 312.93L822.21 312.92L822.83 312.92L823.45 312.91L824.06 312.90L824.68 312.90L825.30 312.89" stroke="#000" stroke-width="1.15"/>
</g>
<g filter="url(#gs)">
<text transform="translate(72.6,266.15) scale(1,1.045)" font-size="20.5" text-anchor="end">0</text>
<text transform="translate(66.6,228.20) scale(1,1.045)" font-size="20.5" text-anchor="end">0.2</text>
<text transform="translate(66.6,190.26) scale(1,1.045)" font-size="20.5" text-anchor="end">0.4</text>
<text transform="translate(66.6,152.31) scale(1,1.045)" font-size="20.5" text-anchor="end">0.6</text>
<text transform="translate(66.6,114.37) scale(1,1.045)" font-size="20.5" text-anchor="end">0.8</text>
<path d="M69.70 76.42H67.80V66.07H63.60V64.77Q67.20 64.42 68.25 61.72H69.70Z" fill="#000"/>
<text transform="translate(72.6,512.80) scale(1,1.045)" font-size="20.5" text-anchor="end">0</text>
<text transform="translate(66.6,474.85) scale(1,1.045)" font-size="20.5" text-anchor="end">0.2</text>
<text transform="translate(66.6,436.91) scale(1,1.045)" font-size="20.5" text-anchor="end">0.4</text>
<text transform="translate(66.6,398.96) scale(1,1.045)" font-size="20.5" text-anchor="end">0.6</text>
<text transform="translate(66.6,361.02) scale(1,1.045)" font-size="20.5" text-anchor="end">0.8</text>
<path d="M69.70 323.07H67.80V312.72H63.60V311.42Q67.20 311.07 68.25 308.37H69.70Z" fill="#000"/>
<text transform="translate(83.60,534.8) scale(1,1.04)" font-size="20.5" text-anchor="middle">0</text>
<text transform="translate(133.00,534.8) scale(1,1.04)" font-size="20.5" text-anchor="middle">20</text>
<text transform="translate(182.40,534.8) scale(1,1.04)" font-size="20.5" text-anchor="middle">40</text>
<text transform="translate(231.80,534.8) scale(1,1.04)" font-size="20.5" text-anchor="middle">60</text>
<text transform="translate(281.20,534.8) scale(1,1.04)" font-size="20.5" text-anchor="middle">80</text>
<path d="M322.10 534.70H320.20V524.35H316.00V523.05Q319.60 522.70 320.65 520.00H322.10Z" fill="#000"/>
<text transform="translate(324.40,534.8) scale(1,1.04)" font-size="20.5">00</text>
<text transform="translate(380.00,534.8) scale(1,1.04)" font-size="20.5" text-anchor="middle">20</text>
<text transform="translate(429.40,534.8) scale(1,1.04)" font-size="20.5" text-anchor="middle">40</text>
<text transform="translate(478.80,534.8) scale(1,1.04)" font-size="20.5" text-anchor="middle">60</text>
<text transform="translate(528.20,534.8) scale(1,1.04)" font-size="20.5" text-anchor="middle">80</text>
<path d="M569.10 534.70H567.20V524.35H563.00V523.05Q566.60 522.70 567.65 520.00H569.10Z" fill="#000"/>
<text transform="translate(571.40,534.8) scale(1,1.04)" font-size="20.5">00</text>
<text transform="translate(627.00,534.8) scale(1,1.04)" font-size="20.5" text-anchor="middle">20</text>
<text transform="translate(676.40,534.8) scale(1,1.04)" font-size="20.5" text-anchor="middle">40</text>
<text transform="translate(725.80,534.8) scale(1,1.04)" font-size="20.5" text-anchor="middle">60</text>
<text transform="translate(775.20,534.8) scale(1,1.04)" font-size="20.5" text-anchor="middle">80</text>
<path d="M816.10 534.70H814.20V524.35H810.00V523.05Q813.60 522.70 814.65 520.00H816.10Z" fill="#000"/>
<text transform="translate(818.40,534.8) scale(1,1.04)" font-size="20.5">00</text>
<g class="s" font-size="19.4" transform="translate(84.30,41.90)"><text x="37.6" y="0" textLength="10.6" lengthAdjust="spacingAndGlyphs" font-style="italic">θ</text><text class="sub" x="49.5" y="6.3" font-size="11.8" textLength="12.9" lengthAdjust="spacingAndGlyphs">13</text><text x="63.6" y="0" textLength="13" lengthAdjust="spacingAndGlyphs" dy="1">=</text><text x="79.3" y="0" textLength="10.8" lengthAdjust="spacingAndGlyphs" >9</text><circle cx="94.1" cy="-12.2" r="1.55"/><text x="97.2" y="0" textLength="3.4" lengthAdjust="spacingAndGlyphs" >;</text><text x="112.8" y="0" textLength="10.6" lengthAdjust="spacingAndGlyphs" >E</text><text x="124.9" y="0" textLength="13.3" lengthAdjust="spacingAndGlyphs" dy="1">=</text><text x="141.0" y="0" textLength="10.6" lengthAdjust="spacingAndGlyphs" >2</text></g>
<g class="s" font-size="19.4" transform="translate(331.30,41.90)"><text x="37.6" y="0" textLength="10.6" lengthAdjust="spacingAndGlyphs" font-style="italic">θ</text><text class="sub" x="49.5" y="6.3" font-size="11.8" textLength="12.9" lengthAdjust="spacingAndGlyphs">13</text><text x="63.6" y="0" textLength="13" lengthAdjust="spacingAndGlyphs" dy="1">=</text><text x="79.3" y="0" textLength="10.8" lengthAdjust="spacingAndGlyphs" >9</text><circle cx="94.1" cy="-12.2" r="1.55"/><text x="97.2" y="0" textLength="3.4" lengthAdjust="spacingAndGlyphs" >;</text><text x="112.8" y="0" textLength="10.6" lengthAdjust="spacingAndGlyphs" >E</text><text x="124.9" y="0" textLength="13.3" lengthAdjust="spacingAndGlyphs" dy="1">=</text><text x="141.0" y="0" textLength="10.6" lengthAdjust="spacingAndGlyphs" >5</text></g>
<g class="s" font-size="19.4" transform="translate(578.30,41.90)"><text x="37.6" y="0" textLength="10.6" lengthAdjust="spacingAndGlyphs" font-style="italic">θ</text><text class="sub" x="49.5" y="6.3" font-size="11.8" textLength="12.9" lengthAdjust="spacingAndGlyphs">13</text><text x="63.6" y="0" textLength="13" lengthAdjust="spacingAndGlyphs" dy="1">=</text><text x="79.3" y="0" textLength="10.8" lengthAdjust="spacingAndGlyphs" >9</text><circle cx="94.1" cy="-12.2" r="1.55"/><text x="97.2" y="0" textLength="3.4" lengthAdjust="spacingAndGlyphs" >;</text><text x="112.8" y="0" textLength="10.6" lengthAdjust="spacingAndGlyphs" >E</text><text x="124.9" y="0" textLength="13.3" lengthAdjust="spacingAndGlyphs" dy="1">=</text><text x="141.0" y="0" textLength="23.0" lengthAdjust="spacingAndGlyphs" >10</text></g>
<g class="s" font-size="19.4" transform="translate(84.30,288.25)"><text x="37.6" y="0" textLength="10.6" lengthAdjust="spacingAndGlyphs" font-style="italic">θ</text><text class="sub" x="49.5" y="6.3" font-size="11.8" textLength="12.9" lengthAdjust="spacingAndGlyphs">13</text><text x="63.6" y="0" textLength="13" lengthAdjust="spacingAndGlyphs" dy="1">=</text><text x="79.3" y="0" textLength="10.8" lengthAdjust="spacingAndGlyphs" >0</text><circle cx="94.1" cy="-12.2" r="1.55"/><text x="97.2" y="0" textLength="3.4" lengthAdjust="spacingAndGlyphs" >;</text><text x="112.8" y="0" textLength="10.6" lengthAdjust="spacingAndGlyphs" >E</text><text x="124.9" y="0" textLength="13.3" lengthAdjust="spacingAndGlyphs" dy="1">=</text><text x="141.0" y="0" textLength="10.6" lengthAdjust="spacingAndGlyphs" >2</text></g>
<g class="s" font-size="19.4" transform="translate(331.30,288.25)"><text x="37.6" y="0" textLength="10.6" lengthAdjust="spacingAndGlyphs" font-style="italic">θ</text><text class="sub" x="49.5" y="6.3" font-size="11.8" textLength="12.9" lengthAdjust="spacingAndGlyphs">13</text><text x="63.6" y="0" textLength="13" lengthAdjust="spacingAndGlyphs" dy="1">=</text><text x="79.3" y="0" textLength="10.8" lengthAdjust="spacingAndGlyphs" >0</text><circle cx="94.1" cy="-12.2" r="1.55"/><text x="97.2" y="0" textLength="3.4" lengthAdjust="spacingAndGlyphs" >;</text><text x="112.8" y="0" textLength="10.6" lengthAdjust="spacingAndGlyphs" >E</text><text x="124.9" y="0" textLength="13.3" lengthAdjust="spacingAndGlyphs" dy="1">=</text><text x="141.0" y="0" textLength="10.6" lengthAdjust="spacingAndGlyphs" >5</text></g>
<g class="s" font-size="19.4" transform="translate(578.30,288.25)"><text x="37.6" y="0" textLength="10.6" lengthAdjust="spacingAndGlyphs" font-style="italic">θ</text><text class="sub" x="49.5" y="6.3" font-size="11.8" textLength="12.9" lengthAdjust="spacingAndGlyphs">13</text><text x="63.6" y="0" textLength="13" lengthAdjust="spacingAndGlyphs" dy="1">=</text><text x="79.3" y="0" textLength="10.8" lengthAdjust="spacingAndGlyphs" >0</text><circle cx="94.1" cy="-12.2" r="1.55"/><text x="97.2" y="0" textLength="3.4" lengthAdjust="spacingAndGlyphs" >;</text><text x="112.8" y="0" textLength="10.6" lengthAdjust="spacingAndGlyphs" >E</text><text x="124.9" y="0" textLength="13.3" lengthAdjust="spacingAndGlyphs" dy="1">=</text><text x="141.0" y="0" textLength="23.0" lengthAdjust="spacingAndGlyphs" >10</text></g>
<g class="s" font-size="19.4"><text x="341.6" y="167.5" textLength="23" lengthAdjust="spacingAndGlyphs">37</text><circle cx="368.40000000000003" cy="156.5" r="1.55"/></g>
<g class="s" font-size="19.4"><text x="341.6" y="196.4" textLength="23" lengthAdjust="spacingAndGlyphs">45</text><circle cx="368.40000000000003" cy="185.4" r="1.55"/></g>
<g class="s" font-size="19.4"><text x="341.6" y="244.0" textLength="23" lengthAdjust="spacingAndGlyphs">53</text><circle cx="368.40000000000003" cy="233.0" r="1.55"/></g>
<g class="s" transform="translate(19.0,146.8) rotate(-90)"><text x="0" y="0" font-size="19.4" textLength="11.4" lengthAdjust="spacingAndGlyphs">P</text><text class="sub" x="12.9" y="6.3" font-size="11.8" font-style="italic" textLength="17" lengthAdjust="spacingAndGlyphs">μμ</text></g>
<g class="s" transform="translate(19.0,393.4) rotate(-90)"><text x="0" y="0" font-size="19.4" textLength="11.4" lengthAdjust="spacingAndGlyphs">P</text><text class="sub" x="12.9" y="6.3" font-size="11.8" font-style="italic" textLength="17" lengthAdjust="spacingAndGlyphs">μμ</text></g>
<g class="s"><text x="199.9" y="558.7" font-size="19" font-style="italic" textLength="9.6" lengthAdjust="spacingAndGlyphs">θ</text><circle cx="213.8" cy="547" r="1.55"/></g>
<g class="s"><text x="446.9" y="558.7" font-size="19" font-style="italic" textLength="9.6" lengthAdjust="spacingAndGlyphs">θ</text><circle cx="460.8" cy="547" r="1.55"/></g>
<g class="s"><text x="693.9" y="558.7" font-size="19" font-style="italic" textLength="9.6" lengthAdjust="spacingAndGlyphs">θ</text><circle cx="707.8" cy="547" r="1.55"/></g>
</g></svg></body></html>
